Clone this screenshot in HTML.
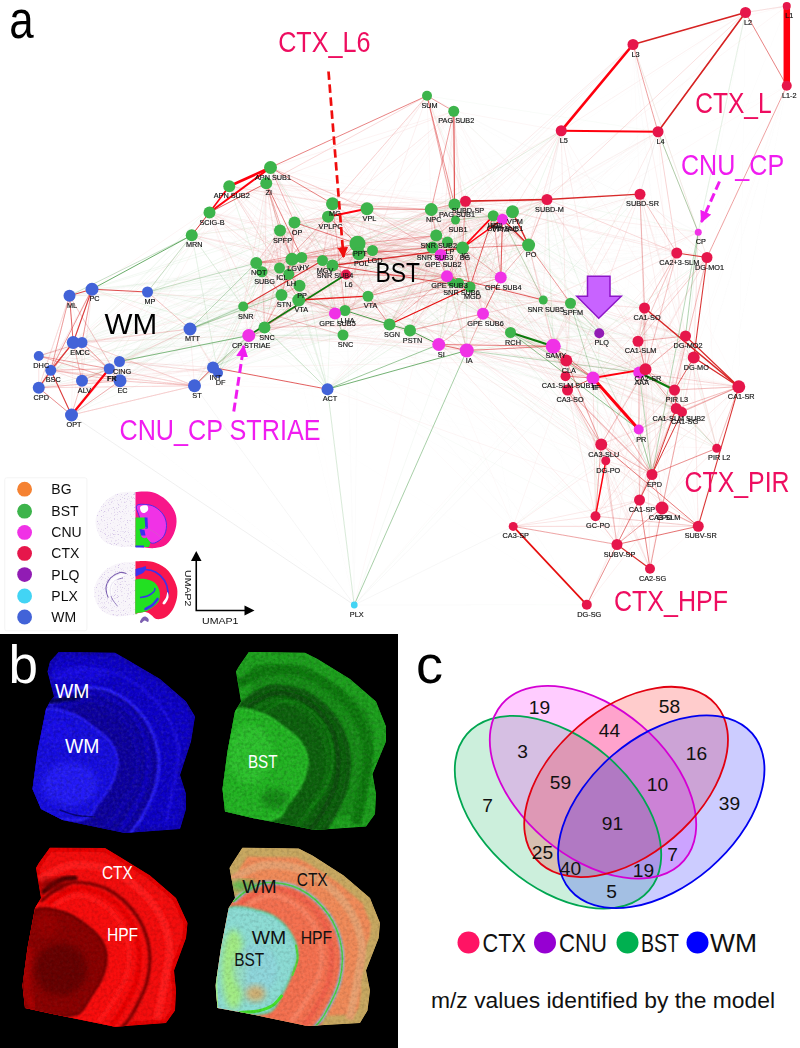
<!DOCTYPE html>
<html><head><meta charset="utf-8"><title>figure</title>
<style>
html,body{margin:0;padding:0;background:#fff;}
svg{display:block;font-family:"Liberation Sans",sans-serif;}
.nl{font-size:7.3px;fill:#111;stroke:#111;stroke-width:0.15px;text-anchor:middle;}
</style></head><body>
<svg width="800" height="1048" viewBox="0 0 800 1048">
<rect width="800" height="1048" fill="#fff"/>
<defs><filter id="soft" x="0" y="0" width="100%" height="100%" filterUnits="userSpaceOnUse"><feGaussianBlur stdDeviation="0.45"/></filter></defs>
<g id="panel-a" filter="url(#soft)">
<g stroke-linecap="round" fill="none">
<path d="M69.5 295.8L92.0 289.2" stroke="#d03030" stroke-width="0.8" stroke-opacity="0.100"/>
<path d="M69.5 295.8L147.5 292.0" stroke="#d03030" stroke-width="0.8" stroke-opacity="0.086"/>
<path d="M69.5 295.8L82.0 342.5" stroke="#d03030" stroke-width="0.8" stroke-opacity="0.050"/>
<path d="M69.5 295.8L50.8 370.2" stroke="#d03030" stroke-width="0.8" stroke-opacity="0.188"/>
<path d="M69.5 295.8L109.2 368.8" stroke="#d03030" stroke-width="0.8" stroke-opacity="0.029"/>
<path d="M69.5 295.8L120.0 380.8" stroke="#d03030" stroke-width="0.8" stroke-opacity="0.336"/>
<path d="M69.5 295.8L191.8 235.2" stroke="#2e8b2e" stroke-width="0.8" stroke-opacity="0.031"/>
<path d="M69.5 295.8L294.5 222.5" stroke="#2e8b2e" stroke-width="0.8" stroke-opacity="0.068"/>
<path d="M69.5 295.8L256.2 263.0" stroke="#d03030" stroke-width="0.8" stroke-opacity="0.024"/>
<path d="M69.5 295.8L301.8 257.5" stroke="#2e8b2e" stroke-width="0.8" stroke-opacity="0.051"/>
<path d="M69.5 295.8L322.5 260.5" stroke="#d03030" stroke-width="0.8" stroke-opacity="0.024"/>
<path d="M69.5 295.8L299.5 285.8" stroke="#2e8b2e" stroke-width="0.8" stroke-opacity="0.022"/>
<path d="M69.5 295.8L281.5 295.0" stroke="#2e8b2e" stroke-width="0.8" stroke-opacity="0.080"/>
<path d="M69.5 295.8L372.5 250.5" stroke="#8c8c8c" stroke-width="0.8" stroke-opacity="0.032"/>
<path d="M69.5 295.8L565.5 376.2" stroke="#8c8c8c" stroke-width="0.8" stroke-opacity="0.006"/>
<path d="M92.0 289.2L190.0 329.0" stroke="#d03030" stroke-width="0.8" stroke-opacity="0.086"/>
<path d="M92.0 289.2L73.2 342.5" stroke="#d03030" stroke-width="0.8" stroke-opacity="0.209"/>
<path d="M92.0 289.2L82.0 380.8" stroke="#d03030" stroke-width="0.8" stroke-opacity="0.101"/>
<path d="M92.0 289.2L38.8 387.8" stroke="#d03030" stroke-width="0.8" stroke-opacity="0.115"/>
<path d="M92.0 289.2L270.5 167.5" stroke="#d03030" stroke-width="0.8" stroke-opacity="0.057"/>
<path d="M92.0 289.2L328.0 216.8" stroke="#2e8b2e" stroke-width="0.8" stroke-opacity="0.063"/>
<path d="M92.0 289.2L262.0 271.8" stroke="#2e8b2e" stroke-width="0.8" stroke-opacity="0.076"/>
<path d="M92.0 289.2L288.8 274.2" stroke="#2e8b2e" stroke-width="0.8" stroke-opacity="0.028"/>
<path d="M92.0 289.2L322.5 260.5" stroke="#d03030" stroke-width="0.8" stroke-opacity="0.019"/>
<path d="M92.0 289.2L248.8 335.5" stroke="#2e8b2e" stroke-width="0.8" stroke-opacity="0.111"/>
<path d="M92.0 289.2L483.0 313.8" stroke="#8c8c8c" stroke-width="0.8" stroke-opacity="0.008"/>
<path d="M92.0 289.2L553.2 346.2" stroke="#2e8b2e" stroke-width="0.8" stroke-opacity="0.021"/>
<path d="M92.0 289.2L640.0 194.2" stroke="#8c8c8c" stroke-width="0.8" stroke-opacity="0.008"/>
<path d="M147.5 292.0L190.0 329.0" stroke="#d03030" stroke-width="0.8" stroke-opacity="0.179"/>
<path d="M147.5 292.0L73.2 342.5" stroke="#d03030" stroke-width="0.8" stroke-opacity="0.059"/>
<path d="M147.5 292.0L82.0 342.5" stroke="#d03030" stroke-width="0.8" stroke-opacity="0.029"/>
<path d="M147.5 292.0L50.8 370.2" stroke="#d03030" stroke-width="0.8" stroke-opacity="0.040"/>
<path d="M147.5 292.0L119.5 361.5" stroke="#d03030" stroke-width="0.8" stroke-opacity="0.034"/>
<path d="M147.5 292.0L194.5 385.8" stroke="#d03030" stroke-width="0.8" stroke-opacity="0.034"/>
<path d="M147.5 292.0L229.2 186.2" stroke="#d03030" stroke-width="0.8" stroke-opacity="0.043"/>
<path d="M147.5 292.0L191.8 235.2" stroke="#2e8b2e" stroke-width="0.8" stroke-opacity="0.151"/>
<path d="M147.5 292.0L280.0 230.5" stroke="#2e8b2e" stroke-width="0.8" stroke-opacity="0.059"/>
<path d="M147.5 292.0L328.0 216.8" stroke="#2e8b2e" stroke-width="0.8" stroke-opacity="0.116"/>
<path d="M147.5 292.0L301.8 257.5" stroke="#2e8b2e" stroke-width="0.8" stroke-opacity="0.057"/>
<path d="M147.5 292.0L332.5 265.5" stroke="#2e8b2e" stroke-width="0.8" stroke-opacity="0.043"/>
<path d="M147.5 292.0L243.2 306.5" stroke="#2e8b2e" stroke-width="0.8" stroke-opacity="0.043"/>
<path d="M147.5 292.0L358.8 253.8" stroke="#2e8b2e" stroke-width="0.8" stroke-opacity="0.076"/>
<path d="M147.5 292.0L372.5 250.5" stroke="#2e8b2e" stroke-width="0.8" stroke-opacity="0.021"/>
<path d="M147.5 292.0L343.0 335.0" stroke="#2e8b2e" stroke-width="0.8" stroke-opacity="0.073"/>
<path d="M147.5 292.0L248.8 335.5" stroke="#d03030" stroke-width="0.8" stroke-opacity="0.040"/>
<path d="M147.5 292.0L335.0 313.5" stroke="#d03030" stroke-width="0.8" stroke-opacity="0.125"/>
<path d="M147.5 292.0L440.8 255.0" stroke="#8c8c8c" stroke-width="0.8" stroke-opacity="0.014"/>
<path d="M147.5 292.0L447.0 276.2" stroke="#2e8b2e" stroke-width="0.8" stroke-opacity="0.061"/>
<path d="M147.5 292.0L438.8 344.5" stroke="#2e8b2e" stroke-width="0.8" stroke-opacity="0.016"/>
<path d="M147.5 292.0L346.0 274.5" stroke="#2e8b2e" stroke-width="0.8" stroke-opacity="0.019"/>
<path d="M147.5 292.0L465.5 201.2" stroke="#d03030" stroke-width="0.8" stroke-opacity="0.030"/>
<path d="M147.5 292.0L676.2 408.5" stroke="#8c8c8c" stroke-width="0.8" stroke-opacity="0.015"/>
<path d="M147.5 292.0L605.8 460.8" stroke="#d03030" stroke-width="0.8" stroke-opacity="0.033"/>
<path d="M190.0 329.0L73.2 342.5" stroke="#d03030" stroke-width="0.8" stroke-opacity="0.138"/>
<path d="M190.0 329.0L119.5 361.5" stroke="#d03030" stroke-width="0.8" stroke-opacity="0.115"/>
<path d="M190.0 329.0L109.2 368.8" stroke="#d03030" stroke-width="0.8" stroke-opacity="0.028"/>
<path d="M190.0 329.0L82.0 380.8" stroke="#d03030" stroke-width="0.8" stroke-opacity="0.149"/>
<path d="M190.0 329.0L194.5 385.8" stroke="#d03030" stroke-width="0.8" stroke-opacity="0.082"/>
<path d="M190.0 329.0L213.0 367.5" stroke="#d03030" stroke-width="0.8" stroke-opacity="0.125"/>
<path d="M190.0 329.0L218.0 373.0" stroke="#d03030" stroke-width="0.8" stroke-opacity="0.101"/>
<path d="M190.0 329.0L270.5 167.5" stroke="#2e8b2e" stroke-width="0.8" stroke-opacity="0.024"/>
<path d="M190.0 329.0L266.2 183.2" stroke="#d03030" stroke-width="0.8" stroke-opacity="0.029"/>
<path d="M190.0 329.0L367.0 208.8" stroke="#2e8b2e" stroke-width="0.8" stroke-opacity="0.052"/>
<path d="M190.0 329.0L256.2 263.0" stroke="#2e8b2e" stroke-width="0.8" stroke-opacity="0.161"/>
<path d="M190.0 329.0L262.0 271.8" stroke="#2e8b2e" stroke-width="0.8" stroke-opacity="0.066"/>
<path d="M190.0 329.0L332.5 265.5" stroke="#2e8b2e" stroke-width="0.8" stroke-opacity="0.074"/>
<path d="M190.0 329.0L299.5 285.8" stroke="#2e8b2e" stroke-width="0.8" stroke-opacity="0.097"/>
<path d="M190.0 329.0L281.5 295.0" stroke="#2e8b2e" stroke-width="0.8" stroke-opacity="0.259"/>
<path d="M190.0 329.0L298.8 300.0" stroke="#2e8b2e" stroke-width="0.8" stroke-opacity="0.141"/>
<path d="M190.0 329.0L243.2 306.5" stroke="#2e8b2e" stroke-width="0.8" stroke-opacity="0.204"/>
<path d="M190.0 329.0L345.0 310.5" stroke="#d03030" stroke-width="0.8" stroke-opacity="0.055"/>
<path d="M190.0 329.0L454.5 204.5" stroke="#8c8c8c" stroke-width="0.8" stroke-opacity="0.033"/>
<path d="M190.0 329.0L455.5 220.0" stroke="#8c8c8c" stroke-width="0.8" stroke-opacity="0.027"/>
<path d="M190.0 329.0L248.8 335.5" stroke="#2e8b2e" stroke-width="0.8" stroke-opacity="0.045"/>
<path d="M190.0 329.0L553.2 346.2" stroke="#8c8c8c" stroke-width="0.8" stroke-opacity="0.008"/>
<path d="M190.0 329.0L346.0 274.5" stroke="#d03030" stroke-width="0.8" stroke-opacity="0.074"/>
<path d="M73.2 342.5L82.0 342.5" stroke="#d03030" stroke-width="0.8" stroke-opacity="0.058"/>
<path d="M73.2 342.5L38.8 356.0" stroke="#d03030" stroke-width="0.8" stroke-opacity="0.039"/>
<path d="M73.2 342.5L50.8 370.2" stroke="#d03030" stroke-width="0.8" stroke-opacity="0.038"/>
<path d="M73.2 342.5L82.0 380.8" stroke="#d03030" stroke-width="0.8" stroke-opacity="0.156"/>
<path d="M73.2 342.5L38.8 387.8" stroke="#d03030" stroke-width="0.8" stroke-opacity="0.187"/>
<path d="M73.2 342.5L71.5 415.0" stroke="#d03030" stroke-width="0.8" stroke-opacity="0.053"/>
<path d="M73.2 342.5L194.5 385.8" stroke="#d03030" stroke-width="0.8" stroke-opacity="0.029"/>
<path d="M73.2 342.5L266.2 183.2" stroke="#d03030" stroke-width="0.8" stroke-opacity="0.064"/>
<path d="M73.2 342.5L209.5 212.5" stroke="#2e8b2e" stroke-width="0.8" stroke-opacity="0.048"/>
<path d="M73.2 342.5L328.0 216.8" stroke="#8c8c8c" stroke-width="0.8" stroke-opacity="0.028"/>
<path d="M73.2 342.5L367.0 208.8" stroke="#8c8c8c" stroke-width="0.8" stroke-opacity="0.037"/>
<path d="M73.2 342.5L262.0 271.8" stroke="#2e8b2e" stroke-width="0.8" stroke-opacity="0.075"/>
<path d="M73.2 342.5L248.8 335.5" stroke="#2e8b2e" stroke-width="0.8" stroke-opacity="0.031"/>
<path d="M73.2 342.5L466.8 350.5" stroke="#8c8c8c" stroke-width="0.8" stroke-opacity="0.007"/>
<path d="M73.2 342.5L605.8 460.8" stroke="#d03030" stroke-width="0.8" stroke-opacity="0.011"/>
<path d="M82.0 342.5L38.8 356.0" stroke="#d03030" stroke-width="0.8" stroke-opacity="0.425"/>
<path d="M82.0 342.5L119.5 361.5" stroke="#d03030" stroke-width="0.8" stroke-opacity="0.048"/>
<path d="M82.0 342.5L109.2 368.8" stroke="#d03030" stroke-width="0.8" stroke-opacity="0.076"/>
<path d="M82.0 342.5L82.0 380.8" stroke="#d03030" stroke-width="0.8" stroke-opacity="0.153"/>
<path d="M82.0 342.5L38.8 387.8" stroke="#d03030" stroke-width="0.8" stroke-opacity="0.150"/>
<path d="M82.0 342.5L71.5 415.0" stroke="#d03030" stroke-width="0.8" stroke-opacity="0.034"/>
<path d="M82.0 342.5L194.5 385.8" stroke="#d03030" stroke-width="0.8" stroke-opacity="0.026"/>
<path d="M82.0 342.5L266.2 183.2" stroke="#2e8b2e" stroke-width="0.8" stroke-opacity="0.029"/>
<path d="M82.0 342.5L294.5 222.5" stroke="#2e8b2e" stroke-width="0.8" stroke-opacity="0.028"/>
<path d="M82.0 342.5L367.0 208.8" stroke="#8c8c8c" stroke-width="0.8" stroke-opacity="0.061"/>
<path d="M82.0 342.5L281.5 295.0" stroke="#2e8b2e" stroke-width="0.8" stroke-opacity="0.072"/>
<path d="M82.0 342.5L368.0 296.2" stroke="#2e8b2e" stroke-width="0.8" stroke-opacity="0.015"/>
<path d="M82.0 342.5L264.5 327.5" stroke="#d03030" stroke-width="0.8" stroke-opacity="0.037"/>
<path d="M82.0 342.5L389.5 324.5" stroke="#8c8c8c" stroke-width="0.8" stroke-opacity="0.013"/>
<path d="M82.0 342.5L431.2 209.5" stroke="#2e8b2e" stroke-width="0.8" stroke-opacity="0.054"/>
<path d="M82.0 342.5L451.8 282.5" stroke="#2e8b2e" stroke-width="0.8" stroke-opacity="0.018"/>
<path d="M82.0 342.5L512.5 211.8" stroke="#2e8b2e" stroke-width="0.8" stroke-opacity="0.011"/>
<path d="M82.0 342.5L248.8 335.5" stroke="#d03030" stroke-width="0.8" stroke-opacity="0.089"/>
<path d="M82.0 342.5L346.0 274.5" stroke="#d03030" stroke-width="0.8" stroke-opacity="0.019"/>
<path d="M38.8 356.0L50.8 370.2" stroke="#d03030" stroke-width="0.8" stroke-opacity="0.045"/>
<path d="M38.8 356.0L119.5 361.5" stroke="#d03030" stroke-width="0.8" stroke-opacity="0.082"/>
<path d="M38.8 356.0L109.2 368.8" stroke="#d03030" stroke-width="0.8" stroke-opacity="0.084"/>
<path d="M38.8 356.0L120.0 380.8" stroke="#d03030" stroke-width="0.8" stroke-opacity="0.100"/>
<path d="M38.8 356.0L82.0 380.8" stroke="#d03030" stroke-width="0.8" stroke-opacity="0.073"/>
<path d="M38.8 356.0L38.8 387.8" stroke="#d03030" stroke-width="0.8" stroke-opacity="0.147"/>
<path d="M38.8 356.0L332.5 203.8" stroke="#d03030" stroke-width="0.8" stroke-opacity="0.044"/>
<path d="M38.8 356.0L279.5 268.0" stroke="#2e8b2e" stroke-width="0.8" stroke-opacity="0.016"/>
<path d="M38.8 356.0L288.8 274.2" stroke="#8c8c8c" stroke-width="0.8" stroke-opacity="0.043"/>
<path d="M38.8 356.0L281.5 295.0" stroke="#d03030" stroke-width="0.8" stroke-opacity="0.085"/>
<path d="M38.8 356.0L343.0 335.0" stroke="#2e8b2e" stroke-width="0.8" stroke-opacity="0.055"/>
<path d="M38.8 356.0L410.0 330.5" stroke="#8c8c8c" stroke-width="0.8" stroke-opacity="0.010"/>
<path d="M38.8 356.0L431.2 209.5" stroke="#8c8c8c" stroke-width="0.8" stroke-opacity="0.035"/>
<path d="M38.8 356.0L436.2 235.5" stroke="#8c8c8c" stroke-width="0.8" stroke-opacity="0.007"/>
<path d="M38.8 356.0L483.0 313.8" stroke="#8c8c8c" stroke-width="0.8" stroke-opacity="0.006"/>
<path d="M38.8 356.0L354.2 605.0" stroke="#8c8c8c" stroke-width="0.8" stroke-opacity="0.015"/>
<path d="M50.8 370.2L109.2 368.8" stroke="#d03030" stroke-width="0.8" stroke-opacity="0.038"/>
<path d="M50.8 370.2L120.0 380.8" stroke="#d03030" stroke-width="0.8" stroke-opacity="0.103"/>
<path d="M50.8 370.2L82.0 380.8" stroke="#d03030" stroke-width="0.8" stroke-opacity="0.174"/>
<path d="M50.8 370.2L71.5 415.0" stroke="#d03030" stroke-width="0.8" stroke-opacity="0.144"/>
<path d="M50.8 370.2L194.5 385.8" stroke="#d03030" stroke-width="0.8" stroke-opacity="0.047"/>
<path d="M50.8 370.2L191.8 235.2" stroke="#2e8b2e" stroke-width="0.8" stroke-opacity="0.056"/>
<path d="M50.8 370.2L367.0 208.8" stroke="#8c8c8c" stroke-width="0.8" stroke-opacity="0.019"/>
<path d="M50.8 370.2L279.5 268.0" stroke="#2e8b2e" stroke-width="0.8" stroke-opacity="0.084"/>
<path d="M50.8 370.2L299.5 285.8" stroke="#2e8b2e" stroke-width="0.8" stroke-opacity="0.022"/>
<path d="M50.8 370.2L243.2 306.5" stroke="#2e8b2e" stroke-width="0.8" stroke-opacity="0.086"/>
<path d="M50.8 370.2L264.5 327.5" stroke="#2e8b2e" stroke-width="0.8" stroke-opacity="0.033"/>
<path d="M50.8 370.2L410.0 330.5" stroke="#2e8b2e" stroke-width="0.8" stroke-opacity="0.023"/>
<path d="M50.8 370.2L436.2 235.5" stroke="#8c8c8c" stroke-width="0.8" stroke-opacity="0.009"/>
<path d="M50.8 370.2L459.0 283.0" stroke="#2e8b2e" stroke-width="0.8" stroke-opacity="0.052"/>
<path d="M50.8 370.2L335.0 313.5" stroke="#8c8c8c" stroke-width="0.8" stroke-opacity="0.020"/>
<path d="M119.5 361.5L109.2 368.8" stroke="#d03030" stroke-width="0.8" stroke-opacity="0.039"/>
<path d="M119.5 361.5L120.0 380.8" stroke="#2e8b2e" stroke-width="0.8" stroke-opacity="0.042"/>
<path d="M119.5 361.5L82.0 380.8" stroke="#d03030" stroke-width="0.8" stroke-opacity="0.068"/>
<path d="M119.5 361.5L71.5 415.0" stroke="#d03030" stroke-width="0.8" stroke-opacity="0.118"/>
<path d="M119.5 361.5L194.5 385.8" stroke="#d03030" stroke-width="0.8" stroke-opacity="0.042"/>
<path d="M119.5 361.5L213.0 367.5" stroke="#d03030" stroke-width="0.8" stroke-opacity="0.143"/>
<path d="M119.5 361.5L218.0 373.0" stroke="#d03030" stroke-width="0.8" stroke-opacity="0.226"/>
<path d="M119.5 361.5L294.5 222.5" stroke="#2e8b2e" stroke-width="0.8" stroke-opacity="0.061"/>
<path d="M119.5 361.5L256.2 263.0" stroke="#2e8b2e" stroke-width="0.8" stroke-opacity="0.042"/>
<path d="M119.5 361.5L262.0 271.8" stroke="#2e8b2e" stroke-width="0.8" stroke-opacity="0.038"/>
<path d="M119.5 361.5L301.8 257.5" stroke="#2e8b2e" stroke-width="0.8" stroke-opacity="0.034"/>
<path d="M119.5 361.5L288.8 274.2" stroke="#2e8b2e" stroke-width="0.8" stroke-opacity="0.066"/>
<path d="M119.5 361.5L322.5 260.5" stroke="#2e8b2e" stroke-width="0.8" stroke-opacity="0.027"/>
<path d="M119.5 361.5L332.5 265.5" stroke="#2e8b2e" stroke-width="0.8" stroke-opacity="0.047"/>
<path d="M119.5 361.5L298.8 300.0" stroke="#2e8b2e" stroke-width="0.8" stroke-opacity="0.036"/>
<path d="M119.5 361.5L243.2 306.5" stroke="#2e8b2e" stroke-width="0.8" stroke-opacity="0.045"/>
<path d="M119.5 361.5L264.5 327.5" stroke="#d03030" stroke-width="0.8" stroke-opacity="0.038"/>
<path d="M119.5 361.5L570.5 303.2" stroke="#8c8c8c" stroke-width="0.8" stroke-opacity="0.006"/>
<path d="M119.5 361.5L248.8 335.5" stroke="#2e8b2e" stroke-width="0.8" stroke-opacity="0.151"/>
<path d="M119.5 361.5L335.0 313.5" stroke="#2e8b2e" stroke-width="0.8" stroke-opacity="0.022"/>
<path d="M119.5 361.5L447.0 276.2" stroke="#8c8c8c" stroke-width="0.8" stroke-opacity="0.023"/>
<path d="M109.2 368.8L120.0 380.8" stroke="#d03030" stroke-width="0.8" stroke-opacity="0.060"/>
<path d="M109.2 368.8L71.5 415.0" stroke="#d03030" stroke-width="0.8" stroke-opacity="0.063"/>
<path d="M109.2 368.8L218.0 373.0" stroke="#d03030" stroke-width="0.8" stroke-opacity="0.047"/>
<path d="M109.2 368.8L327.5 389.2" stroke="#d03030" stroke-width="0.8" stroke-opacity="0.017"/>
<path d="M109.2 368.8L229.2 186.2" stroke="#2e8b2e" stroke-width="0.8" stroke-opacity="0.062"/>
<path d="M109.2 368.8L332.5 203.8" stroke="#8c8c8c" stroke-width="0.8" stroke-opacity="0.042"/>
<path d="M109.2 368.8L262.0 271.8" stroke="#2e8b2e" stroke-width="0.8" stroke-opacity="0.032"/>
<path d="M109.2 368.8L264.5 327.5" stroke="#2e8b2e" stroke-width="0.8" stroke-opacity="0.025"/>
<path d="M109.2 368.8L455.5 220.0" stroke="#2e8b2e" stroke-width="0.8" stroke-opacity="0.026"/>
<path d="M109.2 368.8L459.0 283.0" stroke="#8c8c8c" stroke-width="0.8" stroke-opacity="0.008"/>
<path d="M109.2 368.8L470.0 287.0" stroke="#2e8b2e" stroke-width="0.8" stroke-opacity="0.011"/>
<path d="M109.2 368.8L543.2 300.0" stroke="#2e8b2e" stroke-width="0.8" stroke-opacity="0.020"/>
<path d="M109.2 368.8L438.8 344.5" stroke="#8c8c8c" stroke-width="0.8" stroke-opacity="0.010"/>
<path d="M109.2 368.8L638.8 429.5" stroke="#8c8c8c" stroke-width="0.8" stroke-opacity="0.005"/>
<path d="M109.2 368.8L685.5 336.0" stroke="#8c8c8c" stroke-width="0.8" stroke-opacity="0.010"/>
<path d="M109.2 368.8L599.2 333.2" stroke="#8c8c8c" stroke-width="0.8" stroke-opacity="0.012"/>
<path d="M120.0 380.8L38.8 387.8" stroke="#d03030" stroke-width="0.8" stroke-opacity="0.154"/>
<path d="M120.0 380.8L71.5 415.0" stroke="#d03030" stroke-width="0.8" stroke-opacity="0.203"/>
<path d="M120.0 380.8L194.5 385.8" stroke="#d03030" stroke-width="0.8" stroke-opacity="0.058"/>
<path d="M120.0 380.8L213.0 367.5" stroke="#d03030" stroke-width="0.8" stroke-opacity="0.098"/>
<path d="M120.0 380.8L218.0 373.0" stroke="#d03030" stroke-width="0.8" stroke-opacity="0.047"/>
<path d="M120.0 380.8L229.2 186.2" stroke="#d03030" stroke-width="0.8" stroke-opacity="0.052"/>
<path d="M120.0 380.8L332.5 203.8" stroke="#8c8c8c" stroke-width="0.8" stroke-opacity="0.054"/>
<path d="M120.0 380.8L262.0 271.8" stroke="#2e8b2e" stroke-width="0.8" stroke-opacity="0.060"/>
<path d="M120.0 380.8L292.0 259.2" stroke="#2e8b2e" stroke-width="0.8" stroke-opacity="0.056"/>
<path d="M120.0 380.8L332.5 265.5" stroke="#d03030" stroke-width="0.8" stroke-opacity="0.035"/>
<path d="M120.0 380.8L372.5 250.5" stroke="#8c8c8c" stroke-width="0.8" stroke-opacity="0.069"/>
<path d="M120.0 380.8L454.5 204.5" stroke="#8c8c8c" stroke-width="0.8" stroke-opacity="0.039"/>
<path d="M120.0 380.8L470.0 287.0" stroke="#8c8c8c" stroke-width="0.8" stroke-opacity="0.021"/>
<path d="M120.0 380.8L248.8 335.5" stroke="#2e8b2e" stroke-width="0.8" stroke-opacity="0.025"/>
<path d="M82.0 380.8L38.8 387.8" stroke="#d03030" stroke-width="0.8" stroke-opacity="0.096"/>
<path d="M82.0 380.8L71.5 415.0" stroke="#d03030" stroke-width="0.8" stroke-opacity="0.175"/>
<path d="M82.0 380.8L213.0 367.5" stroke="#d03030" stroke-width="0.8" stroke-opacity="0.097"/>
<path d="M82.0 380.8L327.5 389.2" stroke="#d03030" stroke-width="0.8" stroke-opacity="0.031"/>
<path d="M82.0 380.8L332.5 203.8" stroke="#8c8c8c" stroke-width="0.8" stroke-opacity="0.053"/>
<path d="M82.0 380.8L292.0 259.2" stroke="#2e8b2e" stroke-width="0.8" stroke-opacity="0.085"/>
<path d="M82.0 380.8L243.2 306.5" stroke="#2e8b2e" stroke-width="0.8" stroke-opacity="0.065"/>
<path d="M82.0 380.8L447.5 242.0" stroke="#2e8b2e" stroke-width="0.8" stroke-opacity="0.019"/>
<path d="M82.0 380.8L483.0 313.8" stroke="#d03030" stroke-width="0.8" stroke-opacity="0.042"/>
<path d="M82.0 380.8L502.5 219.2" stroke="#2e8b2e" stroke-width="0.8" stroke-opacity="0.012"/>
<path d="M82.0 380.8L346.0 274.5" stroke="#2e8b2e" stroke-width="0.8" stroke-opacity="0.033"/>
<path d="M82.0 380.8L682.0 412.0" stroke="#d03030" stroke-width="0.8" stroke-opacity="0.004"/>
<path d="M82.0 380.8L567.5 390.0" stroke="#d03030" stroke-width="0.8" stroke-opacity="0.007"/>
<path d="M38.8 387.8L71.5 415.0" stroke="#d03030" stroke-width="0.8" stroke-opacity="0.187"/>
<path d="M38.8 387.8L213.0 367.5" stroke="#d03030" stroke-width="0.8" stroke-opacity="0.036"/>
<path d="M38.8 387.8L229.2 186.2" stroke="#2e8b2e" stroke-width="0.8" stroke-opacity="0.067"/>
<path d="M38.8 387.8L280.0 230.5" stroke="#8c8c8c" stroke-width="0.8" stroke-opacity="0.019"/>
<path d="M38.8 387.8L256.2 263.0" stroke="#d03030" stroke-width="0.8" stroke-opacity="0.029"/>
<path d="M38.8 387.8L262.0 271.8" stroke="#d03030" stroke-width="0.8" stroke-opacity="0.045"/>
<path d="M38.8 387.8L357.5 243.8" stroke="#8c8c8c" stroke-width="0.8" stroke-opacity="0.009"/>
<path d="M38.8 387.8L389.5 324.5" stroke="#8c8c8c" stroke-width="0.8" stroke-opacity="0.051"/>
<path d="M38.8 387.8L436.2 235.5" stroke="#2e8b2e" stroke-width="0.8" stroke-opacity="0.033"/>
<path d="M38.8 387.8L451.8 282.5" stroke="#2e8b2e" stroke-width="0.8" stroke-opacity="0.045"/>
<path d="M38.8 387.8L459.0 283.0" stroke="#2e8b2e" stroke-width="0.8" stroke-opacity="0.030"/>
<path d="M38.8 387.8L248.8 335.5" stroke="#2e8b2e" stroke-width="0.8" stroke-opacity="0.027"/>
<path d="M38.8 387.8L335.0 313.5" stroke="#d03030" stroke-width="0.8" stroke-opacity="0.013"/>
<path d="M71.5 415.0L191.8 235.2" stroke="#2e8b2e" stroke-width="0.8" stroke-opacity="0.072"/>
<path d="M71.5 415.0L332.5 203.8" stroke="#2e8b2e" stroke-width="0.8" stroke-opacity="0.040"/>
<path d="M71.5 415.0L292.0 259.2" stroke="#8c8c8c" stroke-width="0.8" stroke-opacity="0.050"/>
<path d="M71.5 415.0L322.5 260.5" stroke="#2e8b2e" stroke-width="0.8" stroke-opacity="0.054"/>
<path d="M71.5 415.0L264.5 327.5" stroke="#2e8b2e" stroke-width="0.8" stroke-opacity="0.046"/>
<path d="M194.5 385.8L213.0 367.5" stroke="#d03030" stroke-width="0.8" stroke-opacity="0.212"/>
<path d="M194.5 385.8L266.2 183.2" stroke="#2e8b2e" stroke-width="0.8" stroke-opacity="0.041"/>
<path d="M194.5 385.8L280.0 230.5" stroke="#d03030" stroke-width="0.8" stroke-opacity="0.050"/>
<path d="M194.5 385.8L332.5 203.8" stroke="#d03030" stroke-width="0.8" stroke-opacity="0.018"/>
<path d="M194.5 385.8L367.0 208.8" stroke="#d03030" stroke-width="0.8" stroke-opacity="0.016"/>
<path d="M194.5 385.8L288.8 274.2" stroke="#2e8b2e" stroke-width="0.8" stroke-opacity="0.023"/>
<path d="M194.5 385.8L281.5 295.0" stroke="#2e8b2e" stroke-width="0.8" stroke-opacity="0.041"/>
<path d="M194.5 385.8L243.2 306.5" stroke="#2e8b2e" stroke-width="0.8" stroke-opacity="0.081"/>
<path d="M194.5 385.8L345.0 310.5" stroke="#2e8b2e" stroke-width="0.8" stroke-opacity="0.024"/>
<path d="M194.5 385.8L264.5 327.5" stroke="#2e8b2e" stroke-width="0.8" stroke-opacity="0.123"/>
<path d="M194.5 385.8L493.2 215.8" stroke="#8c8c8c" stroke-width="0.8" stroke-opacity="0.036"/>
<path d="M194.5 385.8L248.8 335.5" stroke="#2e8b2e" stroke-width="0.8" stroke-opacity="0.133"/>
<path d="M194.5 385.8L466.8 350.5" stroke="#8c8c8c" stroke-width="0.8" stroke-opacity="0.026"/>
<path d="M194.5 385.8L354.2 605.0" stroke="#8c8c8c" stroke-width="0.8" stroke-opacity="0.018"/>
<path d="M213.0 367.5L294.5 222.5" stroke="#d03030" stroke-width="0.8" stroke-opacity="0.125"/>
<path d="M213.0 367.5L280.0 230.5" stroke="#2e8b2e" stroke-width="0.8" stroke-opacity="0.093"/>
<path d="M213.0 367.5L332.5 203.8" stroke="#2e8b2e" stroke-width="0.8" stroke-opacity="0.021"/>
<path d="M213.0 367.5L367.0 208.8" stroke="#2e8b2e" stroke-width="0.8" stroke-opacity="0.017"/>
<path d="M213.0 367.5L301.8 257.5" stroke="#2e8b2e" stroke-width="0.8" stroke-opacity="0.023"/>
<path d="M213.0 367.5L288.8 274.2" stroke="#2e8b2e" stroke-width="0.8" stroke-opacity="0.035"/>
<path d="M213.0 367.5L281.5 295.0" stroke="#2e8b2e" stroke-width="0.8" stroke-opacity="0.046"/>
<path d="M213.0 367.5L298.8 300.0" stroke="#2e8b2e" stroke-width="0.8" stroke-opacity="0.068"/>
<path d="M213.0 367.5L357.5 243.8" stroke="#d03030" stroke-width="0.8" stroke-opacity="0.112"/>
<path d="M213.0 367.5L372.5 250.5" stroke="#d03030" stroke-width="0.8" stroke-opacity="0.045"/>
<path d="M213.0 367.5L368.0 296.2" stroke="#2e8b2e" stroke-width="0.8" stroke-opacity="0.024"/>
<path d="M213.0 367.5L345.0 310.5" stroke="#2e8b2e" stroke-width="0.8" stroke-opacity="0.066"/>
<path d="M213.0 367.5L343.0 335.0" stroke="#2e8b2e" stroke-width="0.8" stroke-opacity="0.025"/>
<path d="M213.0 367.5L447.5 242.0" stroke="#2e8b2e" stroke-width="0.8" stroke-opacity="0.034"/>
<path d="M213.0 367.5L451.8 282.5" stroke="#2e8b2e" stroke-width="0.8" stroke-opacity="0.036"/>
<path d="M213.0 367.5L528.6 245.1" stroke="#2e8b2e" stroke-width="0.8" stroke-opacity="0.049"/>
<path d="M213.0 367.5L248.8 335.5" stroke="#2e8b2e" stroke-width="0.8" stroke-opacity="0.197"/>
<path d="M213.0 367.5L335.0 313.5" stroke="#2e8b2e" stroke-width="0.8" stroke-opacity="0.117"/>
<path d="M213.0 367.5L346.0 274.5" stroke="#d03030" stroke-width="0.8" stroke-opacity="0.100"/>
<path d="M213.0 367.5L640.0 194.2" stroke="#d03030" stroke-width="0.8" stroke-opacity="0.017"/>
<path d="M213.0 367.5L566.2 360.5" stroke="#d03030" stroke-width="0.8" stroke-opacity="0.053"/>
<path d="M213.0 367.5L595.5 516.2" stroke="#8c8c8c" stroke-width="0.8" stroke-opacity="0.008"/>
<path d="M218.0 373.0L191.8 235.2" stroke="#2e8b2e" stroke-width="0.8" stroke-opacity="0.140"/>
<path d="M218.0 373.0L262.0 271.8" stroke="#2e8b2e" stroke-width="0.8" stroke-opacity="0.133"/>
<path d="M218.0 373.0L301.8 257.5" stroke="#2e8b2e" stroke-width="0.8" stroke-opacity="0.028"/>
<path d="M218.0 373.0L288.8 274.2" stroke="#2e8b2e" stroke-width="0.8" stroke-opacity="0.040"/>
<path d="M218.0 373.0L322.5 260.5" stroke="#2e8b2e" stroke-width="0.8" stroke-opacity="0.038"/>
<path d="M218.0 373.0L281.5 295.0" stroke="#2e8b2e" stroke-width="0.8" stroke-opacity="0.052"/>
<path d="M218.0 373.0L243.2 306.5" stroke="#2e8b2e" stroke-width="0.8" stroke-opacity="0.062"/>
<path d="M218.0 373.0L345.0 310.5" stroke="#d03030" stroke-width="0.8" stroke-opacity="0.061"/>
<path d="M218.0 373.0L264.5 327.5" stroke="#2e8b2e" stroke-width="0.8" stroke-opacity="0.037"/>
<path d="M218.0 373.0L343.0 335.0" stroke="#2e8b2e" stroke-width="0.8" stroke-opacity="0.065"/>
<path d="M218.0 373.0L462.5 248.0" stroke="#d03030" stroke-width="0.8" stroke-opacity="0.031"/>
<path d="M218.0 373.0L451.8 282.5" stroke="#2e8b2e" stroke-width="0.8" stroke-opacity="0.016"/>
<path d="M218.0 373.0L248.8 335.5" stroke="#2e8b2e" stroke-width="0.8" stroke-opacity="0.125"/>
<path d="M218.0 373.0L440.8 255.0" stroke="#2e8b2e" stroke-width="0.8" stroke-opacity="0.016"/>
<path d="M218.0 373.0L500.8 277.5" stroke="#8c8c8c" stroke-width="0.8" stroke-opacity="0.061"/>
<path d="M218.0 373.0L466.8 350.5" stroke="#2e8b2e" stroke-width="0.8" stroke-opacity="0.023"/>
<path d="M218.0 373.0L346.0 274.5" stroke="#d03030" stroke-width="0.8" stroke-opacity="0.096"/>
<path d="M218.0 373.0L586.8 604.8" stroke="#8c8c8c" stroke-width="0.8" stroke-opacity="0.012"/>
<path d="M327.5 389.2L266.2 183.2" stroke="#2e8b2e" stroke-width="0.8" stroke-opacity="0.098"/>
<path d="M327.5 389.2L262.0 271.8" stroke="#2e8b2e" stroke-width="0.8" stroke-opacity="0.089"/>
<path d="M327.5 389.2L301.8 257.5" stroke="#2e8b2e" stroke-width="0.8" stroke-opacity="0.104"/>
<path d="M327.5 389.2L332.5 265.5" stroke="#2e8b2e" stroke-width="0.8" stroke-opacity="0.069"/>
<path d="M327.5 389.2L281.5 295.0" stroke="#2e8b2e" stroke-width="0.8" stroke-opacity="0.084"/>
<path d="M327.5 389.2L298.8 300.0" stroke="#2e8b2e" stroke-width="0.8" stroke-opacity="0.128"/>
<path d="M327.5 389.2L264.5 327.5" stroke="#2e8b2e" stroke-width="0.8" stroke-opacity="0.119"/>
<path d="M327.5 389.2L447.5 242.0" stroke="#2e8b2e" stroke-width="0.8" stroke-opacity="0.034"/>
<path d="M327.5 389.2L432.5 247.5" stroke="#d03030" stroke-width="0.8" stroke-opacity="0.031"/>
<path d="M327.5 389.2L451.8 282.5" stroke="#2e8b2e" stroke-width="0.8" stroke-opacity="0.025"/>
<path d="M327.5 389.2L459.0 283.0" stroke="#2e8b2e" stroke-width="0.8" stroke-opacity="0.093"/>
<path d="M327.5 389.2L470.0 287.0" stroke="#2e8b2e" stroke-width="0.8" stroke-opacity="0.047"/>
<path d="M327.5 389.2L493.2 215.8" stroke="#d03030" stroke-width="0.8" stroke-opacity="0.075"/>
<path d="M327.5 389.2L248.8 335.5" stroke="#2e8b2e" stroke-width="0.8" stroke-opacity="0.057"/>
<path d="M327.5 389.2L447.0 276.2" stroke="#2e8b2e" stroke-width="0.8" stroke-opacity="0.027"/>
<path d="M327.5 389.2L500.8 277.5" stroke="#2e8b2e" stroke-width="0.8" stroke-opacity="0.111"/>
<path d="M327.5 389.2L658.0 131.8" stroke="#d03030" stroke-width="0.8" stroke-opacity="0.039"/>
<path d="M327.5 389.2L561.2 130.8" stroke="#d03030" stroke-width="0.8" stroke-opacity="0.011"/>
<path d="M327.5 389.2L644.5 308.0" stroke="#2e8b2e" stroke-width="0.8" stroke-opacity="0.012"/>
<path d="M327.5 389.2L652.0 474.5" stroke="#8c8c8c" stroke-width="0.8" stroke-opacity="0.013"/>
<path d="M327.5 389.2L639.5 500.0" stroke="#d03030" stroke-width="0.8" stroke-opacity="0.055"/>
<path d="M270.5 167.5L266.2 183.2" stroke="#d03030" stroke-width="0.8" stroke-opacity="0.095"/>
<path d="M270.5 167.5L209.5 212.5" stroke="#2e8b2e" stroke-width="0.8" stroke-opacity="0.030"/>
<path d="M270.5 167.5L280.0 230.5" stroke="#d03030" stroke-width="0.8" stroke-opacity="0.038"/>
<path d="M270.5 167.5L256.2 263.0" stroke="#d03030" stroke-width="0.8" stroke-opacity="0.052"/>
<path d="M270.5 167.5L301.8 257.5" stroke="#d03030" stroke-width="0.8" stroke-opacity="0.037"/>
<path d="M270.5 167.5L322.5 260.5" stroke="#d03030" stroke-width="0.8" stroke-opacity="0.135"/>
<path d="M270.5 167.5L332.5 265.5" stroke="#2e8b2e" stroke-width="0.8" stroke-opacity="0.165"/>
<path d="M270.5 167.5L299.5 285.8" stroke="#d03030" stroke-width="0.8" stroke-opacity="0.046"/>
<path d="M270.5 167.5L281.5 295.0" stroke="#d03030" stroke-width="0.8" stroke-opacity="0.067"/>
<path d="M270.5 167.5L372.5 250.5" stroke="#d03030" stroke-width="0.8" stroke-opacity="0.053"/>
<path d="M270.5 167.5L345.0 310.5" stroke="#d03030" stroke-width="0.8" stroke-opacity="0.045"/>
<path d="M270.5 167.5L410.0 330.5" stroke="#d03030" stroke-width="0.8" stroke-opacity="0.022"/>
<path d="M270.5 167.5L431.2 209.5" stroke="#d03030" stroke-width="0.8" stroke-opacity="0.022"/>
<path d="M270.5 167.5L447.5 242.0" stroke="#d03030" stroke-width="0.8" stroke-opacity="0.062"/>
<path d="M270.5 167.5L459.0 283.0" stroke="#d03030" stroke-width="0.8" stroke-opacity="0.017"/>
<path d="M270.5 167.5L470.0 287.0" stroke="#2e8b2e" stroke-width="0.8" stroke-opacity="0.020"/>
<path d="M270.5 167.5L493.2 215.8" stroke="#d03030" stroke-width="0.8" stroke-opacity="0.037"/>
<path d="M270.5 167.5L453.8 111.2" stroke="#d03030" stroke-width="0.8" stroke-opacity="0.062"/>
<path d="M270.5 167.5L543.2 300.0" stroke="#d03030" stroke-width="0.8" stroke-opacity="0.034"/>
<path d="M270.5 167.5L335.0 313.5" stroke="#d03030" stroke-width="0.8" stroke-opacity="0.051"/>
<path d="M270.5 167.5L440.8 255.0" stroke="#d03030" stroke-width="0.8" stroke-opacity="0.027"/>
<path d="M270.5 167.5L500.8 277.5" stroke="#2e8b2e" stroke-width="0.8" stroke-opacity="0.018"/>
<path d="M270.5 167.5L346.0 274.5" stroke="#d03030" stroke-width="0.8" stroke-opacity="0.056"/>
<path d="M270.5 167.5L547.0 199.5" stroke="#8c8c8c" stroke-width="0.8" stroke-opacity="0.011"/>
<path d="M270.5 167.5L674.5 390.0" stroke="#d03030" stroke-width="0.8" stroke-opacity="0.008"/>
<path d="M270.5 167.5L565.5 376.2" stroke="#8c8c8c" stroke-width="0.8" stroke-opacity="0.038"/>
<path d="M270.5 167.5L567.5 390.0" stroke="#8c8c8c" stroke-width="0.8" stroke-opacity="0.008"/>
<path d="M270.5 167.5L605.8 460.8" stroke="#d03030" stroke-width="0.8" stroke-opacity="0.036"/>
<path d="M270.5 167.5L652.0 474.5" stroke="#8c8c8c" stroke-width="0.8" stroke-opacity="0.005"/>
<path d="M266.2 183.2L229.2 186.2" stroke="#d03030" stroke-width="0.8" stroke-opacity="0.035"/>
<path d="M266.2 183.2L209.5 212.5" stroke="#d03030" stroke-width="0.8" stroke-opacity="0.031"/>
<path d="M266.2 183.2L191.8 235.2" stroke="#d03030" stroke-width="0.8" stroke-opacity="0.074"/>
<path d="M266.2 183.2L294.5 222.5" stroke="#d03030" stroke-width="0.8" stroke-opacity="0.125"/>
<path d="M266.2 183.2L332.5 203.8" stroke="#d03030" stroke-width="0.8" stroke-opacity="0.044"/>
<path d="M266.2 183.2L262.0 271.8" stroke="#d03030" stroke-width="0.8" stroke-opacity="0.053"/>
<path d="M266.2 183.2L279.5 268.0" stroke="#d03030" stroke-width="0.8" stroke-opacity="0.181"/>
<path d="M266.2 183.2L292.0 259.2" stroke="#d03030" stroke-width="0.8" stroke-opacity="0.089"/>
<path d="M266.2 183.2L298.8 300.0" stroke="#d03030" stroke-width="0.8" stroke-opacity="0.048"/>
<path d="M266.2 183.2L243.2 306.5" stroke="#d03030" stroke-width="0.8" stroke-opacity="0.107"/>
<path d="M266.2 183.2L358.8 253.8" stroke="#d03030" stroke-width="0.8" stroke-opacity="0.040"/>
<path d="M266.2 183.2L372.5 250.5" stroke="#d03030" stroke-width="0.8" stroke-opacity="0.052"/>
<path d="M266.2 183.2L345.0 310.5" stroke="#d03030" stroke-width="0.8" stroke-opacity="0.039"/>
<path d="M266.2 183.2L264.5 327.5" stroke="#d03030" stroke-width="0.8" stroke-opacity="0.114"/>
<path d="M266.2 183.2L410.0 330.5" stroke="#2e8b2e" stroke-width="0.8" stroke-opacity="0.018"/>
<path d="M266.2 183.2L454.5 204.5" stroke="#d03030" stroke-width="0.8" stroke-opacity="0.124"/>
<path d="M266.2 183.2L455.5 220.0" stroke="#d03030" stroke-width="0.8" stroke-opacity="0.073"/>
<path d="M266.2 183.2L453.8 111.2" stroke="#d03030" stroke-width="0.8" stroke-opacity="0.081"/>
<path d="M266.2 183.2L248.8 335.5" stroke="#2e8b2e" stroke-width="0.8" stroke-opacity="0.043"/>
<path d="M266.2 183.2L483.0 313.8" stroke="#2e8b2e" stroke-width="0.8" stroke-opacity="0.016"/>
<path d="M266.2 183.2L346.0 274.5" stroke="#2e8b2e" stroke-width="0.8" stroke-opacity="0.032"/>
<path d="M266.2 183.2L465.5 201.2" stroke="#d03030" stroke-width="0.8" stroke-opacity="0.019"/>
<path d="M266.2 183.2L547.0 199.5" stroke="#8c8c8c" stroke-width="0.8" stroke-opacity="0.033"/>
<path d="M266.2 183.2L645.5 369.2" stroke="#d03030" stroke-width="0.8" stroke-opacity="0.018"/>
<path d="M266.2 183.2L599.2 333.2" stroke="#2e8b2e" stroke-width="0.8" stroke-opacity="0.018"/>
<path d="M229.2 186.2L209.5 212.5" stroke="#d03030" stroke-width="0.8" stroke-opacity="0.070"/>
<path d="M229.2 186.2L191.8 235.2" stroke="#d03030" stroke-width="0.8" stroke-opacity="0.047"/>
<path d="M229.2 186.2L294.5 222.5" stroke="#d03030" stroke-width="0.8" stroke-opacity="0.030"/>
<path d="M229.2 186.2L280.0 230.5" stroke="#d03030" stroke-width="0.8" stroke-opacity="0.034"/>
<path d="M229.2 186.2L332.5 203.8" stroke="#d03030" stroke-width="0.8" stroke-opacity="0.094"/>
<path d="M229.2 186.2L367.0 208.8" stroke="#d03030" stroke-width="0.8" stroke-opacity="0.136"/>
<path d="M229.2 186.2L256.2 263.0" stroke="#2e8b2e" stroke-width="0.8" stroke-opacity="0.127"/>
<path d="M229.2 186.2L279.5 268.0" stroke="#d03030" stroke-width="0.8" stroke-opacity="0.151"/>
<path d="M229.2 186.2L292.0 259.2" stroke="#d03030" stroke-width="0.8" stroke-opacity="0.083"/>
<path d="M229.2 186.2L288.8 274.2" stroke="#d03030" stroke-width="0.8" stroke-opacity="0.087"/>
<path d="M229.2 186.2L299.5 285.8" stroke="#d03030" stroke-width="0.8" stroke-opacity="0.097"/>
<path d="M229.2 186.2L298.8 300.0" stroke="#d03030" stroke-width="0.8" stroke-opacity="0.057"/>
<path d="M229.2 186.2L372.5 250.5" stroke="#d03030" stroke-width="0.8" stroke-opacity="0.059"/>
<path d="M229.2 186.2L368.0 296.2" stroke="#d03030" stroke-width="0.8" stroke-opacity="0.082"/>
<path d="M229.2 186.2L431.2 209.5" stroke="#d03030" stroke-width="0.8" stroke-opacity="0.019"/>
<path d="M229.2 186.2L462.5 248.0" stroke="#d03030" stroke-width="0.8" stroke-opacity="0.098"/>
<path d="M229.2 186.2L451.8 282.5" stroke="#d03030" stroke-width="0.8" stroke-opacity="0.058"/>
<path d="M229.2 186.2L346.0 274.5" stroke="#2e8b2e" stroke-width="0.8" stroke-opacity="0.041"/>
<path d="M229.2 186.2L465.5 201.2" stroke="#d03030" stroke-width="0.8" stroke-opacity="0.052"/>
<path d="M229.2 186.2L547.0 199.5" stroke="#8c8c8c" stroke-width="0.8" stroke-opacity="0.013"/>
<path d="M229.2 186.2L707.0 257.5" stroke="#8c8c8c" stroke-width="0.8" stroke-opacity="0.016"/>
<path d="M229.2 186.2L674.5 390.0" stroke="#8c8c8c" stroke-width="0.8" stroke-opacity="0.010"/>
<path d="M229.2 186.2L676.2 408.5" stroke="#d03030" stroke-width="0.8" stroke-opacity="0.012"/>
<path d="M209.5 212.5L280.0 230.5" stroke="#d03030" stroke-width="0.8" stroke-opacity="0.077"/>
<path d="M209.5 212.5L279.5 268.0" stroke="#d03030" stroke-width="0.8" stroke-opacity="0.032"/>
<path d="M209.5 212.5L301.8 257.5" stroke="#d03030" stroke-width="0.8" stroke-opacity="0.056"/>
<path d="M209.5 212.5L288.8 274.2" stroke="#d03030" stroke-width="0.8" stroke-opacity="0.118"/>
<path d="M209.5 212.5L332.5 265.5" stroke="#d03030" stroke-width="0.8" stroke-opacity="0.063"/>
<path d="M209.5 212.5L281.5 295.0" stroke="#d03030" stroke-width="0.8" stroke-opacity="0.037"/>
<path d="M209.5 212.5L243.2 306.5" stroke="#d03030" stroke-width="0.8" stroke-opacity="0.068"/>
<path d="M209.5 212.5L357.5 243.8" stroke="#d03030" stroke-width="0.8" stroke-opacity="0.078"/>
<path d="M209.5 212.5L358.8 253.8" stroke="#d03030" stroke-width="0.8" stroke-opacity="0.027"/>
<path d="M209.5 212.5L368.0 296.2" stroke="#d03030" stroke-width="0.8" stroke-opacity="0.128"/>
<path d="M209.5 212.5L264.5 327.5" stroke="#d03030" stroke-width="0.8" stroke-opacity="0.116"/>
<path d="M209.5 212.5L343.0 335.0" stroke="#d03030" stroke-width="0.8" stroke-opacity="0.083"/>
<path d="M209.5 212.5L410.0 330.5" stroke="#d03030" stroke-width="0.8" stroke-opacity="0.018"/>
<path d="M209.5 212.5L447.5 242.0" stroke="#d03030" stroke-width="0.8" stroke-opacity="0.027"/>
<path d="M209.5 212.5L248.8 335.5" stroke="#d03030" stroke-width="0.8" stroke-opacity="0.044"/>
<path d="M209.5 212.5L335.0 313.5" stroke="#d03030" stroke-width="0.8" stroke-opacity="0.022"/>
<path d="M209.5 212.5L500.8 277.5" stroke="#8c8c8c" stroke-width="0.8" stroke-opacity="0.016"/>
<path d="M209.5 212.5L483.0 313.8" stroke="#8c8c8c" stroke-width="0.8" stroke-opacity="0.030"/>
<path d="M209.5 212.5L438.8 344.5" stroke="#8c8c8c" stroke-width="0.8" stroke-opacity="0.012"/>
<path d="M209.5 212.5L354.2 605.0" stroke="#2e8b2e" stroke-width="0.8" stroke-opacity="0.008"/>
<path d="M191.8 235.2L294.5 222.5" stroke="#2e8b2e" stroke-width="0.8" stroke-opacity="0.074"/>
<path d="M191.8 235.2L332.5 203.8" stroke="#d03030" stroke-width="0.8" stroke-opacity="0.053"/>
<path d="M191.8 235.2L328.0 216.8" stroke="#d03030" stroke-width="0.8" stroke-opacity="0.024"/>
<path d="M191.8 235.2L256.2 263.0" stroke="#2e8b2e" stroke-width="0.8" stroke-opacity="0.031"/>
<path d="M191.8 235.2L279.5 268.0" stroke="#2e8b2e" stroke-width="0.8" stroke-opacity="0.058"/>
<path d="M191.8 235.2L292.0 259.2" stroke="#d03030" stroke-width="0.8" stroke-opacity="0.118"/>
<path d="M191.8 235.2L301.8 257.5" stroke="#d03030" stroke-width="0.8" stroke-opacity="0.107"/>
<path d="M191.8 235.2L345.0 310.5" stroke="#d03030" stroke-width="0.8" stroke-opacity="0.085"/>
<path d="M191.8 235.2L389.5 324.5" stroke="#d03030" stroke-width="0.8" stroke-opacity="0.039"/>
<path d="M191.8 235.2L431.2 209.5" stroke="#d03030" stroke-width="0.8" stroke-opacity="0.043"/>
<path d="M191.8 235.2L462.5 248.0" stroke="#d03030" stroke-width="0.8" stroke-opacity="0.018"/>
<path d="M191.8 235.2L470.0 287.0" stroke="#8c8c8c" stroke-width="0.8" stroke-opacity="0.041"/>
<path d="M191.8 235.2L528.6 245.1" stroke="#8c8c8c" stroke-width="0.8" stroke-opacity="0.020"/>
<path d="M191.8 235.2L335.0 313.5" stroke="#d03030" stroke-width="0.8" stroke-opacity="0.034"/>
<path d="M191.8 235.2L640.0 194.2" stroke="#2e8b2e" stroke-width="0.8" stroke-opacity="0.007"/>
<path d="M294.5 222.5L332.5 203.8" stroke="#d03030" stroke-width="0.8" stroke-opacity="0.035"/>
<path d="M294.5 222.5L256.2 263.0" stroke="#d03030" stroke-width="0.8" stroke-opacity="0.113"/>
<path d="M294.5 222.5L262.0 271.8" stroke="#d03030" stroke-width="0.8" stroke-opacity="0.104"/>
<path d="M294.5 222.5L301.8 257.5" stroke="#d03030" stroke-width="0.8" stroke-opacity="0.043"/>
<path d="M294.5 222.5L288.8 274.2" stroke="#d03030" stroke-width="0.8" stroke-opacity="0.319"/>
<path d="M294.5 222.5L322.5 260.5" stroke="#d03030" stroke-width="0.8" stroke-opacity="0.042"/>
<path d="M294.5 222.5L281.5 295.0" stroke="#d03030" stroke-width="0.8" stroke-opacity="0.155"/>
<path d="M294.5 222.5L243.2 306.5" stroke="#d03030" stroke-width="0.8" stroke-opacity="0.045"/>
<path d="M294.5 222.5L357.5 243.8" stroke="#d03030" stroke-width="0.8" stroke-opacity="0.110"/>
<path d="M294.5 222.5L389.5 324.5" stroke="#d03030" stroke-width="0.8" stroke-opacity="0.072"/>
<path d="M294.5 222.5L455.5 220.0" stroke="#d03030" stroke-width="0.8" stroke-opacity="0.103"/>
<path d="M294.5 222.5L512.5 211.8" stroke="#d03030" stroke-width="0.8" stroke-opacity="0.027"/>
<path d="M294.5 222.5L543.2 300.0" stroke="#8c8c8c" stroke-width="0.8" stroke-opacity="0.018"/>
<path d="M294.5 222.5L440.8 255.0" stroke="#2e8b2e" stroke-width="0.8" stroke-opacity="0.141"/>
<path d="M294.5 222.5L500.8 277.5" stroke="#d03030" stroke-width="0.8" stroke-opacity="0.018"/>
<path d="M294.5 222.5L639.2 372.5" stroke="#2e8b2e" stroke-width="0.8" stroke-opacity="0.016"/>
<path d="M294.5 222.5L640.0 194.2" stroke="#d03030" stroke-width="0.8" stroke-opacity="0.012"/>
<path d="M294.5 222.5L645.5 369.2" stroke="#8c8c8c" stroke-width="0.8" stroke-opacity="0.026"/>
<path d="M294.5 222.5L650.0 568.8" stroke="#2e8b2e" stroke-width="0.8" stroke-opacity="0.026"/>
<path d="M280.0 230.5L332.5 203.8" stroke="#2e8b2e" stroke-width="0.8" stroke-opacity="0.032"/>
<path d="M280.0 230.5L328.0 216.8" stroke="#d03030" stroke-width="0.8" stroke-opacity="0.188"/>
<path d="M280.0 230.5L262.0 271.8" stroke="#d03030" stroke-width="0.8" stroke-opacity="0.144"/>
<path d="M280.0 230.5L279.5 268.0" stroke="#d03030" stroke-width="0.8" stroke-opacity="0.049"/>
<path d="M280.0 230.5L292.0 259.2" stroke="#d03030" stroke-width="0.8" stroke-opacity="0.152"/>
<path d="M280.0 230.5L301.8 257.5" stroke="#d03030" stroke-width="0.8" stroke-opacity="0.214"/>
<path d="M280.0 230.5L288.8 274.2" stroke="#d03030" stroke-width="0.8" stroke-opacity="0.034"/>
<path d="M280.0 230.5L322.5 260.5" stroke="#d03030" stroke-width="0.8" stroke-opacity="0.102"/>
<path d="M280.0 230.5L332.5 265.5" stroke="#2e8b2e" stroke-width="0.8" stroke-opacity="0.040"/>
<path d="M280.0 230.5L299.5 285.8" stroke="#d03030" stroke-width="0.8" stroke-opacity="0.063"/>
<path d="M280.0 230.5L281.5 295.0" stroke="#d03030" stroke-width="0.8" stroke-opacity="0.149"/>
<path d="M280.0 230.5L298.8 300.0" stroke="#d03030" stroke-width="0.8" stroke-opacity="0.092"/>
<path d="M280.0 230.5L357.5 243.8" stroke="#d03030" stroke-width="0.8" stroke-opacity="0.106"/>
<path d="M280.0 230.5L358.8 253.8" stroke="#d03030" stroke-width="0.8" stroke-opacity="0.033"/>
<path d="M280.0 230.5L345.0 310.5" stroke="#d03030" stroke-width="0.8" stroke-opacity="0.047"/>
<path d="M280.0 230.5L264.5 327.5" stroke="#d03030" stroke-width="0.8" stroke-opacity="0.028"/>
<path d="M280.0 230.5L343.0 335.0" stroke="#d03030" stroke-width="0.8" stroke-opacity="0.042"/>
<path d="M280.0 230.5L454.5 204.5" stroke="#d03030" stroke-width="0.8" stroke-opacity="0.052"/>
<path d="M280.0 230.5L447.5 242.0" stroke="#d03030" stroke-width="0.8" stroke-opacity="0.099"/>
<path d="M280.0 230.5L451.8 282.5" stroke="#d03030" stroke-width="0.8" stroke-opacity="0.054"/>
<path d="M280.0 230.5L543.2 300.0" stroke="#8c8c8c" stroke-width="0.8" stroke-opacity="0.041"/>
<path d="M280.0 230.5L570.5 303.2" stroke="#d03030" stroke-width="0.8" stroke-opacity="0.073"/>
<path d="M280.0 230.5L248.8 335.5" stroke="#d03030" stroke-width="0.8" stroke-opacity="0.166"/>
<path d="M280.0 230.5L440.8 255.0" stroke="#2e8b2e" stroke-width="0.8" stroke-opacity="0.021"/>
<path d="M280.0 230.5L447.0 276.2" stroke="#d03030" stroke-width="0.8" stroke-opacity="0.094"/>
<path d="M280.0 230.5L483.0 313.8" stroke="#2e8b2e" stroke-width="0.8" stroke-opacity="0.056"/>
<path d="M280.0 230.5L502.5 219.2" stroke="#d03030" stroke-width="0.8" stroke-opacity="0.050"/>
<path d="M280.0 230.5L553.2 346.2" stroke="#8c8c8c" stroke-width="0.8" stroke-opacity="0.015"/>
<path d="M280.0 230.5L593.0 378.0" stroke="#d03030" stroke-width="0.8" stroke-opacity="0.054"/>
<path d="M280.0 230.5L567.5 390.0" stroke="#8c8c8c" stroke-width="0.8" stroke-opacity="0.020"/>
<path d="M280.0 230.5L595.5 516.2" stroke="#8c8c8c" stroke-width="0.8" stroke-opacity="0.028"/>
<path d="M332.5 203.8L328.0 216.8" stroke="#d03030" stroke-width="0.8" stroke-opacity="0.195"/>
<path d="M332.5 203.8L367.0 208.8" stroke="#d03030" stroke-width="0.8" stroke-opacity="0.171"/>
<path d="M332.5 203.8L262.0 271.8" stroke="#d03030" stroke-width="0.8" stroke-opacity="0.033"/>
<path d="M332.5 203.8L301.8 257.5" stroke="#d03030" stroke-width="0.8" stroke-opacity="0.032"/>
<path d="M332.5 203.8L322.5 260.5" stroke="#d03030" stroke-width="0.8" stroke-opacity="0.227"/>
<path d="M332.5 203.8L299.5 285.8" stroke="#d03030" stroke-width="0.8" stroke-opacity="0.029"/>
<path d="M332.5 203.8L357.5 243.8" stroke="#d03030" stroke-width="0.8" stroke-opacity="0.101"/>
<path d="M332.5 203.8L358.8 253.8" stroke="#d03030" stroke-width="0.8" stroke-opacity="0.166"/>
<path d="M332.5 203.8L372.5 250.5" stroke="#d03030" stroke-width="0.8" stroke-opacity="0.190"/>
<path d="M332.5 203.8L345.0 310.5" stroke="#d03030" stroke-width="0.8" stroke-opacity="0.373"/>
<path d="M332.5 203.8L264.5 327.5" stroke="#d03030" stroke-width="0.8" stroke-opacity="0.100"/>
<path d="M332.5 203.8L389.5 324.5" stroke="#d03030" stroke-width="0.8" stroke-opacity="0.041"/>
<path d="M332.5 203.8L462.5 248.0" stroke="#d03030" stroke-width="0.8" stroke-opacity="0.042"/>
<path d="M332.5 203.8L451.8 282.5" stroke="#d03030" stroke-width="0.8" stroke-opacity="0.075"/>
<path d="M332.5 203.8L470.0 287.0" stroke="#d03030" stroke-width="0.8" stroke-opacity="0.022"/>
<path d="M332.5 203.8L335.0 313.5" stroke="#d03030" stroke-width="0.8" stroke-opacity="0.028"/>
<path d="M332.5 203.8L447.0 276.2" stroke="#d03030" stroke-width="0.8" stroke-opacity="0.067"/>
<path d="M332.5 203.8L483.0 313.8" stroke="#2e8b2e" stroke-width="0.8" stroke-opacity="0.086"/>
<path d="M332.5 203.8L502.5 219.2" stroke="#2e8b2e" stroke-width="0.8" stroke-opacity="0.030"/>
<path d="M332.5 203.8L438.8 344.5" stroke="#d03030" stroke-width="0.8" stroke-opacity="0.021"/>
<path d="M332.5 203.8L466.8 350.5" stroke="#d03030" stroke-width="0.8" stroke-opacity="0.061"/>
<path d="M332.5 203.8L465.5 201.2" stroke="#d03030" stroke-width="0.8" stroke-opacity="0.095"/>
<path d="M332.5 203.8L682.0 412.0" stroke="#d03030" stroke-width="0.8" stroke-opacity="0.024"/>
<path d="M328.0 216.8L256.2 263.0" stroke="#d03030" stroke-width="0.8" stroke-opacity="0.109"/>
<path d="M328.0 216.8L279.5 268.0" stroke="#d03030" stroke-width="0.8" stroke-opacity="0.464"/>
<path d="M328.0 216.8L292.0 259.2" stroke="#d03030" stroke-width="0.8" stroke-opacity="0.104"/>
<path d="M328.0 216.8L301.8 257.5" stroke="#d03030" stroke-width="0.8" stroke-opacity="0.069"/>
<path d="M328.0 216.8L288.8 274.2" stroke="#d03030" stroke-width="0.8" stroke-opacity="0.068"/>
<path d="M328.0 216.8L322.5 260.5" stroke="#d03030" stroke-width="0.8" stroke-opacity="0.053"/>
<path d="M328.0 216.8L332.5 265.5" stroke="#d03030" stroke-width="0.8" stroke-opacity="0.088"/>
<path d="M328.0 216.8L281.5 295.0" stroke="#d03030" stroke-width="0.8" stroke-opacity="0.041"/>
<path d="M328.0 216.8L298.8 300.0" stroke="#d03030" stroke-width="0.8" stroke-opacity="0.056"/>
<path d="M328.0 216.8L357.5 243.8" stroke="#d03030" stroke-width="0.8" stroke-opacity="0.154"/>
<path d="M328.0 216.8L372.5 250.5" stroke="#d03030" stroke-width="0.8" stroke-opacity="0.052"/>
<path d="M328.0 216.8L368.0 296.2" stroke="#d03030" stroke-width="0.8" stroke-opacity="0.101"/>
<path d="M328.0 216.8L345.0 310.5" stroke="#d03030" stroke-width="0.8" stroke-opacity="0.143"/>
<path d="M328.0 216.8L455.5 220.0" stroke="#2e8b2e" stroke-width="0.8" stroke-opacity="0.156"/>
<path d="M328.0 216.8L436.2 235.5" stroke="#2e8b2e" stroke-width="0.8" stroke-opacity="0.123"/>
<path d="M328.0 216.8L447.5 242.0" stroke="#d03030" stroke-width="0.8" stroke-opacity="0.059"/>
<path d="M328.0 216.8L432.5 247.5" stroke="#d03030" stroke-width="0.8" stroke-opacity="0.233"/>
<path d="M328.0 216.8L427.0 95.8" stroke="#d03030" stroke-width="0.8" stroke-opacity="0.039"/>
<path d="M328.0 216.8L453.8 111.2" stroke="#d03030" stroke-width="0.8" stroke-opacity="0.121"/>
<path d="M328.0 216.8L510.5 332.5" stroke="#d03030" stroke-width="0.8" stroke-opacity="0.041"/>
<path d="M328.0 216.8L248.8 335.5" stroke="#2e8b2e" stroke-width="0.8" stroke-opacity="0.031"/>
<path d="M328.0 216.8L447.0 276.2" stroke="#d03030" stroke-width="0.8" stroke-opacity="0.087"/>
<path d="M328.0 216.8L639.2 372.5" stroke="#8c8c8c" stroke-width="0.8" stroke-opacity="0.028"/>
<path d="M328.0 216.8L638.8 429.5" stroke="#8c8c8c" stroke-width="0.8" stroke-opacity="0.020"/>
<path d="M328.0 216.8L346.0 274.5" stroke="#d03030" stroke-width="0.8" stroke-opacity="0.035"/>
<path d="M328.0 216.8L561.2 130.8" stroke="#d03030" stroke-width="0.8" stroke-opacity="0.017"/>
<path d="M328.0 216.8L566.2 360.5" stroke="#d03030" stroke-width="0.8" stroke-opacity="0.046"/>
<path d="M328.0 216.8L639.5 500.0" stroke="#8c8c8c" stroke-width="0.8" stroke-opacity="0.014"/>
<path d="M367.0 208.8L256.2 263.0" stroke="#d03030" stroke-width="0.8" stroke-opacity="0.058"/>
<path d="M367.0 208.8L262.0 271.8" stroke="#d03030" stroke-width="0.8" stroke-opacity="0.148"/>
<path d="M367.0 208.8L292.0 259.2" stroke="#d03030" stroke-width="0.8" stroke-opacity="0.090"/>
<path d="M367.0 208.8L301.8 257.5" stroke="#d03030" stroke-width="0.8" stroke-opacity="0.029"/>
<path d="M367.0 208.8L288.8 274.2" stroke="#d03030" stroke-width="0.8" stroke-opacity="0.027"/>
<path d="M367.0 208.8L322.5 260.5" stroke="#d03030" stroke-width="0.8" stroke-opacity="0.130"/>
<path d="M367.0 208.8L281.5 295.0" stroke="#d03030" stroke-width="0.8" stroke-opacity="0.061"/>
<path d="M367.0 208.8L357.5 243.8" stroke="#d03030" stroke-width="0.8" stroke-opacity="0.036"/>
<path d="M367.0 208.8L358.8 253.8" stroke="#d03030" stroke-width="0.8" stroke-opacity="0.073"/>
<path d="M367.0 208.8L372.5 250.5" stroke="#d03030" stroke-width="0.8" stroke-opacity="0.066"/>
<path d="M367.0 208.8L431.2 209.5" stroke="#d03030" stroke-width="0.8" stroke-opacity="0.033"/>
<path d="M367.0 208.8L447.5 242.0" stroke="#d03030" stroke-width="0.8" stroke-opacity="0.038"/>
<path d="M367.0 208.8L462.5 248.0" stroke="#d03030" stroke-width="0.8" stroke-opacity="0.041"/>
<path d="M367.0 208.8L440.8 255.0" stroke="#d03030" stroke-width="0.8" stroke-opacity="0.290"/>
<path d="M367.0 208.8L500.8 277.5" stroke="#d03030" stroke-width="0.8" stroke-opacity="0.123"/>
<path d="M367.0 208.8L502.5 219.2" stroke="#d03030" stroke-width="0.8" stroke-opacity="0.024"/>
<path d="M367.0 208.8L438.8 344.5" stroke="#d03030" stroke-width="0.8" stroke-opacity="0.033"/>
<path d="M367.0 208.8L698.2 232.2" stroke="#d03030" stroke-width="0.8" stroke-opacity="0.020"/>
<path d="M367.0 208.8L346.0 274.5" stroke="#d03030" stroke-width="0.8" stroke-opacity="0.106"/>
<path d="M367.0 208.8L465.5 201.2" stroke="#d03030" stroke-width="0.8" stroke-opacity="0.078"/>
<path d="M367.0 208.8L638.0 341.2" stroke="#8c8c8c" stroke-width="0.8" stroke-opacity="0.059"/>
<path d="M367.0 208.8L567.5 390.0" stroke="#8c8c8c" stroke-width="0.8" stroke-opacity="0.015"/>
<path d="M256.2 263.0L262.0 271.8" stroke="#d03030" stroke-width="0.8" stroke-opacity="0.044"/>
<path d="M256.2 263.0L279.5 268.0" stroke="#d03030" stroke-width="0.8" stroke-opacity="0.063"/>
<path d="M256.2 263.0L292.0 259.2" stroke="#d03030" stroke-width="0.8" stroke-opacity="0.156"/>
<path d="M256.2 263.0L301.8 257.5" stroke="#d03030" stroke-width="0.8" stroke-opacity="0.209"/>
<path d="M256.2 263.0L299.5 285.8" stroke="#d03030" stroke-width="0.8" stroke-opacity="0.097"/>
<path d="M256.2 263.0L281.5 295.0" stroke="#d03030" stroke-width="0.8" stroke-opacity="0.409"/>
<path d="M256.2 263.0L298.8 300.0" stroke="#d03030" stroke-width="0.8" stroke-opacity="0.074"/>
<path d="M256.2 263.0L243.2 306.5" stroke="#d03030" stroke-width="0.8" stroke-opacity="0.116"/>
<path d="M256.2 263.0L357.5 243.8" stroke="#d03030" stroke-width="0.8" stroke-opacity="0.162"/>
<path d="M256.2 263.0L358.8 253.8" stroke="#d03030" stroke-width="0.8" stroke-opacity="0.163"/>
<path d="M256.2 263.0L264.5 327.5" stroke="#d03030" stroke-width="0.8" stroke-opacity="0.050"/>
<path d="M256.2 263.0L410.0 330.5" stroke="#d03030" stroke-width="0.8" stroke-opacity="0.021"/>
<path d="M256.2 263.0L454.5 204.5" stroke="#d03030" stroke-width="0.8" stroke-opacity="0.026"/>
<path d="M256.2 263.0L455.5 220.0" stroke="#d03030" stroke-width="0.8" stroke-opacity="0.046"/>
<path d="M256.2 263.0L436.2 235.5" stroke="#d03030" stroke-width="0.8" stroke-opacity="0.021"/>
<path d="M256.2 263.0L447.5 242.0" stroke="#d03030" stroke-width="0.8" stroke-opacity="0.021"/>
<path d="M256.2 263.0L432.5 247.5" stroke="#d03030" stroke-width="0.8" stroke-opacity="0.089"/>
<path d="M256.2 263.0L459.0 283.0" stroke="#d03030" stroke-width="0.8" stroke-opacity="0.086"/>
<path d="M256.2 263.0L493.2 215.8" stroke="#d03030" stroke-width="0.8" stroke-opacity="0.032"/>
<path d="M256.2 263.0L512.5 211.8" stroke="#d03030" stroke-width="0.8" stroke-opacity="0.015"/>
<path d="M256.2 263.0L335.0 313.5" stroke="#2e8b2e" stroke-width="0.8" stroke-opacity="0.293"/>
<path d="M256.2 263.0L553.2 346.2" stroke="#2e8b2e" stroke-width="0.8" stroke-opacity="0.012"/>
<path d="M256.2 263.0L465.5 201.2" stroke="#d03030" stroke-width="0.8" stroke-opacity="0.035"/>
<path d="M256.2 263.0L676.8 253.0" stroke="#8c8c8c" stroke-width="0.8" stroke-opacity="0.008"/>
<path d="M256.2 263.0L738.8 386.8" stroke="#d03030" stroke-width="0.8" stroke-opacity="0.013"/>
<path d="M256.2 263.0L599.2 333.2" stroke="#d03030" stroke-width="0.8" stroke-opacity="0.032"/>
<path d="M262.0 271.8L292.0 259.2" stroke="#d03030" stroke-width="0.8" stroke-opacity="0.085"/>
<path d="M262.0 271.8L301.8 257.5" stroke="#d03030" stroke-width="0.8" stroke-opacity="0.040"/>
<path d="M262.0 271.8L288.8 274.2" stroke="#d03030" stroke-width="0.8" stroke-opacity="0.124"/>
<path d="M262.0 271.8L322.5 260.5" stroke="#d03030" stroke-width="0.8" stroke-opacity="0.068"/>
<path d="M262.0 271.8L332.5 265.5" stroke="#d03030" stroke-width="0.8" stroke-opacity="0.124"/>
<path d="M262.0 271.8L299.5 285.8" stroke="#d03030" stroke-width="0.8" stroke-opacity="0.135"/>
<path d="M262.0 271.8L281.5 295.0" stroke="#d03030" stroke-width="0.8" stroke-opacity="0.144"/>
<path d="M262.0 271.8L298.8 300.0" stroke="#d03030" stroke-width="0.8" stroke-opacity="0.108"/>
<path d="M262.0 271.8L357.5 243.8" stroke="#d03030" stroke-width="0.8" stroke-opacity="0.028"/>
<path d="M262.0 271.8L372.5 250.5" stroke="#d03030" stroke-width="0.8" stroke-opacity="0.027"/>
<path d="M262.0 271.8L264.5 327.5" stroke="#d03030" stroke-width="0.8" stroke-opacity="0.263"/>
<path d="M262.0 271.8L389.5 324.5" stroke="#d03030" stroke-width="0.8" stroke-opacity="0.027"/>
<path d="M262.0 271.8L431.2 209.5" stroke="#d03030" stroke-width="0.8" stroke-opacity="0.021"/>
<path d="M262.0 271.8L447.5 242.0" stroke="#d03030" stroke-width="0.8" stroke-opacity="0.078"/>
<path d="M262.0 271.8L248.8 335.5" stroke="#d03030" stroke-width="0.8" stroke-opacity="0.031"/>
<path d="M262.0 271.8L483.0 313.8" stroke="#d03030" stroke-width="0.8" stroke-opacity="0.058"/>
<path d="M262.0 271.8L638.8 429.5" stroke="#d03030" stroke-width="0.8" stroke-opacity="0.037"/>
<path d="M262.0 271.8L346.0 274.5" stroke="#d03030" stroke-width="0.8" stroke-opacity="0.042"/>
<path d="M262.0 271.8L640.0 194.2" stroke="#8c8c8c" stroke-width="0.8" stroke-opacity="0.015"/>
<path d="M279.5 268.0L292.0 259.2" stroke="#d03030" stroke-width="0.8" stroke-opacity="0.096"/>
<path d="M279.5 268.0L301.8 257.5" stroke="#d03030" stroke-width="0.8" stroke-opacity="0.039"/>
<path d="M279.5 268.0L288.8 274.2" stroke="#d03030" stroke-width="0.8" stroke-opacity="0.241"/>
<path d="M279.5 268.0L322.5 260.5" stroke="#d03030" stroke-width="0.8" stroke-opacity="0.208"/>
<path d="M279.5 268.0L299.5 285.8" stroke="#d03030" stroke-width="0.8" stroke-opacity="0.203"/>
<path d="M279.5 268.0L281.5 295.0" stroke="#d03030" stroke-width="0.8" stroke-opacity="0.037"/>
<path d="M279.5 268.0L357.5 243.8" stroke="#d03030" stroke-width="0.8" stroke-opacity="0.031"/>
<path d="M279.5 268.0L345.0 310.5" stroke="#d03030" stroke-width="0.8" stroke-opacity="0.033"/>
<path d="M279.5 268.0L264.5 327.5" stroke="#d03030" stroke-width="0.8" stroke-opacity="0.190"/>
<path d="M279.5 268.0L343.0 335.0" stroke="#d03030" stroke-width="0.8" stroke-opacity="0.030"/>
<path d="M279.5 268.0L455.5 220.0" stroke="#d03030" stroke-width="0.8" stroke-opacity="0.073"/>
<path d="M279.5 268.0L432.5 247.5" stroke="#d03030" stroke-width="0.8" stroke-opacity="0.044"/>
<path d="M279.5 268.0L459.0 283.0" stroke="#2e8b2e" stroke-width="0.8" stroke-opacity="0.043"/>
<path d="M279.5 268.0L493.2 215.8" stroke="#d03030" stroke-width="0.8" stroke-opacity="0.019"/>
<path d="M279.5 268.0L543.2 300.0" stroke="#8c8c8c" stroke-width="0.8" stroke-opacity="0.056"/>
<path d="M279.5 268.0L335.0 313.5" stroke="#d03030" stroke-width="0.8" stroke-opacity="0.169"/>
<path d="M279.5 268.0L440.8 255.0" stroke="#d03030" stroke-width="0.8" stroke-opacity="0.046"/>
<path d="M279.5 268.0L447.0 276.2" stroke="#d03030" stroke-width="0.8" stroke-opacity="0.025"/>
<path d="M279.5 268.0L483.0 313.8" stroke="#d03030" stroke-width="0.8" stroke-opacity="0.023"/>
<path d="M279.5 268.0L438.8 344.5" stroke="#d03030" stroke-width="0.8" stroke-opacity="0.074"/>
<path d="M279.5 268.0L638.0 341.2" stroke="#8c8c8c" stroke-width="0.8" stroke-opacity="0.014"/>
<path d="M279.5 268.0L685.5 336.0" stroke="#8c8c8c" stroke-width="0.8" stroke-opacity="0.009"/>
<path d="M292.0 259.2L301.8 257.5" stroke="#d03030" stroke-width="0.8" stroke-opacity="0.140"/>
<path d="M292.0 259.2L288.8 274.2" stroke="#d03030" stroke-width="0.8" stroke-opacity="0.100"/>
<path d="M292.0 259.2L322.5 260.5" stroke="#d03030" stroke-width="0.8" stroke-opacity="0.043"/>
<path d="M292.0 259.2L299.5 285.8" stroke="#d03030" stroke-width="0.8" stroke-opacity="0.036"/>
<path d="M292.0 259.2L281.5 295.0" stroke="#d03030" stroke-width="0.8" stroke-opacity="0.123"/>
<path d="M292.0 259.2L298.8 300.0" stroke="#d03030" stroke-width="0.8" stroke-opacity="0.212"/>
<path d="M292.0 259.2L358.8 253.8" stroke="#d03030" stroke-width="0.8" stroke-opacity="0.075"/>
<path d="M292.0 259.2L372.5 250.5" stroke="#d03030" stroke-width="0.8" stroke-opacity="0.136"/>
<path d="M292.0 259.2L345.0 310.5" stroke="#d03030" stroke-width="0.8" stroke-opacity="0.038"/>
<path d="M292.0 259.2L343.0 335.0" stroke="#d03030" stroke-width="0.8" stroke-opacity="0.065"/>
<path d="M292.0 259.2L454.5 204.5" stroke="#d03030" stroke-width="0.8" stroke-opacity="0.127"/>
<path d="M292.0 259.2L447.5 242.0" stroke="#d03030" stroke-width="0.8" stroke-opacity="0.033"/>
<path d="M292.0 259.2L451.8 282.5" stroke="#d03030" stroke-width="0.8" stroke-opacity="0.068"/>
<path d="M292.0 259.2L512.5 211.8" stroke="#d03030" stroke-width="0.8" stroke-opacity="0.020"/>
<path d="M292.0 259.2L453.8 111.2" stroke="#d03030" stroke-width="0.8" stroke-opacity="0.018"/>
<path d="M292.0 259.2L543.2 300.0" stroke="#d03030" stroke-width="0.8" stroke-opacity="0.037"/>
<path d="M292.0 259.2L440.8 255.0" stroke="#d03030" stroke-width="0.8" stroke-opacity="0.117"/>
<path d="M292.0 259.2L438.8 344.5" stroke="#d03030" stroke-width="0.8" stroke-opacity="0.022"/>
<path d="M292.0 259.2L553.2 346.2" stroke="#d03030" stroke-width="0.8" stroke-opacity="0.017"/>
<path d="M292.0 259.2L638.8 429.5" stroke="#d03030" stroke-width="0.8" stroke-opacity="0.011"/>
<path d="M292.0 259.2L346.0 274.5" stroke="#d03030" stroke-width="0.8" stroke-opacity="0.050"/>
<path d="M292.0 259.2L465.5 201.2" stroke="#d03030" stroke-width="0.8" stroke-opacity="0.020"/>
<path d="M292.0 259.2L738.8 386.8" stroke="#8c8c8c" stroke-width="0.8" stroke-opacity="0.029"/>
<path d="M292.0 259.2L565.5 376.2" stroke="#8c8c8c" stroke-width="0.8" stroke-opacity="0.044"/>
<path d="M301.8 257.5L288.8 274.2" stroke="#d03030" stroke-width="0.8" stroke-opacity="0.073"/>
<path d="M301.8 257.5L332.5 265.5" stroke="#d03030" stroke-width="0.8" stroke-opacity="0.101"/>
<path d="M301.8 257.5L299.5 285.8" stroke="#d03030" stroke-width="0.8" stroke-opacity="0.037"/>
<path d="M301.8 257.5L281.5 295.0" stroke="#d03030" stroke-width="0.8" stroke-opacity="0.055"/>
<path d="M301.8 257.5L298.8 300.0" stroke="#d03030" stroke-width="0.8" stroke-opacity="0.045"/>
<path d="M301.8 257.5L372.5 250.5" stroke="#d03030" stroke-width="0.8" stroke-opacity="0.036"/>
<path d="M301.8 257.5L343.0 335.0" stroke="#d03030" stroke-width="0.8" stroke-opacity="0.029"/>
<path d="M301.8 257.5L389.5 324.5" stroke="#d03030" stroke-width="0.8" stroke-opacity="0.044"/>
<path d="M301.8 257.5L431.2 209.5" stroke="#d03030" stroke-width="0.8" stroke-opacity="0.037"/>
<path d="M301.8 257.5L455.5 220.0" stroke="#d03030" stroke-width="0.8" stroke-opacity="0.045"/>
<path d="M301.8 257.5L436.2 235.5" stroke="#d03030" stroke-width="0.8" stroke-opacity="0.153"/>
<path d="M301.8 257.5L432.5 247.5" stroke="#d03030" stroke-width="0.8" stroke-opacity="0.151"/>
<path d="M301.8 257.5L451.8 282.5" stroke="#d03030" stroke-width="0.8" stroke-opacity="0.023"/>
<path d="M301.8 257.5L510.5 332.5" stroke="#d03030" stroke-width="0.8" stroke-opacity="0.021"/>
<path d="M301.8 257.5L335.0 313.5" stroke="#d03030" stroke-width="0.8" stroke-opacity="0.181"/>
<path d="M301.8 257.5L638.8 429.5" stroke="#2e8b2e" stroke-width="0.8" stroke-opacity="0.018"/>
<path d="M301.8 257.5L346.0 274.5" stroke="#d03030" stroke-width="0.8" stroke-opacity="0.034"/>
<path d="M301.8 257.5L465.5 201.2" stroke="#d03030" stroke-width="0.8" stroke-opacity="0.022"/>
<path d="M301.8 257.5L595.5 516.2" stroke="#8c8c8c" stroke-width="0.8" stroke-opacity="0.020"/>
<path d="M301.8 257.5L617.0 544.5" stroke="#d03030" stroke-width="0.8" stroke-opacity="0.042"/>
<path d="M288.8 274.2L332.5 265.5" stroke="#d03030" stroke-width="0.8" stroke-opacity="0.178"/>
<path d="M288.8 274.2L299.5 285.8" stroke="#d03030" stroke-width="0.8" stroke-opacity="0.089"/>
<path d="M288.8 274.2L372.5 250.5" stroke="#d03030" stroke-width="0.8" stroke-opacity="0.055"/>
<path d="M288.8 274.2L345.0 310.5" stroke="#d03030" stroke-width="0.8" stroke-opacity="0.041"/>
<path d="M288.8 274.2L264.5 327.5" stroke="#d03030" stroke-width="0.8" stroke-opacity="0.190"/>
<path d="M288.8 274.2L343.0 335.0" stroke="#d03030" stroke-width="0.8" stroke-opacity="0.030"/>
<path d="M288.8 274.2L455.5 220.0" stroke="#d03030" stroke-width="0.8" stroke-opacity="0.026"/>
<path d="M288.8 274.2L436.2 235.5" stroke="#d03030" stroke-width="0.8" stroke-opacity="0.036"/>
<path d="M288.8 274.2L447.5 242.0" stroke="#d03030" stroke-width="0.8" stroke-opacity="0.090"/>
<path d="M288.8 274.2L512.5 211.8" stroke="#d03030" stroke-width="0.8" stroke-opacity="0.025"/>
<path d="M288.8 274.2L453.8 111.2" stroke="#d03030" stroke-width="0.8" stroke-opacity="0.043"/>
<path d="M288.8 274.2L248.8 335.5" stroke="#d03030" stroke-width="0.8" stroke-opacity="0.032"/>
<path d="M288.8 274.2L346.0 274.5" stroke="#d03030" stroke-width="0.8" stroke-opacity="0.042"/>
<path d="M288.8 274.2L640.0 194.2" stroke="#8c8c8c" stroke-width="0.8" stroke-opacity="0.010"/>
<path d="M288.8 274.2L685.5 336.0" stroke="#8c8c8c" stroke-width="0.8" stroke-opacity="0.012"/>
<path d="M288.8 274.2L650.0 568.8" stroke="#8c8c8c" stroke-width="0.8" stroke-opacity="0.013"/>
<path d="M288.8 274.2L599.2 333.2" stroke="#8c8c8c" stroke-width="0.8" stroke-opacity="0.016"/>
<path d="M288.8 274.2L354.2 605.0" stroke="#d03030" stroke-width="0.8" stroke-opacity="0.012"/>
<path d="M322.5 260.5L299.5 285.8" stroke="#2e8b2e" stroke-width="0.8" stroke-opacity="0.043"/>
<path d="M322.5 260.5L281.5 295.0" stroke="#d03030" stroke-width="0.8" stroke-opacity="0.108"/>
<path d="M322.5 260.5L243.2 306.5" stroke="#d03030" stroke-width="0.8" stroke-opacity="0.111"/>
<path d="M322.5 260.5L345.0 310.5" stroke="#d03030" stroke-width="0.8" stroke-opacity="0.091"/>
<path d="M322.5 260.5L264.5 327.5" stroke="#d03030" stroke-width="0.8" stroke-opacity="0.060"/>
<path d="M322.5 260.5L343.0 335.0" stroke="#d03030" stroke-width="0.8" stroke-opacity="0.172"/>
<path d="M322.5 260.5L431.2 209.5" stroke="#d03030" stroke-width="0.8" stroke-opacity="0.147"/>
<path d="M322.5 260.5L455.5 220.0" stroke="#d03030" stroke-width="0.8" stroke-opacity="0.037"/>
<path d="M322.5 260.5L436.2 235.5" stroke="#d03030" stroke-width="0.8" stroke-opacity="0.086"/>
<path d="M322.5 260.5L462.5 248.0" stroke="#d03030" stroke-width="0.8" stroke-opacity="0.034"/>
<path d="M322.5 260.5L248.8 335.5" stroke="#d03030" stroke-width="0.8" stroke-opacity="0.027"/>
<path d="M322.5 260.5L335.0 313.5" stroke="#2e8b2e" stroke-width="0.8" stroke-opacity="0.162"/>
<path d="M322.5 260.5L440.8 255.0" stroke="#d03030" stroke-width="0.8" stroke-opacity="0.086"/>
<path d="M322.5 260.5L447.0 276.2" stroke="#2e8b2e" stroke-width="0.8" stroke-opacity="0.137"/>
<path d="M322.5 260.5L502.5 219.2" stroke="#d03030" stroke-width="0.8" stroke-opacity="0.073"/>
<path d="M322.5 260.5L346.0 274.5" stroke="#d03030" stroke-width="0.8" stroke-opacity="0.401"/>
<path d="M322.5 260.5L465.5 201.2" stroke="#d03030" stroke-width="0.8" stroke-opacity="0.064"/>
<path d="M322.5 260.5L547.0 199.5" stroke="#d03030" stroke-width="0.8" stroke-opacity="0.080"/>
<path d="M322.5 260.5L658.0 131.8" stroke="#8c8c8c" stroke-width="0.8" stroke-opacity="0.008"/>
<path d="M322.5 260.5L645.5 369.2" stroke="#8c8c8c" stroke-width="0.8" stroke-opacity="0.019"/>
<path d="M332.5 265.5L299.5 285.8" stroke="#d03030" stroke-width="0.8" stroke-opacity="0.040"/>
<path d="M332.5 265.5L243.2 306.5" stroke="#d03030" stroke-width="0.8" stroke-opacity="0.048"/>
<path d="M332.5 265.5L357.5 243.8" stroke="#d03030" stroke-width="0.8" stroke-opacity="0.074"/>
<path d="M332.5 265.5L372.5 250.5" stroke="#d03030" stroke-width="0.8" stroke-opacity="0.037"/>
<path d="M332.5 265.5L368.0 296.2" stroke="#d03030" stroke-width="0.8" stroke-opacity="0.071"/>
<path d="M332.5 265.5L345.0 310.5" stroke="#d03030" stroke-width="0.8" stroke-opacity="0.038"/>
<path d="M332.5 265.5L343.0 335.0" stroke="#d03030" stroke-width="0.8" stroke-opacity="0.071"/>
<path d="M332.5 265.5L410.0 330.5" stroke="#d03030" stroke-width="0.8" stroke-opacity="0.064"/>
<path d="M332.5 265.5L462.5 248.0" stroke="#d03030" stroke-width="0.8" stroke-opacity="0.095"/>
<path d="M332.5 265.5L451.8 282.5" stroke="#d03030" stroke-width="0.8" stroke-opacity="0.072"/>
<path d="M332.5 265.5L512.5 211.8" stroke="#d03030" stroke-width="0.8" stroke-opacity="0.042"/>
<path d="M332.5 265.5L335.0 313.5" stroke="#2e8b2e" stroke-width="0.8" stroke-opacity="0.046"/>
<path d="M332.5 265.5L440.8 255.0" stroke="#d03030" stroke-width="0.8" stroke-opacity="0.068"/>
<path d="M332.5 265.5L502.5 219.2" stroke="#d03030" stroke-width="0.8" stroke-opacity="0.023"/>
<path d="M332.5 265.5L547.0 199.5" stroke="#d03030" stroke-width="0.8" stroke-opacity="0.092"/>
<path d="M299.5 285.8L281.5 295.0" stroke="#d03030" stroke-width="0.8" stroke-opacity="0.115"/>
<path d="M299.5 285.8L298.8 300.0" stroke="#d03030" stroke-width="0.8" stroke-opacity="0.098"/>
<path d="M299.5 285.8L243.2 306.5" stroke="#d03030" stroke-width="0.8" stroke-opacity="0.137"/>
<path d="M299.5 285.8L358.8 253.8" stroke="#d03030" stroke-width="0.8" stroke-opacity="0.100"/>
<path d="M299.5 285.8L372.5 250.5" stroke="#d03030" stroke-width="0.8" stroke-opacity="0.104"/>
<path d="M299.5 285.8L368.0 296.2" stroke="#d03030" stroke-width="0.8" stroke-opacity="0.071"/>
<path d="M299.5 285.8L345.0 310.5" stroke="#d03030" stroke-width="0.8" stroke-opacity="0.044"/>
<path d="M299.5 285.8L264.5 327.5" stroke="#d03030" stroke-width="0.8" stroke-opacity="0.036"/>
<path d="M299.5 285.8L343.0 335.0" stroke="#d03030" stroke-width="0.8" stroke-opacity="0.041"/>
<path d="M299.5 285.8L410.0 330.5" stroke="#d03030" stroke-width="0.8" stroke-opacity="0.065"/>
<path d="M299.5 285.8L436.2 235.5" stroke="#d03030" stroke-width="0.8" stroke-opacity="0.030"/>
<path d="M299.5 285.8L432.5 247.5" stroke="#d03030" stroke-width="0.8" stroke-opacity="0.032"/>
<path d="M299.5 285.8L459.0 283.0" stroke="#d03030" stroke-width="0.8" stroke-opacity="0.048"/>
<path d="M299.5 285.8L470.0 287.0" stroke="#d03030" stroke-width="0.8" stroke-opacity="0.051"/>
<path d="M299.5 285.8L427.0 95.8" stroke="#d03030" stroke-width="0.8" stroke-opacity="0.098"/>
<path d="M299.5 285.8L335.0 313.5" stroke="#2e8b2e" stroke-width="0.8" stroke-opacity="0.089"/>
<path d="M299.5 285.8L447.0 276.2" stroke="#d03030" stroke-width="0.8" stroke-opacity="0.059"/>
<path d="M299.5 285.8L502.5 219.2" stroke="#d03030" stroke-width="0.8" stroke-opacity="0.038"/>
<path d="M299.5 285.8L639.2 372.5" stroke="#d03030" stroke-width="0.8" stroke-opacity="0.019"/>
<path d="M299.5 285.8L676.8 253.0" stroke="#d03030" stroke-width="0.8" stroke-opacity="0.022"/>
<path d="M299.5 285.8L639.5 500.0" stroke="#2e8b2e" stroke-width="0.8" stroke-opacity="0.027"/>
<path d="M299.5 285.8L716.8 448.2" stroke="#2e8b2e" stroke-width="0.8" stroke-opacity="0.008"/>
<path d="M281.5 295.0L298.8 300.0" stroke="#d03030" stroke-width="0.8" stroke-opacity="0.096"/>
<path d="M281.5 295.0L368.0 296.2" stroke="#2e8b2e" stroke-width="0.8" stroke-opacity="0.079"/>
<path d="M281.5 295.0L345.0 310.5" stroke="#d03030" stroke-width="0.8" stroke-opacity="0.047"/>
<path d="M281.5 295.0L264.5 327.5" stroke="#d03030" stroke-width="0.8" stroke-opacity="0.038"/>
<path d="M281.5 295.0L343.0 335.0" stroke="#d03030" stroke-width="0.8" stroke-opacity="0.030"/>
<path d="M281.5 295.0L427.0 95.8" stroke="#d03030" stroke-width="0.8" stroke-opacity="0.039"/>
<path d="M281.5 295.0L335.0 313.5" stroke="#d03030" stroke-width="0.8" stroke-opacity="0.172"/>
<path d="M281.5 295.0L639.2 372.5" stroke="#2e8b2e" stroke-width="0.8" stroke-opacity="0.017"/>
<path d="M281.5 295.0L346.0 274.5" stroke="#d03030" stroke-width="0.8" stroke-opacity="0.043"/>
<path d="M281.5 295.0L586.8 604.8" stroke="#d03030" stroke-width="0.8" stroke-opacity="0.029"/>
<path d="M281.5 295.0L354.2 605.0" stroke="#8c8c8c" stroke-width="0.8" stroke-opacity="0.015"/>
<path d="M298.8 300.0L358.8 253.8" stroke="#d03030" stroke-width="0.8" stroke-opacity="0.037"/>
<path d="M298.8 300.0L372.5 250.5" stroke="#d03030" stroke-width="0.8" stroke-opacity="0.072"/>
<path d="M298.8 300.0L368.0 296.2" stroke="#2e8b2e" stroke-width="0.8" stroke-opacity="0.031"/>
<path d="M298.8 300.0L389.5 324.5" stroke="#d03030" stroke-width="0.8" stroke-opacity="0.163"/>
<path d="M298.8 300.0L454.5 204.5" stroke="#d03030" stroke-width="0.8" stroke-opacity="0.026"/>
<path d="M298.8 300.0L455.5 220.0" stroke="#d03030" stroke-width="0.8" stroke-opacity="0.036"/>
<path d="M298.8 300.0L447.5 242.0" stroke="#d03030" stroke-width="0.8" stroke-opacity="0.072"/>
<path d="M298.8 300.0L470.0 287.0" stroke="#d03030" stroke-width="0.8" stroke-opacity="0.055"/>
<path d="M298.8 300.0L493.2 215.8" stroke="#d03030" stroke-width="0.8" stroke-opacity="0.099"/>
<path d="M298.8 300.0L528.6 245.1" stroke="#d03030" stroke-width="0.8" stroke-opacity="0.096"/>
<path d="M298.8 300.0L453.8 111.2" stroke="#d03030" stroke-width="0.8" stroke-opacity="0.053"/>
<path d="M298.8 300.0L570.5 303.2" stroke="#d03030" stroke-width="0.8" stroke-opacity="0.069"/>
<path d="M298.8 300.0L335.0 313.5" stroke="#d03030" stroke-width="0.8" stroke-opacity="0.092"/>
<path d="M298.8 300.0L502.5 219.2" stroke="#2e8b2e" stroke-width="0.8" stroke-opacity="0.017"/>
<path d="M298.8 300.0L438.8 344.5" stroke="#d03030" stroke-width="0.8" stroke-opacity="0.045"/>
<path d="M298.8 300.0L553.2 346.2" stroke="#2e8b2e" stroke-width="0.8" stroke-opacity="0.094"/>
<path d="M298.8 300.0L346.0 274.5" stroke="#d03030" stroke-width="0.8" stroke-opacity="0.033"/>
<path d="M298.8 300.0L566.2 360.5" stroke="#d03030" stroke-width="0.8" stroke-opacity="0.069"/>
<path d="M298.8 300.0L601.2 444.5" stroke="#8c8c8c" stroke-width="0.8" stroke-opacity="0.031"/>
<path d="M298.8 300.0L599.2 333.2" stroke="#8c8c8c" stroke-width="0.8" stroke-opacity="0.051"/>
<path d="M243.2 306.5L358.8 253.8" stroke="#d03030" stroke-width="0.8" stroke-opacity="0.028"/>
<path d="M243.2 306.5L264.5 327.5" stroke="#d03030" stroke-width="0.8" stroke-opacity="0.128"/>
<path d="M243.2 306.5L343.0 335.0" stroke="#d03030" stroke-width="0.8" stroke-opacity="0.351"/>
<path d="M243.2 306.5L431.2 209.5" stroke="#d03030" stroke-width="0.8" stroke-opacity="0.018"/>
<path d="M243.2 306.5L447.5 242.0" stroke="#d03030" stroke-width="0.8" stroke-opacity="0.030"/>
<path d="M243.2 306.5L462.5 248.0" stroke="#d03030" stroke-width="0.8" stroke-opacity="0.020"/>
<path d="M243.2 306.5L543.2 300.0" stroke="#d03030" stroke-width="0.8" stroke-opacity="0.074"/>
<path d="M243.2 306.5L248.8 335.5" stroke="#d03030" stroke-width="0.8" stroke-opacity="0.121"/>
<path d="M243.2 306.5L335.0 313.5" stroke="#2e8b2e" stroke-width="0.8" stroke-opacity="0.097"/>
<path d="M243.2 306.5L438.8 344.5" stroke="#d03030" stroke-width="0.8" stroke-opacity="0.023"/>
<path d="M243.2 306.5L639.2 372.5" stroke="#8c8c8c" stroke-width="0.8" stroke-opacity="0.018"/>
<path d="M243.2 306.5L599.2 333.2" stroke="#8c8c8c" stroke-width="0.8" stroke-opacity="0.013"/>
<path d="M357.5 243.8L358.8 253.8" stroke="#d03030" stroke-width="0.8" stroke-opacity="0.075"/>
<path d="M357.5 243.8L368.0 296.2" stroke="#d03030" stroke-width="0.8" stroke-opacity="0.042"/>
<path d="M357.5 243.8L345.0 310.5" stroke="#d03030" stroke-width="0.8" stroke-opacity="0.036"/>
<path d="M357.5 243.8L431.2 209.5" stroke="#d03030" stroke-width="0.8" stroke-opacity="0.106"/>
<path d="M357.5 243.8L454.5 204.5" stroke="#2e8b2e" stroke-width="0.8" stroke-opacity="0.125"/>
<path d="M357.5 243.8L436.2 235.5" stroke="#d03030" stroke-width="0.8" stroke-opacity="0.073"/>
<path d="M357.5 243.8L447.5 242.0" stroke="#d03030" stroke-width="0.8" stroke-opacity="0.087"/>
<path d="M357.5 243.8L432.5 247.5" stroke="#d03030" stroke-width="0.8" stroke-opacity="0.241"/>
<path d="M357.5 243.8L462.5 248.0" stroke="#d03030" stroke-width="0.8" stroke-opacity="0.040"/>
<path d="M357.5 243.8L451.8 282.5" stroke="#d03030" stroke-width="0.8" stroke-opacity="0.061"/>
<path d="M357.5 243.8L470.0 287.0" stroke="#d03030" stroke-width="0.8" stroke-opacity="0.058"/>
<path d="M357.5 243.8L512.5 211.8" stroke="#d03030" stroke-width="0.8" stroke-opacity="0.070"/>
<path d="M357.5 243.8L447.0 276.2" stroke="#d03030" stroke-width="0.8" stroke-opacity="0.034"/>
<path d="M357.5 243.8L500.8 277.5" stroke="#2e8b2e" stroke-width="0.8" stroke-opacity="0.092"/>
<path d="M357.5 243.8L483.0 313.8" stroke="#2e8b2e" stroke-width="0.8" stroke-opacity="0.130"/>
<path d="M357.5 243.8L438.8 344.5" stroke="#d03030" stroke-width="0.8" stroke-opacity="0.109"/>
<path d="M357.5 243.8L346.0 274.5" stroke="#d03030" stroke-width="0.8" stroke-opacity="0.153"/>
<path d="M357.5 243.8L465.5 201.2" stroke="#2e8b2e" stroke-width="0.8" stroke-opacity="0.073"/>
<path d="M357.5 243.8L745.5 12.5" stroke="#2e8b2e" stroke-width="0.8" stroke-opacity="0.010"/>
<path d="M357.5 243.8L561.2 130.8" stroke="#d03030" stroke-width="0.8" stroke-opacity="0.066"/>
<path d="M357.5 243.8L566.2 360.5" stroke="#d03030" stroke-width="0.8" stroke-opacity="0.016"/>
<path d="M357.5 243.8L567.5 390.0" stroke="#d03030" stroke-width="0.8" stroke-opacity="0.025"/>
<path d="M357.5 243.8L652.0 474.5" stroke="#8c8c8c" stroke-width="0.8" stroke-opacity="0.019"/>
<path d="M357.5 243.8L698.2 526.2" stroke="#d03030" stroke-width="0.8" stroke-opacity="0.026"/>
<path d="M357.5 243.8L716.8 448.2" stroke="#d03030" stroke-width="0.8" stroke-opacity="0.008"/>
<path d="M357.5 243.8L599.2 333.2" stroke="#2e8b2e" stroke-width="0.8" stroke-opacity="0.079"/>
<path d="M358.8 253.8L372.5 250.5" stroke="#d03030" stroke-width="0.8" stroke-opacity="0.047"/>
<path d="M358.8 253.8L345.0 310.5" stroke="#d03030" stroke-width="0.8" stroke-opacity="0.114"/>
<path d="M358.8 253.8L343.0 335.0" stroke="#d03030" stroke-width="0.8" stroke-opacity="0.122"/>
<path d="M358.8 253.8L389.5 324.5" stroke="#d03030" stroke-width="0.8" stroke-opacity="0.134"/>
<path d="M358.8 253.8L431.2 209.5" stroke="#d03030" stroke-width="0.8" stroke-opacity="0.116"/>
<path d="M358.8 253.8L455.5 220.0" stroke="#d03030" stroke-width="0.8" stroke-opacity="0.174"/>
<path d="M358.8 253.8L447.5 242.0" stroke="#d03030" stroke-width="0.8" stroke-opacity="0.121"/>
<path d="M358.8 253.8L432.5 247.5" stroke="#d03030" stroke-width="0.8" stroke-opacity="0.101"/>
<path d="M358.8 253.8L462.5 248.0" stroke="#d03030" stroke-width="0.8" stroke-opacity="0.068"/>
<path d="M358.8 253.8L451.8 282.5" stroke="#d03030" stroke-width="0.8" stroke-opacity="0.032"/>
<path d="M358.8 253.8L459.0 283.0" stroke="#d03030" stroke-width="0.8" stroke-opacity="0.062"/>
<path d="M358.8 253.8L470.0 287.0" stroke="#d03030" stroke-width="0.8" stroke-opacity="0.057"/>
<path d="M358.8 253.8L493.2 215.8" stroke="#d03030" stroke-width="0.8" stroke-opacity="0.079"/>
<path d="M358.8 253.8L453.8 111.2" stroke="#d03030" stroke-width="0.8" stroke-opacity="0.052"/>
<path d="M358.8 253.8L510.5 332.5" stroke="#d03030" stroke-width="0.8" stroke-opacity="0.021"/>
<path d="M358.8 253.8L248.8 335.5" stroke="#d03030" stroke-width="0.8" stroke-opacity="0.152"/>
<path d="M358.8 253.8L440.8 255.0" stroke="#d03030" stroke-width="0.8" stroke-opacity="0.172"/>
<path d="M358.8 253.8L447.0 276.2" stroke="#d03030" stroke-width="0.8" stroke-opacity="0.273"/>
<path d="M358.8 253.8L500.8 277.5" stroke="#d03030" stroke-width="0.8" stroke-opacity="0.028"/>
<path d="M358.8 253.8L502.5 219.2" stroke="#d03030" stroke-width="0.8" stroke-opacity="0.044"/>
<path d="M358.8 253.8L438.8 344.5" stroke="#2e8b2e" stroke-width="0.8" stroke-opacity="0.069"/>
<path d="M358.8 253.8L466.8 350.5" stroke="#d03030" stroke-width="0.8" stroke-opacity="0.036"/>
<path d="M358.8 253.8L346.0 274.5" stroke="#2e8b2e" stroke-width="0.8" stroke-opacity="0.132"/>
<path d="M358.8 253.8L465.5 201.2" stroke="#d03030" stroke-width="0.8" stroke-opacity="0.112"/>
<path d="M358.8 253.8L561.2 130.8" stroke="#d03030" stroke-width="0.8" stroke-opacity="0.023"/>
<path d="M358.8 253.8L676.2 408.5" stroke="#2e8b2e" stroke-width="0.8" stroke-opacity="0.010"/>
<path d="M358.8 253.8L567.5 390.0" stroke="#d03030" stroke-width="0.8" stroke-opacity="0.084"/>
<path d="M358.8 253.8L662.0 508.0" stroke="#2e8b2e" stroke-width="0.8" stroke-opacity="0.027"/>
<path d="M358.8 253.8L599.2 333.2" stroke="#2e8b2e" stroke-width="0.8" stroke-opacity="0.098"/>
<path d="M358.8 253.8L354.2 605.0" stroke="#8c8c8c" stroke-width="0.8" stroke-opacity="0.024"/>
<path d="M372.5 250.5L368.0 296.2" stroke="#d03030" stroke-width="0.8" stroke-opacity="0.034"/>
<path d="M372.5 250.5L345.0 310.5" stroke="#d03030" stroke-width="0.8" stroke-opacity="0.043"/>
<path d="M372.5 250.5L343.0 335.0" stroke="#d03030" stroke-width="0.8" stroke-opacity="0.104"/>
<path d="M372.5 250.5L389.5 324.5" stroke="#d03030" stroke-width="0.8" stroke-opacity="0.046"/>
<path d="M372.5 250.5L455.5 220.0" stroke="#d03030" stroke-width="0.8" stroke-opacity="0.031"/>
<path d="M372.5 250.5L436.2 235.5" stroke="#d03030" stroke-width="0.8" stroke-opacity="0.107"/>
<path d="M372.5 250.5L447.5 242.0" stroke="#d03030" stroke-width="0.8" stroke-opacity="0.037"/>
<path d="M372.5 250.5L432.5 247.5" stroke="#d03030" stroke-width="0.8" stroke-opacity="0.117"/>
<path d="M372.5 250.5L462.5 248.0" stroke="#d03030" stroke-width="0.8" stroke-opacity="0.058"/>
<path d="M372.5 250.5L451.8 282.5" stroke="#d03030" stroke-width="0.8" stroke-opacity="0.126"/>
<path d="M372.5 250.5L470.0 287.0" stroke="#d03030" stroke-width="0.8" stroke-opacity="0.131"/>
<path d="M372.5 250.5L543.2 300.0" stroke="#d03030" stroke-width="0.8" stroke-opacity="0.113"/>
<path d="M372.5 250.5L440.8 255.0" stroke="#d03030" stroke-width="0.8" stroke-opacity="0.104"/>
<path d="M372.5 250.5L438.8 344.5" stroke="#d03030" stroke-width="0.8" stroke-opacity="0.030"/>
<path d="M372.5 250.5L466.8 350.5" stroke="#2e8b2e" stroke-width="0.8" stroke-opacity="0.104"/>
<path d="M372.5 250.5L593.0 378.0" stroke="#d03030" stroke-width="0.8" stroke-opacity="0.077"/>
<path d="M372.5 250.5L638.8 429.5" stroke="#2e8b2e" stroke-width="0.8" stroke-opacity="0.014"/>
<path d="M372.5 250.5L346.0 274.5" stroke="#d03030" stroke-width="0.8" stroke-opacity="0.035"/>
<path d="M372.5 250.5L645.5 369.2" stroke="#8c8c8c" stroke-width="0.8" stroke-opacity="0.057"/>
<path d="M372.5 250.5L682.0 412.0" stroke="#8c8c8c" stroke-width="0.8" stroke-opacity="0.037"/>
<path d="M372.5 250.5L605.8 460.8" stroke="#8c8c8c" stroke-width="0.8" stroke-opacity="0.014"/>
<path d="M372.5 250.5L595.5 516.2" stroke="#d03030" stroke-width="0.8" stroke-opacity="0.011"/>
<path d="M368.0 296.2L345.0 310.5" stroke="#d03030" stroke-width="0.8" stroke-opacity="0.048"/>
<path d="M368.0 296.2L343.0 335.0" stroke="#d03030" stroke-width="0.8" stroke-opacity="0.046"/>
<path d="M368.0 296.2L389.5 324.5" stroke="#d03030" stroke-width="0.8" stroke-opacity="0.317"/>
<path d="M368.0 296.2L410.0 330.5" stroke="#d03030" stroke-width="0.8" stroke-opacity="0.083"/>
<path d="M368.0 296.2L455.5 220.0" stroke="#d03030" stroke-width="0.8" stroke-opacity="0.127"/>
<path d="M368.0 296.2L436.2 235.5" stroke="#d03030" stroke-width="0.8" stroke-opacity="0.029"/>
<path d="M368.0 296.2L432.5 247.5" stroke="#d03030" stroke-width="0.8" stroke-opacity="0.142"/>
<path d="M368.0 296.2L462.5 248.0" stroke="#d03030" stroke-width="0.8" stroke-opacity="0.122"/>
<path d="M368.0 296.2L459.0 283.0" stroke="#d03030" stroke-width="0.8" stroke-opacity="0.073"/>
<path d="M368.0 296.2L248.8 335.5" stroke="#d03030" stroke-width="0.8" stroke-opacity="0.056"/>
<path d="M368.0 296.2L447.0 276.2" stroke="#d03030" stroke-width="0.8" stroke-opacity="0.167"/>
<path d="M368.0 296.2L483.0 313.8" stroke="#2e8b2e" stroke-width="0.8" stroke-opacity="0.031"/>
<path d="M368.0 296.2L466.8 350.5" stroke="#d03030" stroke-width="0.8" stroke-opacity="0.150"/>
<path d="M368.0 296.2L553.2 346.2" stroke="#d03030" stroke-width="0.8" stroke-opacity="0.019"/>
<path d="M368.0 296.2L346.0 274.5" stroke="#d03030" stroke-width="0.8" stroke-opacity="0.182"/>
<path d="M368.0 296.2L547.0 199.5" stroke="#d03030" stroke-width="0.8" stroke-opacity="0.107"/>
<path d="M368.0 296.2L644.5 308.0" stroke="#8c8c8c" stroke-width="0.8" stroke-opacity="0.014"/>
<path d="M368.0 296.2L566.2 360.5" stroke="#d03030" stroke-width="0.8" stroke-opacity="0.019"/>
<path d="M368.0 296.2L513.2 526.4" stroke="#8c8c8c" stroke-width="0.8" stroke-opacity="0.012"/>
<path d="M345.0 310.5L264.5 327.5" stroke="#d03030" stroke-width="0.8" stroke-opacity="0.078"/>
<path d="M345.0 310.5L343.0 335.0" stroke="#d03030" stroke-width="0.8" stroke-opacity="0.079"/>
<path d="M345.0 310.5L410.0 330.5" stroke="#d03030" stroke-width="0.8" stroke-opacity="0.048"/>
<path d="M345.0 310.5L431.2 209.5" stroke="#d03030" stroke-width="0.8" stroke-opacity="0.045"/>
<path d="M345.0 310.5L455.5 220.0" stroke="#d03030" stroke-width="0.8" stroke-opacity="0.124"/>
<path d="M345.0 310.5L447.5 242.0" stroke="#2e8b2e" stroke-width="0.8" stroke-opacity="0.083"/>
<path d="M345.0 310.5L432.5 247.5" stroke="#d03030" stroke-width="0.8" stroke-opacity="0.088"/>
<path d="M345.0 310.5L493.2 215.8" stroke="#d03030" stroke-width="0.8" stroke-opacity="0.129"/>
<path d="M345.0 310.5L512.5 211.8" stroke="#d03030" stroke-width="0.8" stroke-opacity="0.038"/>
<path d="M345.0 310.5L528.6 245.1" stroke="#d03030" stroke-width="0.8" stroke-opacity="0.038"/>
<path d="M345.0 310.5L510.5 332.5" stroke="#d03030" stroke-width="0.8" stroke-opacity="0.056"/>
<path d="M345.0 310.5L248.8 335.5" stroke="#d03030" stroke-width="0.8" stroke-opacity="0.155"/>
<path d="M345.0 310.5L335.0 313.5" stroke="#d03030" stroke-width="0.8" stroke-opacity="0.143"/>
<path d="M345.0 310.5L440.8 255.0" stroke="#2e8b2e" stroke-width="0.8" stroke-opacity="0.038"/>
<path d="M345.0 310.5L346.0 274.5" stroke="#2e8b2e" stroke-width="0.8" stroke-opacity="0.095"/>
<path d="M345.0 310.5L738.8 386.8" stroke="#2e8b2e" stroke-width="0.8" stroke-opacity="0.009"/>
<path d="M345.0 310.5L566.2 360.5" stroke="#d03030" stroke-width="0.8" stroke-opacity="0.037"/>
<path d="M264.5 327.5L431.2 209.5" stroke="#d03030" stroke-width="0.8" stroke-opacity="0.115"/>
<path d="M264.5 327.5L454.5 204.5" stroke="#d03030" stroke-width="0.8" stroke-opacity="0.103"/>
<path d="M264.5 327.5L451.8 282.5" stroke="#d03030" stroke-width="0.8" stroke-opacity="0.102"/>
<path d="M264.5 327.5L459.0 283.0" stroke="#d03030" stroke-width="0.8" stroke-opacity="0.069"/>
<path d="M264.5 327.5L512.5 211.8" stroke="#8c8c8c" stroke-width="0.8" stroke-opacity="0.067"/>
<path d="M264.5 327.5L248.8 335.5" stroke="#d03030" stroke-width="0.8" stroke-opacity="0.173"/>
<path d="M264.5 327.5L438.8 344.5" stroke="#d03030" stroke-width="0.8" stroke-opacity="0.024"/>
<path d="M264.5 327.5L466.8 350.5" stroke="#d03030" stroke-width="0.8" stroke-opacity="0.022"/>
<path d="M264.5 327.5L639.2 372.5" stroke="#8c8c8c" stroke-width="0.8" stroke-opacity="0.026"/>
<path d="M264.5 327.5L346.0 274.5" stroke="#d03030" stroke-width="0.8" stroke-opacity="0.362"/>
<path d="M264.5 327.5L707.0 257.5" stroke="#8c8c8c" stroke-width="0.8" stroke-opacity="0.006"/>
<path d="M264.5 327.5L565.5 376.2" stroke="#8c8c8c" stroke-width="0.8" stroke-opacity="0.048"/>
<path d="M343.0 335.0L389.5 324.5" stroke="#d03030" stroke-width="0.8" stroke-opacity="0.042"/>
<path d="M343.0 335.0L431.2 209.5" stroke="#d03030" stroke-width="0.8" stroke-opacity="0.028"/>
<path d="M343.0 335.0L436.2 235.5" stroke="#d03030" stroke-width="0.8" stroke-opacity="0.025"/>
<path d="M343.0 335.0L459.0 283.0" stroke="#d03030" stroke-width="0.8" stroke-opacity="0.110"/>
<path d="M343.0 335.0L470.0 287.0" stroke="#d03030" stroke-width="0.8" stroke-opacity="0.043"/>
<path d="M343.0 335.0L427.0 95.8" stroke="#d03030" stroke-width="0.8" stroke-opacity="0.079"/>
<path d="M343.0 335.0L335.0 313.5" stroke="#2e8b2e" stroke-width="0.8" stroke-opacity="0.042"/>
<path d="M343.0 335.0L440.8 255.0" stroke="#d03030" stroke-width="0.8" stroke-opacity="0.109"/>
<path d="M343.0 335.0L447.0 276.2" stroke="#d03030" stroke-width="0.8" stroke-opacity="0.049"/>
<path d="M343.0 335.0L438.8 344.5" stroke="#d03030" stroke-width="0.8" stroke-opacity="0.033"/>
<path d="M343.0 335.0L466.8 350.5" stroke="#d03030" stroke-width="0.8" stroke-opacity="0.100"/>
<path d="M343.0 335.0L638.8 429.5" stroke="#d03030" stroke-width="0.8" stroke-opacity="0.031"/>
<path d="M343.0 335.0L465.5 201.2" stroke="#d03030" stroke-width="0.8" stroke-opacity="0.101"/>
<path d="M343.0 335.0L644.5 308.0" stroke="#8c8c8c" stroke-width="0.8" stroke-opacity="0.012"/>
<path d="M343.0 335.0L638.0 341.2" stroke="#d03030" stroke-width="0.8" stroke-opacity="0.043"/>
<path d="M343.0 335.0L645.5 369.2" stroke="#d03030" stroke-width="0.8" stroke-opacity="0.014"/>
<path d="M343.0 335.0L676.2 408.5" stroke="#2e8b2e" stroke-width="0.8" stroke-opacity="0.034"/>
<path d="M343.0 335.0L682.0 412.0" stroke="#d03030" stroke-width="0.8" stroke-opacity="0.024"/>
<path d="M389.5 324.5L431.2 209.5" stroke="#d03030" stroke-width="0.8" stroke-opacity="0.025"/>
<path d="M389.5 324.5L455.5 220.0" stroke="#d03030" stroke-width="0.8" stroke-opacity="0.074"/>
<path d="M389.5 324.5L436.2 235.5" stroke="#d03030" stroke-width="0.8" stroke-opacity="0.088"/>
<path d="M389.5 324.5L447.5 242.0" stroke="#d03030" stroke-width="0.8" stroke-opacity="0.064"/>
<path d="M389.5 324.5L432.5 247.5" stroke="#2e8b2e" stroke-width="0.8" stroke-opacity="0.161"/>
<path d="M389.5 324.5L451.8 282.5" stroke="#d03030" stroke-width="0.8" stroke-opacity="0.071"/>
<path d="M389.5 324.5L493.2 215.8" stroke="#d03030" stroke-width="0.8" stroke-opacity="0.058"/>
<path d="M389.5 324.5L512.5 211.8" stroke="#d03030" stroke-width="0.8" stroke-opacity="0.029"/>
<path d="M389.5 324.5L335.0 313.5" stroke="#2e8b2e" stroke-width="0.8" stroke-opacity="0.033"/>
<path d="M389.5 324.5L440.8 255.0" stroke="#d03030" stroke-width="0.8" stroke-opacity="0.143"/>
<path d="M389.5 324.5L447.0 276.2" stroke="#d03030" stroke-width="0.8" stroke-opacity="0.034"/>
<path d="M389.5 324.5L438.8 344.5" stroke="#d03030" stroke-width="0.8" stroke-opacity="0.209"/>
<path d="M389.5 324.5L466.8 350.5" stroke="#d03030" stroke-width="0.8" stroke-opacity="0.029"/>
<path d="M389.5 324.5L698.2 232.2" stroke="#8c8c8c" stroke-width="0.8" stroke-opacity="0.028"/>
<path d="M389.5 324.5L465.5 201.2" stroke="#2e8b2e" stroke-width="0.8" stroke-opacity="0.039"/>
<path d="M389.5 324.5L633.0 44.5" stroke="#8c8c8c" stroke-width="0.8" stroke-opacity="0.045"/>
<path d="M389.5 324.5L658.0 131.8" stroke="#8c8c8c" stroke-width="0.8" stroke-opacity="0.042"/>
<path d="M389.5 324.5L685.5 336.0" stroke="#8c8c8c" stroke-width="0.8" stroke-opacity="0.056"/>
<path d="M389.5 324.5L645.5 369.2" stroke="#d03030" stroke-width="0.8" stroke-opacity="0.034"/>
<path d="M389.5 324.5L566.2 360.5" stroke="#d03030" stroke-width="0.8" stroke-opacity="0.021"/>
<path d="M410.0 330.5L436.2 235.5" stroke="#d03030" stroke-width="0.8" stroke-opacity="0.120"/>
<path d="M410.0 330.5L447.5 242.0" stroke="#2e8b2e" stroke-width="0.8" stroke-opacity="0.052"/>
<path d="M410.0 330.5L432.5 247.5" stroke="#d03030" stroke-width="0.8" stroke-opacity="0.075"/>
<path d="M410.0 330.5L470.0 287.0" stroke="#2e8b2e" stroke-width="0.8" stroke-opacity="0.079"/>
<path d="M410.0 330.5L510.5 332.5" stroke="#d03030" stroke-width="0.8" stroke-opacity="0.072"/>
<path d="M410.0 330.5L543.2 300.0" stroke="#d03030" stroke-width="0.8" stroke-opacity="0.130"/>
<path d="M410.0 330.5L440.8 255.0" stroke="#d03030" stroke-width="0.8" stroke-opacity="0.074"/>
<path d="M410.0 330.5L447.0 276.2" stroke="#d03030" stroke-width="0.8" stroke-opacity="0.198"/>
<path d="M410.0 330.5L483.0 313.8" stroke="#d03030" stroke-width="0.8" stroke-opacity="0.091"/>
<path d="M410.0 330.5L502.5 219.2" stroke="#d03030" stroke-width="0.8" stroke-opacity="0.119"/>
<path d="M410.0 330.5L553.2 346.2" stroke="#2e8b2e" stroke-width="0.8" stroke-opacity="0.064"/>
<path d="M410.0 330.5L346.0 274.5" stroke="#2e8b2e" stroke-width="0.8" stroke-opacity="0.100"/>
<path d="M410.0 330.5L745.5 12.5" stroke="#8c8c8c" stroke-width="0.8" stroke-opacity="0.006"/>
<path d="M410.0 330.5L561.2 130.8" stroke="#d03030" stroke-width="0.8" stroke-opacity="0.071"/>
<path d="M410.0 330.5L676.8 253.0" stroke="#8c8c8c" stroke-width="0.8" stroke-opacity="0.011"/>
<path d="M410.0 330.5L638.0 341.2" stroke="#d03030" stroke-width="0.8" stroke-opacity="0.017"/>
<path d="M410.0 330.5L716.8 448.2" stroke="#2e8b2e" stroke-width="0.8" stroke-opacity="0.056"/>
<path d="M410.0 330.5L650.0 568.8" stroke="#8c8c8c" stroke-width="0.8" stroke-opacity="0.015"/>
<path d="M431.2 209.5L454.5 204.5" stroke="#d03030" stroke-width="0.8" stroke-opacity="0.152"/>
<path d="M431.2 209.5L455.5 220.0" stroke="#d03030" stroke-width="0.8" stroke-opacity="0.157"/>
<path d="M431.2 209.5L436.2 235.5" stroke="#d03030" stroke-width="0.8" stroke-opacity="0.038"/>
<path d="M431.2 209.5L447.5 242.0" stroke="#d03030" stroke-width="0.8" stroke-opacity="0.147"/>
<path d="M431.2 209.5L432.5 247.5" stroke="#d03030" stroke-width="0.8" stroke-opacity="0.187"/>
<path d="M431.2 209.5L462.5 248.0" stroke="#d03030" stroke-width="0.8" stroke-opacity="0.065"/>
<path d="M431.2 209.5L451.8 282.5" stroke="#d03030" stroke-width="0.8" stroke-opacity="0.052"/>
<path d="M431.2 209.5L493.2 215.8" stroke="#2e8b2e" stroke-width="0.8" stroke-opacity="0.177"/>
<path d="M431.2 209.5L427.0 95.8" stroke="#d03030" stroke-width="0.8" stroke-opacity="0.045"/>
<path d="M431.2 209.5L440.8 255.0" stroke="#d03030" stroke-width="0.8" stroke-opacity="0.070"/>
<path d="M431.2 209.5L483.0 313.8" stroke="#2e8b2e" stroke-width="0.8" stroke-opacity="0.083"/>
<path d="M431.2 209.5L502.5 219.2" stroke="#2e8b2e" stroke-width="0.8" stroke-opacity="0.038"/>
<path d="M431.2 209.5L438.8 344.5" stroke="#2e8b2e" stroke-width="0.8" stroke-opacity="0.049"/>
<path d="M431.2 209.5L466.8 350.5" stroke="#2e8b2e" stroke-width="0.8" stroke-opacity="0.088"/>
<path d="M431.2 209.5L346.0 274.5" stroke="#d03030" stroke-width="0.8" stroke-opacity="0.026"/>
<path d="M431.2 209.5L465.5 201.2" stroke="#2e8b2e" stroke-width="0.8" stroke-opacity="0.071"/>
<path d="M431.2 209.5L547.0 199.5" stroke="#d03030" stroke-width="0.8" stroke-opacity="0.130"/>
<path d="M431.2 209.5L561.2 130.8" stroke="#2e8b2e" stroke-width="0.8" stroke-opacity="0.141"/>
<path d="M454.5 204.5L455.5 220.0" stroke="#d03030" stroke-width="0.8" stroke-opacity="0.159"/>
<path d="M454.5 204.5L436.2 235.5" stroke="#d03030" stroke-width="0.8" stroke-opacity="0.057"/>
<path d="M454.5 204.5L462.5 248.0" stroke="#d03030" stroke-width="0.8" stroke-opacity="0.047"/>
<path d="M454.5 204.5L459.0 283.0" stroke="#d03030" stroke-width="0.8" stroke-opacity="0.030"/>
<path d="M454.5 204.5L493.2 215.8" stroke="#d03030" stroke-width="0.8" stroke-opacity="0.035"/>
<path d="M454.5 204.5L512.5 211.8" stroke="#d03030" stroke-width="0.8" stroke-opacity="0.137"/>
<path d="M454.5 204.5L248.8 335.5" stroke="#d03030" stroke-width="0.8" stroke-opacity="0.043"/>
<path d="M454.5 204.5L440.8 255.0" stroke="#d03030" stroke-width="0.8" stroke-opacity="0.045"/>
<path d="M454.5 204.5L447.0 276.2" stroke="#2e8b2e" stroke-width="0.8" stroke-opacity="0.051"/>
<path d="M454.5 204.5L500.8 277.5" stroke="#d03030" stroke-width="0.8" stroke-opacity="0.099"/>
<path d="M454.5 204.5L483.0 313.8" stroke="#d03030" stroke-width="0.8" stroke-opacity="0.108"/>
<path d="M454.5 204.5L466.8 350.5" stroke="#d03030" stroke-width="0.8" stroke-opacity="0.040"/>
<path d="M454.5 204.5L465.5 201.2" stroke="#d03030" stroke-width="0.8" stroke-opacity="0.054"/>
<path d="M454.5 204.5L547.0 199.5" stroke="#d03030" stroke-width="0.8" stroke-opacity="0.035"/>
<path d="M454.5 204.5L633.0 44.5" stroke="#d03030" stroke-width="0.8" stroke-opacity="0.103"/>
<path d="M454.5 204.5L561.2 130.8" stroke="#2e8b2e" stroke-width="0.8" stroke-opacity="0.034"/>
<path d="M454.5 204.5L685.5 336.0" stroke="#8c8c8c" stroke-width="0.8" stroke-opacity="0.016"/>
<path d="M454.5 204.5L676.2 408.5" stroke="#2e8b2e" stroke-width="0.8" stroke-opacity="0.059"/>
<path d="M454.5 204.5L565.5 376.2" stroke="#d03030" stroke-width="0.8" stroke-opacity="0.075"/>
<path d="M454.5 204.5L567.5 390.0" stroke="#d03030" stroke-width="0.8" stroke-opacity="0.025"/>
<path d="M454.5 204.5L698.2 526.2" stroke="#d03030" stroke-width="0.8" stroke-opacity="0.009"/>
<path d="M454.5 204.5L599.2 333.2" stroke="#2e8b2e" stroke-width="0.8" stroke-opacity="0.019"/>
<path d="M455.5 220.0L436.2 235.5" stroke="#d03030" stroke-width="0.8" stroke-opacity="0.226"/>
<path d="M455.5 220.0L447.5 242.0" stroke="#d03030" stroke-width="0.8" stroke-opacity="0.098"/>
<path d="M455.5 220.0L451.8 282.5" stroke="#d03030" stroke-width="0.8" stroke-opacity="0.089"/>
<path d="M455.5 220.0L470.0 287.0" stroke="#d03030" stroke-width="0.8" stroke-opacity="0.107"/>
<path d="M455.5 220.0L493.2 215.8" stroke="#d03030" stroke-width="0.8" stroke-opacity="0.043"/>
<path d="M455.5 220.0L512.5 211.8" stroke="#d03030" stroke-width="0.8" stroke-opacity="0.139"/>
<path d="M455.5 220.0L453.8 111.2" stroke="#d03030" stroke-width="0.8" stroke-opacity="0.043"/>
<path d="M455.5 220.0L248.8 335.5" stroke="#2e8b2e" stroke-width="0.8" stroke-opacity="0.020"/>
<path d="M455.5 220.0L440.8 255.0" stroke="#d03030" stroke-width="0.8" stroke-opacity="0.199"/>
<path d="M455.5 220.0L500.8 277.5" stroke="#d03030" stroke-width="0.8" stroke-opacity="0.031"/>
<path d="M455.5 220.0L483.0 313.8" stroke="#d03030" stroke-width="0.8" stroke-opacity="0.162"/>
<path d="M455.5 220.0L502.5 219.2" stroke="#2e8b2e" stroke-width="0.8" stroke-opacity="0.054"/>
<path d="M455.5 220.0L346.0 274.5" stroke="#d03030" stroke-width="0.8" stroke-opacity="0.026"/>
<path d="M455.5 220.0L465.5 201.2" stroke="#2e8b2e" stroke-width="0.8" stroke-opacity="0.165"/>
<path d="M455.5 220.0L633.0 44.5" stroke="#d03030" stroke-width="0.8" stroke-opacity="0.067"/>
<path d="M455.5 220.0L561.2 130.8" stroke="#d03030" stroke-width="0.8" stroke-opacity="0.067"/>
<path d="M455.5 220.0L676.8 253.0" stroke="#d03030" stroke-width="0.8" stroke-opacity="0.020"/>
<path d="M455.5 220.0L676.2 408.5" stroke="#d03030" stroke-width="0.8" stroke-opacity="0.023"/>
<path d="M455.5 220.0L565.5 376.2" stroke="#2e8b2e" stroke-width="0.8" stroke-opacity="0.107"/>
<path d="M436.2 235.5L447.5 242.0" stroke="#d03030" stroke-width="0.8" stroke-opacity="0.151"/>
<path d="M436.2 235.5L432.5 247.5" stroke="#d03030" stroke-width="0.8" stroke-opacity="0.127"/>
<path d="M436.2 235.5L462.5 248.0" stroke="#d03030" stroke-width="0.8" stroke-opacity="0.463"/>
<path d="M436.2 235.5L451.8 282.5" stroke="#d03030" stroke-width="0.8" stroke-opacity="0.099"/>
<path d="M436.2 235.5L453.8 111.2" stroke="#d03030" stroke-width="0.8" stroke-opacity="0.025"/>
<path d="M436.2 235.5L570.5 303.2" stroke="#d03030" stroke-width="0.8" stroke-opacity="0.071"/>
<path d="M436.2 235.5L447.0 276.2" stroke="#d03030" stroke-width="0.8" stroke-opacity="0.148"/>
<path d="M436.2 235.5L500.8 277.5" stroke="#2e8b2e" stroke-width="0.8" stroke-opacity="0.050"/>
<path d="M436.2 235.5L483.0 313.8" stroke="#2e8b2e" stroke-width="0.8" stroke-opacity="0.064"/>
<path d="M436.2 235.5L502.5 219.2" stroke="#d03030" stroke-width="0.8" stroke-opacity="0.038"/>
<path d="M436.2 235.5L438.8 344.5" stroke="#d03030" stroke-width="0.8" stroke-opacity="0.029"/>
<path d="M436.2 235.5L466.8 350.5" stroke="#2e8b2e" stroke-width="0.8" stroke-opacity="0.038"/>
<path d="M436.2 235.5L593.0 378.0" stroke="#2e8b2e" stroke-width="0.8" stroke-opacity="0.039"/>
<path d="M436.2 235.5L346.0 274.5" stroke="#d03030" stroke-width="0.8" stroke-opacity="0.033"/>
<path d="M436.2 235.5L465.5 201.2" stroke="#d03030" stroke-width="0.8" stroke-opacity="0.141"/>
<path d="M436.2 235.5L547.0 199.5" stroke="#d03030" stroke-width="0.8" stroke-opacity="0.050"/>
<path d="M436.2 235.5L561.2 130.8" stroke="#2e8b2e" stroke-width="0.8" stroke-opacity="0.042"/>
<path d="M436.2 235.5L707.0 257.5" stroke="#d03030" stroke-width="0.8" stroke-opacity="0.027"/>
<path d="M436.2 235.5L644.5 308.0" stroke="#2e8b2e" stroke-width="0.8" stroke-opacity="0.060"/>
<path d="M436.2 235.5L693.8 357.5" stroke="#2e8b2e" stroke-width="0.8" stroke-opacity="0.087"/>
<path d="M436.2 235.5L567.5 390.0" stroke="#d03030" stroke-width="0.8" stroke-opacity="0.053"/>
<path d="M436.2 235.5L599.2 333.2" stroke="#2e8b2e" stroke-width="0.8" stroke-opacity="0.067"/>
<path d="M447.5 242.0L462.5 248.0" stroke="#d03030" stroke-width="0.8" stroke-opacity="0.045"/>
<path d="M447.5 242.0L451.8 282.5" stroke="#d03030" stroke-width="0.8" stroke-opacity="0.072"/>
<path d="M447.5 242.0L459.0 283.0" stroke="#d03030" stroke-width="0.8" stroke-opacity="0.163"/>
<path d="M447.5 242.0L470.0 287.0" stroke="#d03030" stroke-width="0.8" stroke-opacity="0.151"/>
<path d="M447.5 242.0L528.6 245.1" stroke="#d03030" stroke-width="0.8" stroke-opacity="0.169"/>
<path d="M447.5 242.0L453.8 111.2" stroke="#d03030" stroke-width="0.8" stroke-opacity="0.032"/>
<path d="M447.5 242.0L510.5 332.5" stroke="#d03030" stroke-width="0.8" stroke-opacity="0.026"/>
<path d="M447.5 242.0L248.8 335.5" stroke="#2e8b2e" stroke-width="0.8" stroke-opacity="0.026"/>
<path d="M447.5 242.0L440.8 255.0" stroke="#d03030" stroke-width="0.8" stroke-opacity="0.043"/>
<path d="M447.5 242.0L447.0 276.2" stroke="#2e8b2e" stroke-width="0.8" stroke-opacity="0.080"/>
<path d="M447.5 242.0L500.8 277.5" stroke="#2e8b2e" stroke-width="0.8" stroke-opacity="0.036"/>
<path d="M447.5 242.0L502.5 219.2" stroke="#d03030" stroke-width="0.8" stroke-opacity="0.032"/>
<path d="M447.5 242.0L466.8 350.5" stroke="#d03030" stroke-width="0.8" stroke-opacity="0.147"/>
<path d="M447.5 242.0L465.5 201.2" stroke="#2e8b2e" stroke-width="0.8" stroke-opacity="0.073"/>
<path d="M447.5 242.0L645.5 369.2" stroke="#d03030" stroke-width="0.8" stroke-opacity="0.025"/>
<path d="M447.5 242.0L738.8 386.8" stroke="#d03030" stroke-width="0.8" stroke-opacity="0.031"/>
<path d="M447.5 242.0L601.2 444.5" stroke="#d03030" stroke-width="0.8" stroke-opacity="0.051"/>
<path d="M447.5 242.0L605.8 460.8" stroke="#8c8c8c" stroke-width="0.8" stroke-opacity="0.013"/>
<path d="M447.5 242.0L595.5 516.2" stroke="#8c8c8c" stroke-width="0.8" stroke-opacity="0.010"/>
<path d="M447.5 242.0L650.0 568.8" stroke="#d03030" stroke-width="0.8" stroke-opacity="0.018"/>
<path d="M432.5 247.5L462.5 248.0" stroke="#d03030" stroke-width="0.8" stroke-opacity="0.046"/>
<path d="M432.5 247.5L451.8 282.5" stroke="#d03030" stroke-width="0.8" stroke-opacity="0.102"/>
<path d="M432.5 247.5L470.0 287.0" stroke="#d03030" stroke-width="0.8" stroke-opacity="0.106"/>
<path d="M432.5 247.5L512.5 211.8" stroke="#d03030" stroke-width="0.8" stroke-opacity="0.056"/>
<path d="M432.5 247.5L528.6 245.1" stroke="#d03030" stroke-width="0.8" stroke-opacity="0.034"/>
<path d="M432.5 247.5L543.2 300.0" stroke="#d03030" stroke-width="0.8" stroke-opacity="0.036"/>
<path d="M432.5 247.5L440.8 255.0" stroke="#2e8b2e" stroke-width="0.8" stroke-opacity="0.038"/>
<path d="M432.5 247.5L447.0 276.2" stroke="#2e8b2e" stroke-width="0.8" stroke-opacity="0.156"/>
<path d="M432.5 247.5L500.8 277.5" stroke="#d03030" stroke-width="0.8" stroke-opacity="0.034"/>
<path d="M432.5 247.5L502.5 219.2" stroke="#2e8b2e" stroke-width="0.8" stroke-opacity="0.119"/>
<path d="M432.5 247.5L698.2 232.2" stroke="#8c8c8c" stroke-width="0.8" stroke-opacity="0.039"/>
<path d="M432.5 247.5L346.0 274.5" stroke="#d03030" stroke-width="0.8" stroke-opacity="0.057"/>
<path d="M432.5 247.5L465.5 201.2" stroke="#d03030" stroke-width="0.8" stroke-opacity="0.044"/>
<path d="M432.5 247.5L640.0 194.2" stroke="#2e8b2e" stroke-width="0.8" stroke-opacity="0.019"/>
<path d="M432.5 247.5L561.2 130.8" stroke="#d03030" stroke-width="0.8" stroke-opacity="0.081"/>
<path d="M432.5 247.5L566.2 360.5" stroke="#d03030" stroke-width="0.8" stroke-opacity="0.047"/>
<path d="M432.5 247.5L599.2 333.2" stroke="#2e8b2e" stroke-width="0.8" stroke-opacity="0.048"/>
<path d="M462.5 248.0L451.8 282.5" stroke="#d03030" stroke-width="0.8" stroke-opacity="0.175"/>
<path d="M462.5 248.0L459.0 283.0" stroke="#d03030" stroke-width="0.8" stroke-opacity="0.110"/>
<path d="M462.5 248.0L470.0 287.0" stroke="#d03030" stroke-width="0.8" stroke-opacity="0.049"/>
<path d="M462.5 248.0L493.2 215.8" stroke="#d03030" stroke-width="0.8" stroke-opacity="0.188"/>
<path d="M462.5 248.0L528.6 245.1" stroke="#d03030" stroke-width="0.8" stroke-opacity="0.034"/>
<path d="M462.5 248.0L453.8 111.2" stroke="#d03030" stroke-width="0.8" stroke-opacity="0.097"/>
<path d="M462.5 248.0L510.5 332.5" stroke="#d03030" stroke-width="0.8" stroke-opacity="0.091"/>
<path d="M462.5 248.0L440.8 255.0" stroke="#d03030" stroke-width="0.8" stroke-opacity="0.044"/>
<path d="M462.5 248.0L447.0 276.2" stroke="#d03030" stroke-width="0.8" stroke-opacity="0.035"/>
<path d="M462.5 248.0L500.8 277.5" stroke="#d03030" stroke-width="0.8" stroke-opacity="0.042"/>
<path d="M462.5 248.0L483.0 313.8" stroke="#d03030" stroke-width="0.8" stroke-opacity="0.036"/>
<path d="M462.5 248.0L438.8 344.5" stroke="#d03030" stroke-width="0.8" stroke-opacity="0.028"/>
<path d="M462.5 248.0L593.0 378.0" stroke="#d03030" stroke-width="0.8" stroke-opacity="0.022"/>
<path d="M462.5 248.0L346.0 274.5" stroke="#2e8b2e" stroke-width="0.8" stroke-opacity="0.150"/>
<path d="M462.5 248.0L465.5 201.2" stroke="#d03030" stroke-width="0.8" stroke-opacity="0.153"/>
<path d="M462.5 248.0L547.0 199.5" stroke="#2e8b2e" stroke-width="0.8" stroke-opacity="0.134"/>
<path d="M462.5 248.0L640.0 194.2" stroke="#2e8b2e" stroke-width="0.8" stroke-opacity="0.032"/>
<path d="M462.5 248.0L786.8 6.0" stroke="#d03030" stroke-width="0.8" stroke-opacity="0.046"/>
<path d="M462.5 248.0L658.0 131.8" stroke="#d03030" stroke-width="0.8" stroke-opacity="0.034"/>
<path d="M462.5 248.0L645.5 369.2" stroke="#d03030" stroke-width="0.8" stroke-opacity="0.042"/>
<path d="M462.5 248.0L682.0 412.0" stroke="#d03030" stroke-width="0.8" stroke-opacity="0.046"/>
<path d="M462.5 248.0L565.5 376.2" stroke="#d03030" stroke-width="0.8" stroke-opacity="0.043"/>
<path d="M462.5 248.0L652.0 474.5" stroke="#2e8b2e" stroke-width="0.8" stroke-opacity="0.033"/>
<path d="M462.5 248.0L639.5 500.0" stroke="#2e8b2e" stroke-width="0.8" stroke-opacity="0.028"/>
<path d="M462.5 248.0L513.2 526.4" stroke="#8c8c8c" stroke-width="0.8" stroke-opacity="0.018"/>
<path d="M462.5 248.0L599.2 333.2" stroke="#2e8b2e" stroke-width="0.8" stroke-opacity="0.063"/>
<path d="M451.8 282.5L470.0 287.0" stroke="#d03030" stroke-width="0.8" stroke-opacity="0.048"/>
<path d="M451.8 282.5L528.6 245.1" stroke="#d03030" stroke-width="0.8" stroke-opacity="0.047"/>
<path d="M451.8 282.5L335.0 313.5" stroke="#2e8b2e" stroke-width="0.8" stroke-opacity="0.037"/>
<path d="M451.8 282.5L483.0 313.8" stroke="#d03030" stroke-width="0.8" stroke-opacity="0.142"/>
<path d="M451.8 282.5L502.5 219.2" stroke="#d03030" stroke-width="0.8" stroke-opacity="0.029"/>
<path d="M451.8 282.5L438.8 344.5" stroke="#2e8b2e" stroke-width="0.8" stroke-opacity="0.172"/>
<path d="M451.8 282.5L466.8 350.5" stroke="#2e8b2e" stroke-width="0.8" stroke-opacity="0.062"/>
<path d="M451.8 282.5L553.2 346.2" stroke="#d03030" stroke-width="0.8" stroke-opacity="0.151"/>
<path d="M451.8 282.5L639.2 372.5" stroke="#d03030" stroke-width="0.8" stroke-opacity="0.042"/>
<path d="M451.8 282.5L547.0 199.5" stroke="#d03030" stroke-width="0.8" stroke-opacity="0.031"/>
<path d="M451.8 282.5L676.8 253.0" stroke="#2e8b2e" stroke-width="0.8" stroke-opacity="0.030"/>
<path d="M451.8 282.5L685.5 336.0" stroke="#2e8b2e" stroke-width="0.8" stroke-opacity="0.030"/>
<path d="M451.8 282.5L682.0 412.0" stroke="#8c8c8c" stroke-width="0.8" stroke-opacity="0.013"/>
<path d="M451.8 282.5L652.0 474.5" stroke="#d03030" stroke-width="0.8" stroke-opacity="0.060"/>
<path d="M451.8 282.5L617.0 544.5" stroke="#8c8c8c" stroke-width="0.8" stroke-opacity="0.037"/>
<path d="M451.8 282.5L599.2 333.2" stroke="#2e8b2e" stroke-width="0.8" stroke-opacity="0.054"/>
<path d="M459.0 283.0L470.0 287.0" stroke="#d03030" stroke-width="0.8" stroke-opacity="0.064"/>
<path d="M459.0 283.0L453.8 111.2" stroke="#d03030" stroke-width="0.8" stroke-opacity="0.026"/>
<path d="M459.0 283.0L510.5 332.5" stroke="#d03030" stroke-width="0.8" stroke-opacity="0.044"/>
<path d="M459.0 283.0L570.5 303.2" stroke="#d03030" stroke-width="0.8" stroke-opacity="0.033"/>
<path d="M459.0 283.0L335.0 313.5" stroke="#d03030" stroke-width="0.8" stroke-opacity="0.027"/>
<path d="M459.0 283.0L440.8 255.0" stroke="#d03030" stroke-width="0.8" stroke-opacity="0.208"/>
<path d="M459.0 283.0L447.0 276.2" stroke="#2e8b2e" stroke-width="0.8" stroke-opacity="0.088"/>
<path d="M459.0 283.0L483.0 313.8" stroke="#d03030" stroke-width="0.8" stroke-opacity="0.162"/>
<path d="M459.0 283.0L502.5 219.2" stroke="#d03030" stroke-width="0.8" stroke-opacity="0.049"/>
<path d="M459.0 283.0L438.8 344.5" stroke="#2e8b2e" stroke-width="0.8" stroke-opacity="0.042"/>
<path d="M459.0 283.0L638.8 429.5" stroke="#2e8b2e" stroke-width="0.8" stroke-opacity="0.017"/>
<path d="M459.0 283.0L346.0 274.5" stroke="#2e8b2e" stroke-width="0.8" stroke-opacity="0.045"/>
<path d="M459.0 283.0L547.0 199.5" stroke="#2e8b2e" stroke-width="0.8" stroke-opacity="0.151"/>
<path d="M459.0 283.0L685.5 336.0" stroke="#2e8b2e" stroke-width="0.8" stroke-opacity="0.024"/>
<path d="M459.0 283.0L566.2 360.5" stroke="#d03030" stroke-width="0.8" stroke-opacity="0.091"/>
<path d="M470.0 287.0L512.5 211.8" stroke="#d03030" stroke-width="0.8" stroke-opacity="0.029"/>
<path d="M470.0 287.0L528.6 245.1" stroke="#d03030" stroke-width="0.8" stroke-opacity="0.170"/>
<path d="M470.0 287.0L427.0 95.8" stroke="#d03030" stroke-width="0.8" stroke-opacity="0.074"/>
<path d="M470.0 287.0L453.8 111.2" stroke="#d03030" stroke-width="0.8" stroke-opacity="0.119"/>
<path d="M470.0 287.0L510.5 332.5" stroke="#d03030" stroke-width="0.8" stroke-opacity="0.123"/>
<path d="M470.0 287.0L543.2 300.0" stroke="#d03030" stroke-width="0.8" stroke-opacity="0.081"/>
<path d="M470.0 287.0L570.5 303.2" stroke="#d03030" stroke-width="0.8" stroke-opacity="0.029"/>
<path d="M470.0 287.0L335.0 313.5" stroke="#2e8b2e" stroke-width="0.8" stroke-opacity="0.040"/>
<path d="M470.0 287.0L440.8 255.0" stroke="#2e8b2e" stroke-width="0.8" stroke-opacity="0.058"/>
<path d="M470.0 287.0L447.0 276.2" stroke="#d03030" stroke-width="0.8" stroke-opacity="0.141"/>
<path d="M470.0 287.0L500.8 277.5" stroke="#d03030" stroke-width="0.8" stroke-opacity="0.035"/>
<path d="M470.0 287.0L483.0 313.8" stroke="#d03030" stroke-width="0.8" stroke-opacity="0.036"/>
<path d="M470.0 287.0L502.5 219.2" stroke="#d03030" stroke-width="0.8" stroke-opacity="0.091"/>
<path d="M470.0 287.0L438.8 344.5" stroke="#d03030" stroke-width="0.8" stroke-opacity="0.066"/>
<path d="M470.0 287.0L466.8 350.5" stroke="#d03030" stroke-width="0.8" stroke-opacity="0.044"/>
<path d="M470.0 287.0L638.8 429.5" stroke="#2e8b2e" stroke-width="0.8" stroke-opacity="0.097"/>
<path d="M470.0 287.0L346.0 274.5" stroke="#d03030" stroke-width="0.8" stroke-opacity="0.036"/>
<path d="M470.0 287.0L547.0 199.5" stroke="#d03030" stroke-width="0.8" stroke-opacity="0.062"/>
<path d="M470.0 287.0L676.2 408.5" stroke="#d03030" stroke-width="0.8" stroke-opacity="0.020"/>
<path d="M470.0 287.0L565.5 376.2" stroke="#d03030" stroke-width="0.8" stroke-opacity="0.091"/>
<path d="M470.0 287.0L652.0 474.5" stroke="#8c8c8c" stroke-width="0.8" stroke-opacity="0.058"/>
<path d="M470.0 287.0L354.2 605.0" stroke="#8c8c8c" stroke-width="0.8" stroke-opacity="0.009"/>
<path d="M493.2 215.8L510.5 332.5" stroke="#d03030" stroke-width="0.8" stroke-opacity="0.073"/>
<path d="M493.2 215.8L543.2 300.0" stroke="#d03030" stroke-width="0.8" stroke-opacity="0.060"/>
<path d="M493.2 215.8L570.5 303.2" stroke="#d03030" stroke-width="0.8" stroke-opacity="0.032"/>
<path d="M493.2 215.8L335.0 313.5" stroke="#d03030" stroke-width="0.8" stroke-opacity="0.020"/>
<path d="M493.2 215.8L447.0 276.2" stroke="#d03030" stroke-width="0.8" stroke-opacity="0.136"/>
<path d="M493.2 215.8L500.8 277.5" stroke="#d03030" stroke-width="0.8" stroke-opacity="0.457"/>
<path d="M493.2 215.8L502.5 219.2" stroke="#d03030" stroke-width="0.8" stroke-opacity="0.166"/>
<path d="M493.2 215.8L553.2 346.2" stroke="#d03030" stroke-width="0.8" stroke-opacity="0.024"/>
<path d="M493.2 215.8L593.0 378.0" stroke="#d03030" stroke-width="0.8" stroke-opacity="0.046"/>
<path d="M493.2 215.8L465.5 201.2" stroke="#d03030" stroke-width="0.8" stroke-opacity="0.064"/>
<path d="M493.2 215.8L547.0 199.5" stroke="#d03030" stroke-width="0.8" stroke-opacity="0.032"/>
<path d="M493.2 215.8L644.5 308.0" stroke="#2e8b2e" stroke-width="0.8" stroke-opacity="0.089"/>
<path d="M493.2 215.8L676.2 408.5" stroke="#8c8c8c" stroke-width="0.8" stroke-opacity="0.016"/>
<path d="M493.2 215.8L738.8 386.8" stroke="#8c8c8c" stroke-width="0.8" stroke-opacity="0.024"/>
<path d="M493.2 215.8L662.0 508.0" stroke="#8c8c8c" stroke-width="0.8" stroke-opacity="0.016"/>
<path d="M493.2 215.8L354.2 605.0" stroke="#2e8b2e" stroke-width="0.8" stroke-opacity="0.052"/>
<path d="M512.5 211.8L528.6 245.1" stroke="#d03030" stroke-width="0.8" stroke-opacity="0.035"/>
<path d="M512.5 211.8L453.8 111.2" stroke="#d03030" stroke-width="0.8" stroke-opacity="0.026"/>
<path d="M512.5 211.8L248.8 335.5" stroke="#d03030" stroke-width="0.8" stroke-opacity="0.072"/>
<path d="M512.5 211.8L335.0 313.5" stroke="#2e8b2e" stroke-width="0.8" stroke-opacity="0.027"/>
<path d="M512.5 211.8L447.0 276.2" stroke="#d03030" stroke-width="0.8" stroke-opacity="0.052"/>
<path d="M512.5 211.8L500.8 277.5" stroke="#d03030" stroke-width="0.8" stroke-opacity="0.068"/>
<path d="M512.5 211.8L483.0 313.8" stroke="#d03030" stroke-width="0.8" stroke-opacity="0.065"/>
<path d="M512.5 211.8L502.5 219.2" stroke="#d03030" stroke-width="0.8" stroke-opacity="0.050"/>
<path d="M512.5 211.8L438.8 344.5" stroke="#d03030" stroke-width="0.8" stroke-opacity="0.111"/>
<path d="M512.5 211.8L465.5 201.2" stroke="#2e8b2e" stroke-width="0.8" stroke-opacity="0.037"/>
<path d="M512.5 211.8L547.0 199.5" stroke="#d03030" stroke-width="0.8" stroke-opacity="0.084"/>
<path d="M512.5 211.8L658.0 131.8" stroke="#d03030" stroke-width="0.8" stroke-opacity="0.078"/>
<path d="M512.5 211.8L561.2 130.8" stroke="#d03030" stroke-width="0.8" stroke-opacity="0.131"/>
<path d="M512.5 211.8L676.8 253.0" stroke="#d03030" stroke-width="0.8" stroke-opacity="0.102"/>
<path d="M512.5 211.8L707.0 257.5" stroke="#d03030" stroke-width="0.8" stroke-opacity="0.091"/>
<path d="M512.5 211.8L693.8 357.5" stroke="#d03030" stroke-width="0.8" stroke-opacity="0.020"/>
<path d="M512.5 211.8L645.5 369.2" stroke="#d03030" stroke-width="0.8" stroke-opacity="0.032"/>
<path d="M512.5 211.8L676.2 408.5" stroke="#d03030" stroke-width="0.8" stroke-opacity="0.017"/>
<path d="M512.5 211.8L738.8 386.8" stroke="#8c8c8c" stroke-width="0.8" stroke-opacity="0.065"/>
<path d="M512.5 211.8L567.5 390.0" stroke="#d03030" stroke-width="0.8" stroke-opacity="0.055"/>
<path d="M528.6 245.1L427.0 95.8" stroke="#d03030" stroke-width="0.8" stroke-opacity="0.033"/>
<path d="M528.6 245.1L453.8 111.2" stroke="#d03030" stroke-width="0.8" stroke-opacity="0.032"/>
<path d="M528.6 245.1L543.2 300.0" stroke="#d03030" stroke-width="0.8" stroke-opacity="0.079"/>
<path d="M528.6 245.1L447.0 276.2" stroke="#2e8b2e" stroke-width="0.8" stroke-opacity="0.058"/>
<path d="M528.6 245.1L500.8 277.5" stroke="#2e8b2e" stroke-width="0.8" stroke-opacity="0.044"/>
<path d="M528.6 245.1L466.8 350.5" stroke="#2e8b2e" stroke-width="0.8" stroke-opacity="0.061"/>
<path d="M528.6 245.1L547.0 199.5" stroke="#d03030" stroke-width="0.8" stroke-opacity="0.189"/>
<path d="M528.6 245.1L786.8 6.0" stroke="#d03030" stroke-width="0.8" stroke-opacity="0.012"/>
<path d="M528.6 245.1L786.8 85.8" stroke="#d03030" stroke-width="0.8" stroke-opacity="0.039"/>
<path d="M528.6 245.1L658.0 131.8" stroke="#d03030" stroke-width="0.8" stroke-opacity="0.021"/>
<path d="M528.6 245.1L561.2 130.8" stroke="#d03030" stroke-width="0.8" stroke-opacity="0.132"/>
<path d="M528.6 245.1L644.5 308.0" stroke="#2e8b2e" stroke-width="0.8" stroke-opacity="0.059"/>
<path d="M528.6 245.1L685.5 336.0" stroke="#2e8b2e" stroke-width="0.8" stroke-opacity="0.040"/>
<path d="M528.6 245.1L676.2 408.5" stroke="#d03030" stroke-width="0.8" stroke-opacity="0.075"/>
<path d="M528.6 245.1L738.8 386.8" stroke="#d03030" stroke-width="0.8" stroke-opacity="0.026"/>
<path d="M528.6 245.1L565.5 376.2" stroke="#d03030" stroke-width="0.8" stroke-opacity="0.024"/>
<path d="M528.6 245.1L567.5 390.0" stroke="#2e8b2e" stroke-width="0.8" stroke-opacity="0.023"/>
<path d="M528.6 245.1L662.0 508.0" stroke="#8c8c8c" stroke-width="0.8" stroke-opacity="0.015"/>
<path d="M427.0 95.8L453.8 111.2" stroke="#d03030" stroke-width="0.8" stroke-opacity="0.037"/>
<path d="M427.0 95.8L510.5 332.5" stroke="#d03030" stroke-width="0.8" stroke-opacity="0.030"/>
<path d="M427.0 95.8L500.8 277.5" stroke="#2e8b2e" stroke-width="0.8" stroke-opacity="0.066"/>
<path d="M427.0 95.8L553.2 346.2" stroke="#d03030" stroke-width="0.8" stroke-opacity="0.038"/>
<path d="M427.0 95.8L593.0 378.0" stroke="#d03030" stroke-width="0.8" stroke-opacity="0.014"/>
<path d="M427.0 95.8L698.2 232.2" stroke="#8c8c8c" stroke-width="0.8" stroke-opacity="0.051"/>
<path d="M427.0 95.8L465.5 201.2" stroke="#d03030" stroke-width="0.8" stroke-opacity="0.110"/>
<path d="M427.0 95.8L658.0 131.8" stroke="#2e8b2e" stroke-width="0.8" stroke-opacity="0.034"/>
<path d="M427.0 95.8L693.8 357.5" stroke="#d03030" stroke-width="0.8" stroke-opacity="0.022"/>
<path d="M427.0 95.8L674.5 390.0" stroke="#8c8c8c" stroke-width="0.8" stroke-opacity="0.037"/>
<path d="M427.0 95.8L599.2 333.2" stroke="#8c8c8c" stroke-width="0.8" stroke-opacity="0.014"/>
<path d="M453.8 111.2L543.2 300.0" stroke="#d03030" stroke-width="0.8" stroke-opacity="0.026"/>
<path d="M453.8 111.2L335.0 313.5" stroke="#d03030" stroke-width="0.8" stroke-opacity="0.030"/>
<path d="M453.8 111.2L440.8 255.0" stroke="#d03030" stroke-width="0.8" stroke-opacity="0.086"/>
<path d="M453.8 111.2L447.0 276.2" stroke="#d03030" stroke-width="0.8" stroke-opacity="0.021"/>
<path d="M453.8 111.2L502.5 219.2" stroke="#d03030" stroke-width="0.8" stroke-opacity="0.029"/>
<path d="M453.8 111.2L438.8 344.5" stroke="#d03030" stroke-width="0.8" stroke-opacity="0.048"/>
<path d="M453.8 111.2L547.0 199.5" stroke="#2e8b2e" stroke-width="0.8" stroke-opacity="0.054"/>
<path d="M453.8 111.2L561.2 130.8" stroke="#d03030" stroke-width="0.8" stroke-opacity="0.050"/>
<path d="M453.8 111.2L707.0 257.5" stroke="#8c8c8c" stroke-width="0.8" stroke-opacity="0.027"/>
<path d="M453.8 111.2L685.5 336.0" stroke="#d03030" stroke-width="0.8" stroke-opacity="0.040"/>
<path d="M510.5 332.5L543.2 300.0" stroke="#d03030" stroke-width="0.8" stroke-opacity="0.108"/>
<path d="M510.5 332.5L570.5 303.2" stroke="#d03030" stroke-width="0.8" stroke-opacity="0.100"/>
<path d="M510.5 332.5L335.0 313.5" stroke="#d03030" stroke-width="0.8" stroke-opacity="0.072"/>
<path d="M510.5 332.5L440.8 255.0" stroke="#d03030" stroke-width="0.8" stroke-opacity="0.027"/>
<path d="M510.5 332.5L483.0 313.8" stroke="#2e8b2e" stroke-width="0.8" stroke-opacity="0.161"/>
<path d="M510.5 332.5L502.5 219.2" stroke="#d03030" stroke-width="0.8" stroke-opacity="0.055"/>
<path d="M510.5 332.5L466.8 350.5" stroke="#d03030" stroke-width="0.8" stroke-opacity="0.085"/>
<path d="M510.5 332.5L553.2 346.2" stroke="#d03030" stroke-width="0.8" stroke-opacity="0.126"/>
<path d="M510.5 332.5L639.2 372.5" stroke="#d03030" stroke-width="0.8" stroke-opacity="0.058"/>
<path d="M510.5 332.5L638.8 429.5" stroke="#2e8b2e" stroke-width="0.8" stroke-opacity="0.067"/>
<path d="M510.5 332.5L465.5 201.2" stroke="#d03030" stroke-width="0.8" stroke-opacity="0.026"/>
<path d="M510.5 332.5L561.2 130.8" stroke="#d03030" stroke-width="0.8" stroke-opacity="0.037"/>
<path d="M510.5 332.5L707.0 257.5" stroke="#2e8b2e" stroke-width="0.8" stroke-opacity="0.018"/>
<path d="M510.5 332.5L693.8 357.5" stroke="#d03030" stroke-width="0.8" stroke-opacity="0.065"/>
<path d="M510.5 332.5L645.5 369.2" stroke="#2e8b2e" stroke-width="0.8" stroke-opacity="0.054"/>
<path d="M510.5 332.5L676.2 408.5" stroke="#d03030" stroke-width="0.8" stroke-opacity="0.083"/>
<path d="M510.5 332.5L738.8 386.8" stroke="#d03030" stroke-width="0.8" stroke-opacity="0.024"/>
<path d="M510.5 332.5L566.2 360.5" stroke="#d03030" stroke-width="0.8" stroke-opacity="0.037"/>
<path d="M510.5 332.5L601.2 444.5" stroke="#d03030" stroke-width="0.8" stroke-opacity="0.063"/>
<path d="M510.5 332.5L652.0 474.5" stroke="#d03030" stroke-width="0.8" stroke-opacity="0.019"/>
<path d="M510.5 332.5L650.0 568.8" stroke="#2e8b2e" stroke-width="0.8" stroke-opacity="0.035"/>
<path d="M543.2 300.0L570.5 303.2" stroke="#d03030" stroke-width="0.8" stroke-opacity="0.294"/>
<path d="M543.2 300.0L447.0 276.2" stroke="#d03030" stroke-width="0.8" stroke-opacity="0.029"/>
<path d="M543.2 300.0L483.0 313.8" stroke="#d03030" stroke-width="0.8" stroke-opacity="0.093"/>
<path d="M543.2 300.0L502.5 219.2" stroke="#d03030" stroke-width="0.8" stroke-opacity="0.066"/>
<path d="M543.2 300.0L438.8 344.5" stroke="#d03030" stroke-width="0.8" stroke-opacity="0.027"/>
<path d="M543.2 300.0L466.8 350.5" stroke="#d03030" stroke-width="0.8" stroke-opacity="0.062"/>
<path d="M543.2 300.0L553.2 346.2" stroke="#d03030" stroke-width="0.8" stroke-opacity="0.040"/>
<path d="M543.2 300.0L639.2 372.5" stroke="#d03030" stroke-width="0.8" stroke-opacity="0.162"/>
<path d="M543.2 300.0L638.8 429.5" stroke="#d03030" stroke-width="0.8" stroke-opacity="0.046"/>
<path d="M543.2 300.0L698.2 232.2" stroke="#d03030" stroke-width="0.8" stroke-opacity="0.112"/>
<path d="M543.2 300.0L346.0 274.5" stroke="#d03030" stroke-width="0.8" stroke-opacity="0.029"/>
<path d="M543.2 300.0L465.5 201.2" stroke="#d03030" stroke-width="0.8" stroke-opacity="0.098"/>
<path d="M543.2 300.0L547.0 199.5" stroke="#d03030" stroke-width="0.8" stroke-opacity="0.061"/>
<path d="M543.2 300.0L640.0 194.2" stroke="#2e8b2e" stroke-width="0.8" stroke-opacity="0.080"/>
<path d="M543.2 300.0L644.5 308.0" stroke="#d03030" stroke-width="0.8" stroke-opacity="0.109"/>
<path d="M543.2 300.0L638.0 341.2" stroke="#d03030" stroke-width="0.8" stroke-opacity="0.072"/>
<path d="M543.2 300.0L685.5 336.0" stroke="#d03030" stroke-width="0.8" stroke-opacity="0.042"/>
<path d="M543.2 300.0L676.2 408.5" stroke="#d03030" stroke-width="0.8" stroke-opacity="0.022"/>
<path d="M543.2 300.0L566.2 360.5" stroke="#d03030" stroke-width="0.8" stroke-opacity="0.050"/>
<path d="M543.2 300.0L565.5 376.2" stroke="#2e8b2e" stroke-width="0.8" stroke-opacity="0.148"/>
<path d="M543.2 300.0L639.5 500.0" stroke="#d03030" stroke-width="0.8" stroke-opacity="0.031"/>
<path d="M543.2 300.0L716.8 448.2" stroke="#2e8b2e" stroke-width="0.8" stroke-opacity="0.062"/>
<path d="M543.2 300.0L650.0 568.8" stroke="#d03030" stroke-width="0.8" stroke-opacity="0.014"/>
<path d="M543.2 300.0L599.2 333.2" stroke="#d03030" stroke-width="0.8" stroke-opacity="0.078"/>
<path d="M570.5 303.2L447.0 276.2" stroke="#d03030" stroke-width="0.8" stroke-opacity="0.026"/>
<path d="M570.5 303.2L502.5 219.2" stroke="#d03030" stroke-width="0.8" stroke-opacity="0.043"/>
<path d="M570.5 303.2L466.8 350.5" stroke="#d03030" stroke-width="0.8" stroke-opacity="0.028"/>
<path d="M570.5 303.2L553.2 346.2" stroke="#d03030" stroke-width="0.8" stroke-opacity="0.114"/>
<path d="M570.5 303.2L593.0 378.0" stroke="#2e8b2e" stroke-width="0.8" stroke-opacity="0.032"/>
<path d="M570.5 303.2L639.2 372.5" stroke="#2e8b2e" stroke-width="0.8" stroke-opacity="0.072"/>
<path d="M570.5 303.2L638.8 429.5" stroke="#2e8b2e" stroke-width="0.8" stroke-opacity="0.059"/>
<path d="M570.5 303.2L698.2 232.2" stroke="#d03030" stroke-width="0.8" stroke-opacity="0.055"/>
<path d="M570.5 303.2L547.0 199.5" stroke="#2e8b2e" stroke-width="0.8" stroke-opacity="0.055"/>
<path d="M570.5 303.2L676.8 253.0" stroke="#d03030" stroke-width="0.8" stroke-opacity="0.132"/>
<path d="M570.5 303.2L644.5 308.0" stroke="#d03030" stroke-width="0.8" stroke-opacity="0.040"/>
<path d="M570.5 303.2L638.0 341.2" stroke="#d03030" stroke-width="0.8" stroke-opacity="0.038"/>
<path d="M570.5 303.2L685.5 336.0" stroke="#d03030" stroke-width="0.8" stroke-opacity="0.125"/>
<path d="M570.5 303.2L645.5 369.2" stroke="#d03030" stroke-width="0.8" stroke-opacity="0.151"/>
<path d="M570.5 303.2L674.5 390.0" stroke="#d03030" stroke-width="0.8" stroke-opacity="0.095"/>
<path d="M570.5 303.2L566.2 360.5" stroke="#d03030" stroke-width="0.8" stroke-opacity="0.136"/>
<path d="M570.5 303.2L567.5 390.0" stroke="#2e8b2e" stroke-width="0.8" stroke-opacity="0.042"/>
<path d="M570.5 303.2L601.2 444.5" stroke="#d03030" stroke-width="0.8" stroke-opacity="0.023"/>
<path d="M570.5 303.2L599.2 333.2" stroke="#2e8b2e" stroke-width="0.8" stroke-opacity="0.138"/>
<path d="M248.8 335.5L335.0 313.5" stroke="#d03030" stroke-width="0.8" stroke-opacity="0.253"/>
<path d="M248.8 335.5L447.0 276.2" stroke="#d03030" stroke-width="0.8" stroke-opacity="0.023"/>
<path d="M248.8 335.5L500.8 277.5" stroke="#d03030" stroke-width="0.8" stroke-opacity="0.019"/>
<path d="M248.8 335.5L502.5 219.2" stroke="#d03030" stroke-width="0.8" stroke-opacity="0.050"/>
<path d="M248.8 335.5L438.8 344.5" stroke="#d03030" stroke-width="0.8" stroke-opacity="0.079"/>
<path d="M248.8 335.5L466.8 350.5" stroke="#d03030" stroke-width="0.8" stroke-opacity="0.107"/>
<path d="M248.8 335.5L639.2 372.5" stroke="#8c8c8c" stroke-width="0.8" stroke-opacity="0.008"/>
<path d="M248.8 335.5L346.0 274.5" stroke="#2e8b2e" stroke-width="0.8" stroke-opacity="0.031"/>
<path d="M248.8 335.5L465.5 201.2" stroke="#d03030" stroke-width="0.8" stroke-opacity="0.073"/>
<path d="M248.8 335.5L547.0 199.5" stroke="#8c8c8c" stroke-width="0.8" stroke-opacity="0.046"/>
<path d="M248.8 335.5L640.0 194.2" stroke="#d03030" stroke-width="0.8" stroke-opacity="0.039"/>
<path d="M248.8 335.5L638.0 341.2" stroke="#8c8c8c" stroke-width="0.8" stroke-opacity="0.011"/>
<path d="M248.8 335.5L595.5 516.2" stroke="#2e8b2e" stroke-width="0.8" stroke-opacity="0.035"/>
<path d="M248.8 335.5L650.0 568.8" stroke="#d03030" stroke-width="0.8" stroke-opacity="0.017"/>
<path d="M335.0 313.5L440.8 255.0" stroke="#d03030" stroke-width="0.8" stroke-opacity="0.031"/>
<path d="M335.0 313.5L447.0 276.2" stroke="#d03030" stroke-width="0.8" stroke-opacity="0.027"/>
<path d="M335.0 313.5L502.5 219.2" stroke="#d03030" stroke-width="0.8" stroke-opacity="0.106"/>
<path d="M335.0 313.5L438.8 344.5" stroke="#d03030" stroke-width="0.8" stroke-opacity="0.032"/>
<path d="M335.0 313.5L346.0 274.5" stroke="#2e8b2e" stroke-width="0.8" stroke-opacity="0.035"/>
<path d="M335.0 313.5L465.5 201.2" stroke="#d03030" stroke-width="0.8" stroke-opacity="0.028"/>
<path d="M335.0 313.5L601.2 444.5" stroke="#8c8c8c" stroke-width="0.8" stroke-opacity="0.010"/>
<path d="M335.0 313.5L586.8 604.8" stroke="#8c8c8c" stroke-width="0.8" stroke-opacity="0.040"/>
<path d="M440.8 255.0L500.8 277.5" stroke="#d03030" stroke-width="0.8" stroke-opacity="0.101"/>
<path d="M440.8 255.0L466.8 350.5" stroke="#d03030" stroke-width="0.8" stroke-opacity="0.162"/>
<path d="M440.8 255.0L465.5 201.2" stroke="#d03030" stroke-width="0.8" stroke-opacity="0.077"/>
<path d="M440.8 255.0L547.0 199.5" stroke="#d03030" stroke-width="0.8" stroke-opacity="0.052"/>
<path d="M440.8 255.0L640.0 194.2" stroke="#d03030" stroke-width="0.8" stroke-opacity="0.079"/>
<path d="M440.8 255.0L676.8 253.0" stroke="#2e8b2e" stroke-width="0.8" stroke-opacity="0.020"/>
<path d="M440.8 255.0L644.5 308.0" stroke="#2e8b2e" stroke-width="0.8" stroke-opacity="0.018"/>
<path d="M440.8 255.0L638.0 341.2" stroke="#2e8b2e" stroke-width="0.8" stroke-opacity="0.022"/>
<path d="M440.8 255.0L693.8 357.5" stroke="#8c8c8c" stroke-width="0.8" stroke-opacity="0.013"/>
<path d="M440.8 255.0L566.2 360.5" stroke="#d03030" stroke-width="0.8" stroke-opacity="0.022"/>
<path d="M440.8 255.0L565.5 376.2" stroke="#d03030" stroke-width="0.8" stroke-opacity="0.020"/>
<path d="M440.8 255.0L567.5 390.0" stroke="#2e8b2e" stroke-width="0.8" stroke-opacity="0.021"/>
<path d="M440.8 255.0L354.2 605.0" stroke="#d03030" stroke-width="0.8" stroke-opacity="0.036"/>
<path d="M447.0 276.2L500.8 277.5" stroke="#d03030" stroke-width="0.8" stroke-opacity="0.211"/>
<path d="M447.0 276.2L483.0 313.8" stroke="#d03030" stroke-width="0.8" stroke-opacity="0.035"/>
<path d="M447.0 276.2L502.5 219.2" stroke="#d03030" stroke-width="0.8" stroke-opacity="0.158"/>
<path d="M447.0 276.2L465.5 201.2" stroke="#2e8b2e" stroke-width="0.8" stroke-opacity="0.065"/>
<path d="M447.0 276.2L547.0 199.5" stroke="#d03030" stroke-width="0.8" stroke-opacity="0.127"/>
<path d="M447.0 276.2L633.0 44.5" stroke="#d03030" stroke-width="0.8" stroke-opacity="0.013"/>
<path d="M447.0 276.2L676.8 253.0" stroke="#2e8b2e" stroke-width="0.8" stroke-opacity="0.022"/>
<path d="M447.0 276.2L638.0 341.2" stroke="#2e8b2e" stroke-width="0.8" stroke-opacity="0.076"/>
<path d="M447.0 276.2L693.8 357.5" stroke="#d03030" stroke-width="0.8" stroke-opacity="0.064"/>
<path d="M447.0 276.2L682.0 412.0" stroke="#d03030" stroke-width="0.8" stroke-opacity="0.015"/>
<path d="M447.0 276.2L566.2 360.5" stroke="#d03030" stroke-width="0.8" stroke-opacity="0.032"/>
<path d="M500.8 277.5L483.0 313.8" stroke="#d03030" stroke-width="0.8" stroke-opacity="0.370"/>
<path d="M500.8 277.5L502.5 219.2" stroke="#d03030" stroke-width="0.8" stroke-opacity="0.128"/>
<path d="M500.8 277.5L466.8 350.5" stroke="#d03030" stroke-width="0.8" stroke-opacity="0.031"/>
<path d="M500.8 277.5L593.0 378.0" stroke="#d03030" stroke-width="0.8" stroke-opacity="0.024"/>
<path d="M500.8 277.5L698.2 232.2" stroke="#d03030" stroke-width="0.8" stroke-opacity="0.023"/>
<path d="M500.8 277.5L346.0 274.5" stroke="#d03030" stroke-width="0.8" stroke-opacity="0.054"/>
<path d="M500.8 277.5L640.0 194.2" stroke="#2e8b2e" stroke-width="0.8" stroke-opacity="0.069"/>
<path d="M500.8 277.5L561.2 130.8" stroke="#2e8b2e" stroke-width="0.8" stroke-opacity="0.089"/>
<path d="M500.8 277.5L685.5 336.0" stroke="#d03030" stroke-width="0.8" stroke-opacity="0.092"/>
<path d="M500.8 277.5L566.2 360.5" stroke="#d03030" stroke-width="0.8" stroke-opacity="0.148"/>
<path d="M500.8 277.5L605.8 460.8" stroke="#2e8b2e" stroke-width="0.8" stroke-opacity="0.033"/>
<path d="M483.0 313.8L502.5 219.2" stroke="#d03030" stroke-width="0.8" stroke-opacity="0.118"/>
<path d="M483.0 313.8L466.8 350.5" stroke="#2e8b2e" stroke-width="0.8" stroke-opacity="0.040"/>
<path d="M483.0 313.8L593.0 378.0" stroke="#d03030" stroke-width="0.8" stroke-opacity="0.155"/>
<path d="M483.0 313.8L346.0 274.5" stroke="#d03030" stroke-width="0.8" stroke-opacity="0.041"/>
<path d="M483.0 313.8L465.5 201.2" stroke="#d03030" stroke-width="0.8" stroke-opacity="0.093"/>
<path d="M483.0 313.8L640.0 194.2" stroke="#d03030" stroke-width="0.8" stroke-opacity="0.030"/>
<path d="M483.0 313.8L745.5 12.5" stroke="#8c8c8c" stroke-width="0.8" stroke-opacity="0.036"/>
<path d="M483.0 313.8L693.8 357.5" stroke="#2e8b2e" stroke-width="0.8" stroke-opacity="0.033"/>
<path d="M483.0 313.8L645.5 369.2" stroke="#d03030" stroke-width="0.8" stroke-opacity="0.100"/>
<path d="M483.0 313.8L682.0 412.0" stroke="#2e8b2e" stroke-width="0.8" stroke-opacity="0.024"/>
<path d="M483.0 313.8L566.2 360.5" stroke="#2e8b2e" stroke-width="0.8" stroke-opacity="0.030"/>
<path d="M483.0 313.8L567.5 390.0" stroke="#d03030" stroke-width="0.8" stroke-opacity="0.090"/>
<path d="M483.0 313.8L601.2 444.5" stroke="#2e8b2e" stroke-width="0.8" stroke-opacity="0.107"/>
<path d="M483.0 313.8L599.2 333.2" stroke="#2e8b2e" stroke-width="0.8" stroke-opacity="0.077"/>
<path d="M502.5 219.2L466.8 350.5" stroke="#d03030" stroke-width="0.8" stroke-opacity="0.038"/>
<path d="M502.5 219.2L639.2 372.5" stroke="#d03030" stroke-width="0.8" stroke-opacity="0.025"/>
<path d="M502.5 219.2L638.8 429.5" stroke="#d03030" stroke-width="0.8" stroke-opacity="0.028"/>
<path d="M502.5 219.2L346.0 274.5" stroke="#2e8b2e" stroke-width="0.8" stroke-opacity="0.080"/>
<path d="M502.5 219.2L465.5 201.2" stroke="#d03030" stroke-width="0.8" stroke-opacity="0.037"/>
<path d="M502.5 219.2L786.8 85.8" stroke="#8c8c8c" stroke-width="0.8" stroke-opacity="0.014"/>
<path d="M502.5 219.2L658.0 131.8" stroke="#2e8b2e" stroke-width="0.8" stroke-opacity="0.029"/>
<path d="M502.5 219.2L676.2 408.5" stroke="#2e8b2e" stroke-width="0.8" stroke-opacity="0.081"/>
<path d="M502.5 219.2L682.0 412.0" stroke="#2e8b2e" stroke-width="0.8" stroke-opacity="0.059"/>
<path d="M502.5 219.2L566.2 360.5" stroke="#2e8b2e" stroke-width="0.8" stroke-opacity="0.047"/>
<path d="M502.5 219.2L698.2 526.2" stroke="#8c8c8c" stroke-width="0.8" stroke-opacity="0.044"/>
<path d="M438.8 344.5L553.2 346.2" stroke="#d03030" stroke-width="0.8" stroke-opacity="0.034"/>
<path d="M438.8 344.5L593.0 378.0" stroke="#d03030" stroke-width="0.8" stroke-opacity="0.113"/>
<path d="M438.8 344.5L639.2 372.5" stroke="#d03030" stroke-width="0.8" stroke-opacity="0.102"/>
<path d="M438.8 344.5L465.5 201.2" stroke="#d03030" stroke-width="0.8" stroke-opacity="0.039"/>
<path d="M438.8 344.5L685.5 336.0" stroke="#d03030" stroke-width="0.8" stroke-opacity="0.070"/>
<path d="M438.8 344.5L693.8 357.5" stroke="#d03030" stroke-width="0.8" stroke-opacity="0.016"/>
<path d="M438.8 344.5L645.5 369.2" stroke="#2e8b2e" stroke-width="0.8" stroke-opacity="0.018"/>
<path d="M438.8 344.5L565.5 376.2" stroke="#d03030" stroke-width="0.8" stroke-opacity="0.055"/>
<path d="M438.8 344.5L601.2 444.5" stroke="#2e8b2e" stroke-width="0.8" stroke-opacity="0.053"/>
<path d="M438.8 344.5L605.8 460.8" stroke="#d03030" stroke-width="0.8" stroke-opacity="0.094"/>
<path d="M438.8 344.5L639.5 500.0" stroke="#2e8b2e" stroke-width="0.8" stroke-opacity="0.015"/>
<path d="M438.8 344.5L595.5 516.2" stroke="#d03030" stroke-width="0.8" stroke-opacity="0.092"/>
<path d="M438.8 344.5L698.2 526.2" stroke="#2e8b2e" stroke-width="0.8" stroke-opacity="0.026"/>
<path d="M438.8 344.5L513.2 526.4" stroke="#d03030" stroke-width="0.8" stroke-opacity="0.032"/>
<path d="M466.8 350.5L593.0 378.0" stroke="#d03030" stroke-width="0.8" stroke-opacity="0.069"/>
<path d="M466.8 350.5L639.2 372.5" stroke="#d03030" stroke-width="0.8" stroke-opacity="0.031"/>
<path d="M466.8 350.5L465.5 201.2" stroke="#2e8b2e" stroke-width="0.8" stroke-opacity="0.135"/>
<path d="M466.8 350.5L640.0 194.2" stroke="#d03030" stroke-width="0.8" stroke-opacity="0.017"/>
<path d="M466.8 350.5L658.0 131.8" stroke="#8c8c8c" stroke-width="0.8" stroke-opacity="0.022"/>
<path d="M466.8 350.5L676.2 408.5" stroke="#d03030" stroke-width="0.8" stroke-opacity="0.022"/>
<path d="M466.8 350.5L682.0 412.0" stroke="#d03030" stroke-width="0.8" stroke-opacity="0.092"/>
<path d="M466.8 350.5L566.2 360.5" stroke="#2e8b2e" stroke-width="0.8" stroke-opacity="0.049"/>
<path d="M466.8 350.5L565.5 376.2" stroke="#2e8b2e" stroke-width="0.8" stroke-opacity="0.030"/>
<path d="M466.8 350.5L567.5 390.0" stroke="#2e8b2e" stroke-width="0.8" stroke-opacity="0.032"/>
<path d="M466.8 350.5L601.2 444.5" stroke="#d03030" stroke-width="0.8" stroke-opacity="0.061"/>
<path d="M466.8 350.5L605.8 460.8" stroke="#d03030" stroke-width="0.8" stroke-opacity="0.076"/>
<path d="M466.8 350.5L652.0 474.5" stroke="#d03030" stroke-width="0.8" stroke-opacity="0.086"/>
<path d="M466.8 350.5L639.5 500.0" stroke="#2e8b2e" stroke-width="0.8" stroke-opacity="0.039"/>
<path d="M466.8 350.5L716.8 448.2" stroke="#d03030" stroke-width="0.8" stroke-opacity="0.029"/>
<path d="M466.8 350.5L599.2 333.2" stroke="#2e8b2e" stroke-width="0.8" stroke-opacity="0.113"/>
<path d="M553.2 346.2L593.0 378.0" stroke="#d03030" stroke-width="0.8" stroke-opacity="0.042"/>
<path d="M553.2 346.2L638.8 429.5" stroke="#d03030" stroke-width="0.8" stroke-opacity="0.118"/>
<path d="M553.2 346.2L547.0 199.5" stroke="#2e8b2e" stroke-width="0.8" stroke-opacity="0.128"/>
<path d="M553.2 346.2L640.0 194.2" stroke="#d03030" stroke-width="0.8" stroke-opacity="0.109"/>
<path d="M553.2 346.2L658.0 131.8" stroke="#d03030" stroke-width="0.8" stroke-opacity="0.103"/>
<path d="M553.2 346.2L685.5 336.0" stroke="#2e8b2e" stroke-width="0.8" stroke-opacity="0.024"/>
<path d="M553.2 346.2L674.5 390.0" stroke="#2e8b2e" stroke-width="0.8" stroke-opacity="0.025"/>
<path d="M553.2 346.2L676.2 408.5" stroke="#d03030" stroke-width="0.8" stroke-opacity="0.029"/>
<path d="M553.2 346.2L738.8 386.8" stroke="#d03030" stroke-width="0.8" stroke-opacity="0.023"/>
<path d="M553.2 346.2L566.2 360.5" stroke="#d03030" stroke-width="0.8" stroke-opacity="0.046"/>
<path d="M553.2 346.2L567.5 390.0" stroke="#d03030" stroke-width="0.8" stroke-opacity="0.034"/>
<path d="M553.2 346.2L639.5 500.0" stroke="#d03030" stroke-width="0.8" stroke-opacity="0.024"/>
<path d="M593.0 378.0L638.8 429.5" stroke="#d03030" stroke-width="0.8" stroke-opacity="0.136"/>
<path d="M593.0 378.0L707.0 257.5" stroke="#d03030" stroke-width="0.8" stroke-opacity="0.111"/>
<path d="M593.0 378.0L644.5 308.0" stroke="#d03030" stroke-width="0.8" stroke-opacity="0.049"/>
<path d="M593.0 378.0L638.0 341.2" stroke="#d03030" stroke-width="0.8" stroke-opacity="0.056"/>
<path d="M593.0 378.0L685.5 336.0" stroke="#d03030" stroke-width="0.8" stroke-opacity="0.155"/>
<path d="M593.0 378.0L693.8 357.5" stroke="#2e8b2e" stroke-width="0.8" stroke-opacity="0.027"/>
<path d="M593.0 378.0L645.5 369.2" stroke="#d03030" stroke-width="0.8" stroke-opacity="0.043"/>
<path d="M593.0 378.0L676.2 408.5" stroke="#d03030" stroke-width="0.8" stroke-opacity="0.145"/>
<path d="M593.0 378.0L682.0 412.0" stroke="#2e8b2e" stroke-width="0.8" stroke-opacity="0.050"/>
<path d="M593.0 378.0L565.5 376.2" stroke="#d03030" stroke-width="0.8" stroke-opacity="0.069"/>
<path d="M593.0 378.0L567.5 390.0" stroke="#2e8b2e" stroke-width="0.8" stroke-opacity="0.222"/>
<path d="M593.0 378.0L605.8 460.8" stroke="#2e8b2e" stroke-width="0.8" stroke-opacity="0.045"/>
<path d="M593.0 378.0L652.0 474.5" stroke="#d03030" stroke-width="0.8" stroke-opacity="0.032"/>
<path d="M593.0 378.0L639.5 500.0" stroke="#d03030" stroke-width="0.8" stroke-opacity="0.061"/>
<path d="M593.0 378.0L662.0 508.0" stroke="#2e8b2e" stroke-width="0.8" stroke-opacity="0.024"/>
<path d="M593.0 378.0L595.5 516.2" stroke="#d03030" stroke-width="0.8" stroke-opacity="0.143"/>
<path d="M593.0 378.0L716.8 448.2" stroke="#2e8b2e" stroke-width="0.8" stroke-opacity="0.023"/>
<path d="M639.2 372.5L638.8 429.5" stroke="#d03030" stroke-width="0.8" stroke-opacity="0.139"/>
<path d="M639.2 372.5L698.2 232.2" stroke="#d03030" stroke-width="0.8" stroke-opacity="0.026"/>
<path d="M639.2 372.5L786.8 6.0" stroke="#d03030" stroke-width="0.8" stroke-opacity="0.020"/>
<path d="M639.2 372.5L644.5 308.0" stroke="#2e8b2e" stroke-width="0.8" stroke-opacity="0.097"/>
<path d="M639.2 372.5L638.0 341.2" stroke="#2e8b2e" stroke-width="0.8" stroke-opacity="0.035"/>
<path d="M639.2 372.5L685.5 336.0" stroke="#d03030" stroke-width="0.8" stroke-opacity="0.032"/>
<path d="M639.2 372.5L676.2 408.5" stroke="#d03030" stroke-width="0.8" stroke-opacity="0.065"/>
<path d="M639.2 372.5L738.8 386.8" stroke="#d03030" stroke-width="0.8" stroke-opacity="0.249"/>
<path d="M639.2 372.5L566.2 360.5" stroke="#2e8b2e" stroke-width="0.8" stroke-opacity="0.032"/>
<path d="M639.2 372.5L565.5 376.2" stroke="#d03030" stroke-width="0.8" stroke-opacity="0.154"/>
<path d="M639.2 372.5L567.5 390.0" stroke="#2e8b2e" stroke-width="0.8" stroke-opacity="0.042"/>
<path d="M639.2 372.5L605.8 460.8" stroke="#d03030" stroke-width="0.8" stroke-opacity="0.028"/>
<path d="M639.2 372.5L652.0 474.5" stroke="#2e8b2e" stroke-width="0.8" stroke-opacity="0.035"/>
<path d="M639.2 372.5L599.2 333.2" stroke="#d03030" stroke-width="0.8" stroke-opacity="0.033"/>
<path d="M638.8 429.5L698.2 232.2" stroke="#d03030" stroke-width="0.8" stroke-opacity="0.020"/>
<path d="M638.8 429.5L465.5 201.2" stroke="#d03030" stroke-width="0.8" stroke-opacity="0.024"/>
<path d="M638.8 429.5L644.5 308.0" stroke="#d03030" stroke-width="0.8" stroke-opacity="0.141"/>
<path d="M638.8 429.5L638.0 341.2" stroke="#d03030" stroke-width="0.8" stroke-opacity="0.059"/>
<path d="M638.8 429.5L693.8 357.5" stroke="#d03030" stroke-width="0.8" stroke-opacity="0.060"/>
<path d="M638.8 429.5L674.5 390.0" stroke="#d03030" stroke-width="0.8" stroke-opacity="0.196"/>
<path d="M638.8 429.5L676.2 408.5" stroke="#2e8b2e" stroke-width="0.8" stroke-opacity="0.144"/>
<path d="M638.8 429.5L682.0 412.0" stroke="#2e8b2e" stroke-width="0.8" stroke-opacity="0.058"/>
<path d="M638.8 429.5L738.8 386.8" stroke="#d03030" stroke-width="0.8" stroke-opacity="0.247"/>
<path d="M638.8 429.5L565.5 376.2" stroke="#2e8b2e" stroke-width="0.8" stroke-opacity="0.029"/>
<path d="M638.8 429.5L601.2 444.5" stroke="#d03030" stroke-width="0.8" stroke-opacity="0.090"/>
<path d="M638.8 429.5L605.8 460.8" stroke="#d03030" stroke-width="0.8" stroke-opacity="0.043"/>
<path d="M638.8 429.5L652.0 474.5" stroke="#2e8b2e" stroke-width="0.8" stroke-opacity="0.190"/>
<path d="M638.8 429.5L639.5 500.0" stroke="#d03030" stroke-width="0.8" stroke-opacity="0.311"/>
<path d="M638.8 429.5L698.2 526.2" stroke="#d03030" stroke-width="0.8" stroke-opacity="0.026"/>
<path d="M638.8 429.5L513.2 526.4" stroke="#2e8b2e" stroke-width="0.8" stroke-opacity="0.046"/>
<path d="M698.2 232.2L346.0 274.5" stroke="#8c8c8c" stroke-width="0.8" stroke-opacity="0.031"/>
<path d="M698.2 232.2L465.5 201.2" stroke="#d03030" stroke-width="0.8" stroke-opacity="0.078"/>
<path d="M698.2 232.2L547.0 199.5" stroke="#2e8b2e" stroke-width="0.8" stroke-opacity="0.060"/>
<path d="M698.2 232.2L633.0 44.5" stroke="#2e8b2e" stroke-width="0.8" stroke-opacity="0.056"/>
<path d="M698.2 232.2L658.0 131.8" stroke="#d03030" stroke-width="0.8" stroke-opacity="0.096"/>
<path d="M698.2 232.2L707.0 257.5" stroke="#2e8b2e" stroke-width="0.8" stroke-opacity="0.040"/>
<path d="M698.2 232.2L685.5 336.0" stroke="#2e8b2e" stroke-width="0.8" stroke-opacity="0.464"/>
<path d="M698.2 232.2L693.8 357.5" stroke="#d03030" stroke-width="0.8" stroke-opacity="0.142"/>
<path d="M698.2 232.2L682.0 412.0" stroke="#2e8b2e" stroke-width="0.8" stroke-opacity="0.068"/>
<path d="M698.2 232.2L662.0 508.0" stroke="#8c8c8c" stroke-width="0.8" stroke-opacity="0.021"/>
<path d="M346.0 274.5L465.5 201.2" stroke="#d03030" stroke-width="0.8" stroke-opacity="0.057"/>
<path d="M346.0 274.5L707.0 257.5" stroke="#d03030" stroke-width="0.8" stroke-opacity="0.010"/>
<path d="M346.0 274.5L566.2 360.5" stroke="#d03030" stroke-width="0.8" stroke-opacity="0.046"/>
<path d="M346.0 274.5L595.5 516.2" stroke="#2e8b2e" stroke-width="0.8" stroke-opacity="0.011"/>
<path d="M346.0 274.5L586.8 604.8" stroke="#8c8c8c" stroke-width="0.8" stroke-opacity="0.036"/>
<path d="M346.0 274.5L354.2 605.0" stroke="#8c8c8c" stroke-width="0.8" stroke-opacity="0.031"/>
<path d="M465.5 201.2L547.0 199.5" stroke="#d03030" stroke-width="0.8" stroke-opacity="0.031"/>
<path d="M465.5 201.2L745.5 12.5" stroke="#d03030" stroke-width="0.8" stroke-opacity="0.020"/>
<path d="M465.5 201.2L561.2 130.8" stroke="#d03030" stroke-width="0.8" stroke-opacity="0.029"/>
<path d="M465.5 201.2L685.5 336.0" stroke="#d03030" stroke-width="0.8" stroke-opacity="0.029"/>
<path d="M465.5 201.2L645.5 369.2" stroke="#d03030" stroke-width="0.8" stroke-opacity="0.018"/>
<path d="M465.5 201.2L566.2 360.5" stroke="#d03030" stroke-width="0.8" stroke-opacity="0.027"/>
<path d="M465.5 201.2L567.5 390.0" stroke="#d03030" stroke-width="0.8" stroke-opacity="0.028"/>
<path d="M465.5 201.2L601.2 444.5" stroke="#8c8c8c" stroke-width="0.8" stroke-opacity="0.021"/>
<path d="M547.0 199.5L658.0 131.8" stroke="#d03030" stroke-width="0.8" stroke-opacity="0.036"/>
<path d="M547.0 199.5L561.2 130.8" stroke="#d03030" stroke-width="0.8" stroke-opacity="0.043"/>
<path d="M547.0 199.5L638.0 341.2" stroke="#d03030" stroke-width="0.8" stroke-opacity="0.105"/>
<path d="M547.0 199.5L645.5 369.2" stroke="#d03030" stroke-width="0.8" stroke-opacity="0.029"/>
<path d="M547.0 199.5L674.5 390.0" stroke="#d03030" stroke-width="0.8" stroke-opacity="0.068"/>
<path d="M547.0 199.5L698.2 526.2" stroke="#d03030" stroke-width="0.8" stroke-opacity="0.021"/>
<path d="M547.0 199.5L716.8 448.2" stroke="#8c8c8c" stroke-width="0.8" stroke-opacity="0.018"/>
<path d="M547.0 199.5L599.2 333.2" stroke="#2e8b2e" stroke-width="0.8" stroke-opacity="0.096"/>
<path d="M640.0 194.2L633.0 44.5" stroke="#d03030" stroke-width="0.8" stroke-opacity="0.025"/>
<path d="M640.0 194.2L658.0 131.8" stroke="#d03030" stroke-width="0.8" stroke-opacity="0.045"/>
<path d="M640.0 194.2L707.0 257.5" stroke="#d03030" stroke-width="0.8" stroke-opacity="0.115"/>
<path d="M640.0 194.2L644.5 308.0" stroke="#d03030" stroke-width="0.8" stroke-opacity="0.064"/>
<path d="M640.0 194.2L685.5 336.0" stroke="#d03030" stroke-width="0.8" stroke-opacity="0.044"/>
<path d="M640.0 194.2L693.8 357.5" stroke="#d03030" stroke-width="0.8" stroke-opacity="0.022"/>
<path d="M640.0 194.2L645.5 369.2" stroke="#d03030" stroke-width="0.8" stroke-opacity="0.114"/>
<path d="M640.0 194.2L674.5 390.0" stroke="#d03030" stroke-width="0.8" stroke-opacity="0.081"/>
<path d="M640.0 194.2L738.8 386.8" stroke="#d03030" stroke-width="0.8" stroke-opacity="0.029"/>
<path d="M640.0 194.2L567.5 390.0" stroke="#d03030" stroke-width="0.8" stroke-opacity="0.115"/>
<path d="M640.0 194.2L605.8 460.8" stroke="#d03030" stroke-width="0.8" stroke-opacity="0.016"/>
<path d="M640.0 194.2L652.0 474.5" stroke="#8c8c8c" stroke-width="0.8" stroke-opacity="0.063"/>
<path d="M640.0 194.2L716.8 448.2" stroke="#d03030" stroke-width="0.8" stroke-opacity="0.092"/>
<path d="M786.8 6.0L786.8 85.8" stroke="#d03030" stroke-width="0.8" stroke-opacity="0.054"/>
<path d="M786.8 6.0L745.5 12.5" stroke="#d03030" stroke-width="0.8" stroke-opacity="0.205"/>
<path d="M786.8 6.0L633.0 44.5" stroke="#d03030" stroke-width="0.8" stroke-opacity="0.034"/>
<path d="M786.8 6.0L595.5 516.2" stroke="#8c8c8c" stroke-width="0.8" stroke-opacity="0.005"/>
<path d="M786.8 85.8L676.8 253.0" stroke="#2e8b2e" stroke-width="0.8" stroke-opacity="0.019"/>
<path d="M786.8 85.8L693.8 357.5" stroke="#d03030" stroke-width="0.8" stroke-opacity="0.025"/>
<path d="M786.8 85.8L645.5 369.2" stroke="#8c8c8c" stroke-width="0.8" stroke-opacity="0.019"/>
<path d="M786.8 85.8L566.2 360.5" stroke="#d03030" stroke-width="0.8" stroke-opacity="0.013"/>
<path d="M786.8 85.8L639.5 500.0" stroke="#d03030" stroke-width="0.8" stroke-opacity="0.014"/>
<path d="M786.8 85.8L662.0 508.0" stroke="#8c8c8c" stroke-width="0.8" stroke-opacity="0.027"/>
<path d="M786.8 85.8L617.0 544.5" stroke="#8c8c8c" stroke-width="0.8" stroke-opacity="0.006"/>
<path d="M786.8 85.8L716.8 448.2" stroke="#8c8c8c" stroke-width="0.8" stroke-opacity="0.019"/>
<path d="M745.5 12.5L658.0 131.8" stroke="#d03030" stroke-width="0.8" stroke-opacity="0.030"/>
<path d="M745.5 12.5L561.2 130.8" stroke="#d03030" stroke-width="0.8" stroke-opacity="0.070"/>
<path d="M745.5 12.5L674.5 390.0" stroke="#d03030" stroke-width="0.8" stroke-opacity="0.018"/>
<path d="M745.5 12.5L738.8 386.8" stroke="#8c8c8c" stroke-width="0.8" stroke-opacity="0.021"/>
<path d="M633.0 44.5L707.0 257.5" stroke="#d03030" stroke-width="0.8" stroke-opacity="0.100"/>
<path d="M633.0 44.5L685.5 336.0" stroke="#d03030" stroke-width="0.8" stroke-opacity="0.074"/>
<path d="M633.0 44.5L674.5 390.0" stroke="#8c8c8c" stroke-width="0.8" stroke-opacity="0.040"/>
<path d="M633.0 44.5L617.0 544.5" stroke="#d03030" stroke-width="0.8" stroke-opacity="0.011"/>
<path d="M658.0 131.8L676.8 253.0" stroke="#d03030" stroke-width="0.8" stroke-opacity="0.034"/>
<path d="M658.0 131.8L674.5 390.0" stroke="#d03030" stroke-width="0.8" stroke-opacity="0.035"/>
<path d="M658.0 131.8L652.0 474.5" stroke="#d03030" stroke-width="0.8" stroke-opacity="0.012"/>
<path d="M561.2 130.8L638.0 341.2" stroke="#d03030" stroke-width="0.8" stroke-opacity="0.030"/>
<path d="M561.2 130.8L693.8 357.5" stroke="#d03030" stroke-width="0.8" stroke-opacity="0.049"/>
<path d="M561.2 130.8L567.5 390.0" stroke="#d03030" stroke-width="0.8" stroke-opacity="0.094"/>
<path d="M561.2 130.8L698.2 526.2" stroke="#d03030" stroke-width="0.8" stroke-opacity="0.015"/>
<path d="M561.2 130.8L599.2 333.2" stroke="#d03030" stroke-width="0.8" stroke-opacity="0.093"/>
<path d="M676.8 253.0L707.0 257.5" stroke="#d03030" stroke-width="0.8" stroke-opacity="0.088"/>
<path d="M676.8 253.0L638.0 341.2" stroke="#d03030" stroke-width="0.8" stroke-opacity="0.035"/>
<path d="M676.8 253.0L645.5 369.2" stroke="#d03030" stroke-width="0.8" stroke-opacity="0.034"/>
<path d="M676.8 253.0L682.0 412.0" stroke="#d03030" stroke-width="0.8" stroke-opacity="0.058"/>
<path d="M676.8 253.0L565.5 376.2" stroke="#d03030" stroke-width="0.8" stroke-opacity="0.071"/>
<path d="M676.8 253.0L567.5 390.0" stroke="#d03030" stroke-width="0.8" stroke-opacity="0.064"/>
<path d="M676.8 253.0L662.0 508.0" stroke="#d03030" stroke-width="0.8" stroke-opacity="0.015"/>
<path d="M707.0 257.5L644.5 308.0" stroke="#d03030" stroke-width="0.8" stroke-opacity="0.086"/>
<path d="M707.0 257.5L645.5 369.2" stroke="#d03030" stroke-width="0.8" stroke-opacity="0.134"/>
<path d="M707.0 257.5L676.2 408.5" stroke="#d03030" stroke-width="0.8" stroke-opacity="0.038"/>
<path d="M707.0 257.5L601.2 444.5" stroke="#d03030" stroke-width="0.8" stroke-opacity="0.080"/>
<path d="M707.0 257.5L639.5 500.0" stroke="#d03030" stroke-width="0.8" stroke-opacity="0.026"/>
<path d="M707.0 257.5L716.8 448.2" stroke="#d03030" stroke-width="0.8" stroke-opacity="0.031"/>
<path d="M707.0 257.5L599.2 333.2" stroke="#2e8b2e" stroke-width="0.8" stroke-opacity="0.088"/>
<path d="M644.5 308.0L685.5 336.0" stroke="#d03030" stroke-width="0.8" stroke-opacity="0.087"/>
<path d="M644.5 308.0L693.8 357.5" stroke="#d03030" stroke-width="0.8" stroke-opacity="0.103"/>
<path d="M644.5 308.0L682.0 412.0" stroke="#d03030" stroke-width="0.8" stroke-opacity="0.123"/>
<path d="M644.5 308.0L738.8 386.8" stroke="#d03030" stroke-width="0.8" stroke-opacity="0.041"/>
<path d="M644.5 308.0L566.2 360.5" stroke="#d03030" stroke-width="0.8" stroke-opacity="0.142"/>
<path d="M644.5 308.0L601.2 444.5" stroke="#d03030" stroke-width="0.8" stroke-opacity="0.057"/>
<path d="M644.5 308.0L605.8 460.8" stroke="#d03030" stroke-width="0.8" stroke-opacity="0.122"/>
<path d="M644.5 308.0L639.5 500.0" stroke="#d03030" stroke-width="0.8" stroke-opacity="0.064"/>
<path d="M644.5 308.0L662.0 508.0" stroke="#d03030" stroke-width="0.8" stroke-opacity="0.098"/>
<path d="M644.5 308.0L716.8 448.2" stroke="#d03030" stroke-width="0.8" stroke-opacity="0.042"/>
<path d="M638.0 341.2L693.8 357.5" stroke="#d03030" stroke-width="0.8" stroke-opacity="0.032"/>
<path d="M638.0 341.2L645.5 369.2" stroke="#d03030" stroke-width="0.8" stroke-opacity="0.370"/>
<path d="M638.0 341.2L674.5 390.0" stroke="#d03030" stroke-width="0.8" stroke-opacity="0.035"/>
<path d="M638.0 341.2L652.0 474.5" stroke="#d03030" stroke-width="0.8" stroke-opacity="0.113"/>
<path d="M638.0 341.2L595.5 516.2" stroke="#d03030" stroke-width="0.8" stroke-opacity="0.020"/>
<path d="M638.0 341.2L617.0 544.5" stroke="#d03030" stroke-width="0.8" stroke-opacity="0.051"/>
<path d="M685.5 336.0L645.5 369.2" stroke="#d03030" stroke-width="0.8" stroke-opacity="0.033"/>
<path d="M685.5 336.0L674.5 390.0" stroke="#d03030" stroke-width="0.8" stroke-opacity="0.134"/>
<path d="M685.5 336.0L676.2 408.5" stroke="#d03030" stroke-width="0.8" stroke-opacity="0.083"/>
<path d="M685.5 336.0L738.8 386.8" stroke="#d03030" stroke-width="0.8" stroke-opacity="0.407"/>
<path d="M685.5 336.0L605.8 460.8" stroke="#d03030" stroke-width="0.8" stroke-opacity="0.032"/>
<path d="M685.5 336.0L639.5 500.0" stroke="#d03030" stroke-width="0.8" stroke-opacity="0.114"/>
<path d="M685.5 336.0L595.5 516.2" stroke="#d03030" stroke-width="0.8" stroke-opacity="0.055"/>
<path d="M685.5 336.0L617.0 544.5" stroke="#d03030" stroke-width="0.8" stroke-opacity="0.018"/>
<path d="M685.5 336.0L716.8 448.2" stroke="#2e8b2e" stroke-width="0.8" stroke-opacity="0.061"/>
<path d="M685.5 336.0L650.0 568.8" stroke="#d03030" stroke-width="0.8" stroke-opacity="0.040"/>
<path d="M685.5 336.0L599.2 333.2" stroke="#2e8b2e" stroke-width="0.8" stroke-opacity="0.031"/>
<path d="M693.8 357.5L645.5 369.2" stroke="#d03030" stroke-width="0.8" stroke-opacity="0.054"/>
<path d="M693.8 357.5L682.0 412.0" stroke="#d03030" stroke-width="0.8" stroke-opacity="0.035"/>
<path d="M693.8 357.5L738.8 386.8" stroke="#d03030" stroke-width="0.8" stroke-opacity="0.130"/>
<path d="M693.8 357.5L565.5 376.2" stroke="#2e8b2e" stroke-width="0.8" stroke-opacity="0.050"/>
<path d="M693.8 357.5L605.8 460.8" stroke="#d03030" stroke-width="0.8" stroke-opacity="0.051"/>
<path d="M693.8 357.5L652.0 474.5" stroke="#2e8b2e" stroke-width="0.8" stroke-opacity="0.064"/>
<path d="M693.8 357.5L662.0 508.0" stroke="#d03030" stroke-width="0.8" stroke-opacity="0.128"/>
<path d="M693.8 357.5L698.2 526.2" stroke="#d03030" stroke-width="0.8" stroke-opacity="0.135"/>
<path d="M693.8 357.5L716.8 448.2" stroke="#d03030" stroke-width="0.8" stroke-opacity="0.165"/>
<path d="M693.8 357.5L586.8 604.8" stroke="#d03030" stroke-width="0.8" stroke-opacity="0.072"/>
<path d="M645.5 369.2L676.2 408.5" stroke="#d03030" stroke-width="0.8" stroke-opacity="0.153"/>
<path d="M645.5 369.2L682.0 412.0" stroke="#d03030" stroke-width="0.8" stroke-opacity="0.032"/>
<path d="M645.5 369.2L738.8 386.8" stroke="#d03030" stroke-width="0.8" stroke-opacity="0.061"/>
<path d="M645.5 369.2L566.2 360.5" stroke="#d03030" stroke-width="0.8" stroke-opacity="0.063"/>
<path d="M645.5 369.2L565.5 376.2" stroke="#d03030" stroke-width="0.8" stroke-opacity="0.046"/>
<path d="M645.5 369.2L601.2 444.5" stroke="#d03030" stroke-width="0.8" stroke-opacity="0.121"/>
<path d="M645.5 369.2L652.0 474.5" stroke="#d03030" stroke-width="0.8" stroke-opacity="0.068"/>
<path d="M645.5 369.2L639.5 500.0" stroke="#d03030" stroke-width="0.8" stroke-opacity="0.064"/>
<path d="M645.5 369.2L716.8 448.2" stroke="#d03030" stroke-width="0.8" stroke-opacity="0.172"/>
<path d="M645.5 369.2L650.0 568.8" stroke="#d03030" stroke-width="0.8" stroke-opacity="0.106"/>
<path d="M645.5 369.2L599.2 333.2" stroke="#2e8b2e" stroke-width="0.8" stroke-opacity="0.042"/>
<path d="M674.5 390.0L676.2 408.5" stroke="#d03030" stroke-width="0.8" stroke-opacity="0.045"/>
<path d="M674.5 390.0L682.0 412.0" stroke="#d03030" stroke-width="0.8" stroke-opacity="0.054"/>
<path d="M674.5 390.0L605.8 460.8" stroke="#d03030" stroke-width="0.8" stroke-opacity="0.030"/>
<path d="M674.5 390.0L652.0 474.5" stroke="#d03030" stroke-width="0.8" stroke-opacity="0.146"/>
<path d="M674.5 390.0L639.5 500.0" stroke="#d03030" stroke-width="0.8" stroke-opacity="0.026"/>
<path d="M674.5 390.0L595.5 516.2" stroke="#d03030" stroke-width="0.8" stroke-opacity="0.043"/>
<path d="M674.5 390.0L716.8 448.2" stroke="#d03030" stroke-width="0.8" stroke-opacity="0.032"/>
<path d="M674.5 390.0L650.0 568.8" stroke="#d03030" stroke-width="0.8" stroke-opacity="0.025"/>
<path d="M676.2 408.5L566.2 360.5" stroke="#d03030" stroke-width="0.8" stroke-opacity="0.069"/>
<path d="M676.2 408.5L601.2 444.5" stroke="#d03030" stroke-width="0.8" stroke-opacity="0.053"/>
<path d="M676.2 408.5L605.8 460.8" stroke="#d03030" stroke-width="0.8" stroke-opacity="0.113"/>
<path d="M676.2 408.5L595.5 516.2" stroke="#d03030" stroke-width="0.8" stroke-opacity="0.141"/>
<path d="M676.2 408.5L617.0 544.5" stroke="#d03030" stroke-width="0.8" stroke-opacity="0.039"/>
<path d="M676.2 408.5L698.2 526.2" stroke="#d03030" stroke-width="0.8" stroke-opacity="0.026"/>
<path d="M676.2 408.5L586.8 604.8" stroke="#d03030" stroke-width="0.8" stroke-opacity="0.065"/>
<path d="M682.0 412.0L738.8 386.8" stroke="#d03030" stroke-width="0.8" stroke-opacity="0.056"/>
<path d="M682.0 412.0L566.2 360.5" stroke="#2e8b2e" stroke-width="0.8" stroke-opacity="0.131"/>
<path d="M682.0 412.0L605.8 460.8" stroke="#d03030" stroke-width="0.8" stroke-opacity="0.156"/>
<path d="M682.0 412.0L662.0 508.0" stroke="#d03030" stroke-width="0.8" stroke-opacity="0.041"/>
<path d="M682.0 412.0L595.5 516.2" stroke="#d03030" stroke-width="0.8" stroke-opacity="0.024"/>
<path d="M682.0 412.0L650.0 568.8" stroke="#d03030" stroke-width="0.8" stroke-opacity="0.046"/>
<path d="M682.0 412.0L599.2 333.2" stroke="#2e8b2e" stroke-width="0.8" stroke-opacity="0.027"/>
<path d="M738.8 386.8L565.5 376.2" stroke="#d03030" stroke-width="0.8" stroke-opacity="0.110"/>
<path d="M738.8 386.8L601.2 444.5" stroke="#d03030" stroke-width="0.8" stroke-opacity="0.098"/>
<path d="M738.8 386.8L652.0 474.5" stroke="#d03030" stroke-width="0.8" stroke-opacity="0.027"/>
<path d="M738.8 386.8L662.0 508.0" stroke="#d03030" stroke-width="0.8" stroke-opacity="0.078"/>
<path d="M738.8 386.8L595.5 516.2" stroke="#d03030" stroke-width="0.8" stroke-opacity="0.104"/>
<path d="M738.8 386.8L698.2 526.2" stroke="#d03030" stroke-width="0.8" stroke-opacity="0.023"/>
<path d="M738.8 386.8L716.8 448.2" stroke="#d03030" stroke-width="0.8" stroke-opacity="0.180"/>
<path d="M566.2 360.5L565.5 376.2" stroke="#d03030" stroke-width="0.8" stroke-opacity="0.125"/>
<path d="M566.2 360.5L601.2 444.5" stroke="#d03030" stroke-width="0.8" stroke-opacity="0.367"/>
<path d="M566.2 360.5L698.2 526.2" stroke="#d03030" stroke-width="0.8" stroke-opacity="0.021"/>
<path d="M566.2 360.5L716.8 448.2" stroke="#d03030" stroke-width="0.8" stroke-opacity="0.101"/>
<path d="M566.2 360.5L650.0 568.8" stroke="#d03030" stroke-width="0.8" stroke-opacity="0.047"/>
<path d="M566.2 360.5L599.2 333.2" stroke="#2e8b2e" stroke-width="0.8" stroke-opacity="0.064"/>
<path d="M566.2 360.5L354.2 605.0" stroke="#d03030" stroke-width="0.8" stroke-opacity="0.027"/>
<path d="M565.5 376.2L652.0 474.5" stroke="#d03030" stroke-width="0.8" stroke-opacity="0.150"/>
<path d="M565.5 376.2L662.0 508.0" stroke="#d03030" stroke-width="0.8" stroke-opacity="0.086"/>
<path d="M565.5 376.2L617.0 544.5" stroke="#d03030" stroke-width="0.8" stroke-opacity="0.050"/>
<path d="M565.5 376.2L513.2 526.4" stroke="#d03030" stroke-width="0.8" stroke-opacity="0.050"/>
<path d="M565.5 376.2L650.0 568.8" stroke="#d03030" stroke-width="0.8" stroke-opacity="0.086"/>
<path d="M567.5 390.0L601.2 444.5" stroke="#d03030" stroke-width="0.8" stroke-opacity="0.052"/>
<path d="M567.5 390.0L595.5 516.2" stroke="#d03030" stroke-width="0.8" stroke-opacity="0.103"/>
<path d="M567.5 390.0L650.0 568.8" stroke="#d03030" stroke-width="0.8" stroke-opacity="0.071"/>
<path d="M567.5 390.0L599.2 333.2" stroke="#2e8b2e" stroke-width="0.8" stroke-opacity="0.046"/>
<path d="M601.2 444.5L605.8 460.8" stroke="#d03030" stroke-width="0.8" stroke-opacity="0.165"/>
<path d="M601.2 444.5L652.0 474.5" stroke="#d03030" stroke-width="0.8" stroke-opacity="0.050"/>
<path d="M601.2 444.5L662.0 508.0" stroke="#d03030" stroke-width="0.8" stroke-opacity="0.040"/>
<path d="M601.2 444.5L595.5 516.2" stroke="#d03030" stroke-width="0.8" stroke-opacity="0.058"/>
<path d="M601.2 444.5L617.0 544.5" stroke="#d03030" stroke-width="0.8" stroke-opacity="0.231"/>
<path d="M601.2 444.5L716.8 448.2" stroke="#d03030" stroke-width="0.8" stroke-opacity="0.039"/>
<path d="M601.2 444.5L513.2 526.4" stroke="#d03030" stroke-width="0.8" stroke-opacity="0.043"/>
<path d="M601.2 444.5L650.0 568.8" stroke="#d03030" stroke-width="0.8" stroke-opacity="0.054"/>
<path d="M605.8 460.8L652.0 474.5" stroke="#d03030" stroke-width="0.8" stroke-opacity="0.116"/>
<path d="M605.8 460.8L698.2 526.2" stroke="#d03030" stroke-width="0.8" stroke-opacity="0.150"/>
<path d="M605.8 460.8L513.2 526.4" stroke="#d03030" stroke-width="0.8" stroke-opacity="0.085"/>
<path d="M652.0 474.5L662.0 508.0" stroke="#d03030" stroke-width="0.8" stroke-opacity="0.041"/>
<path d="M652.0 474.5L617.0 544.5" stroke="#d03030" stroke-width="0.8" stroke-opacity="0.180"/>
<path d="M652.0 474.5L716.8 448.2" stroke="#d03030" stroke-width="0.8" stroke-opacity="0.163"/>
<path d="M639.5 500.0L662.0 508.0" stroke="#d03030" stroke-width="0.8" stroke-opacity="0.153"/>
<path d="M639.5 500.0L595.5 516.2" stroke="#d03030" stroke-width="0.8" stroke-opacity="0.183"/>
<path d="M639.5 500.0L698.2 526.2" stroke="#d03030" stroke-width="0.8" stroke-opacity="0.113"/>
<path d="M639.5 500.0L513.2 526.4" stroke="#d03030" stroke-width="0.8" stroke-opacity="0.106"/>
<path d="M639.5 500.0L586.8 604.8" stroke="#d03030" stroke-width="0.8" stroke-opacity="0.042"/>
<path d="M639.5 500.0L650.0 568.8" stroke="#d03030" stroke-width="0.8" stroke-opacity="0.035"/>
<path d="M639.5 500.0L599.2 333.2" stroke="#2e8b2e" stroke-width="0.8" stroke-opacity="0.028"/>
<path d="M662.0 508.0L586.8 604.8" stroke="#d03030" stroke-width="0.8" stroke-opacity="0.070"/>
<path d="M662.0 508.0L650.0 568.8" stroke="#d03030" stroke-width="0.8" stroke-opacity="0.110"/>
<path d="M595.5 516.2L617.0 544.5" stroke="#d03030" stroke-width="0.8" stroke-opacity="0.115"/>
<path d="M595.5 516.2L698.2 526.2" stroke="#d03030" stroke-width="0.8" stroke-opacity="0.316"/>
<path d="M595.5 516.2L599.2 333.2" stroke="#2e8b2e" stroke-width="0.8" stroke-opacity="0.087"/>
<path d="M617.0 544.5L716.8 448.2" stroke="#d03030" stroke-width="0.8" stroke-opacity="0.106"/>
<path d="M617.0 544.5L513.2 526.4" stroke="#d03030" stroke-width="0.8" stroke-opacity="0.084"/>
<path d="M617.0 544.5L586.8 604.8" stroke="#d03030" stroke-width="0.8" stroke-opacity="0.150"/>
<path d="M698.2 526.2L716.8 448.2" stroke="#d03030" stroke-width="0.8" stroke-opacity="0.038"/>
<path d="M698.2 526.2L513.2 526.4" stroke="#d03030" stroke-width="0.8" stroke-opacity="0.020"/>
<path d="M698.2 526.2L650.0 568.8" stroke="#d03030" stroke-width="0.8" stroke-opacity="0.039"/>
<path d="M716.8 448.2L599.2 333.2" stroke="#d03030" stroke-width="0.8" stroke-opacity="0.023"/>
<path d="M513.2 526.4L586.8 604.8" stroke="#d03030" stroke-width="0.8" stroke-opacity="0.033"/>
<path d="M586.8 604.8L354.2 605.0" stroke="#2e8b2e" stroke-width="0.8" stroke-opacity="0.026"/>
<path d="M599.2 333.2L354.2 605.0" stroke="#2e8b2e" stroke-width="0.8" stroke-opacity="0.038"/>
<path d="M69.5 295.8L92.0 289.2" stroke="#d62020" stroke-width="1" stroke-opacity="0.85"/>
<path d="M92.0 289.2L147.5 292.0" stroke="#d62020" stroke-width="1" stroke-opacity="0.8"/>
<path d="M69.5 295.8L73.2 342.5" stroke="#d62020" stroke-width="0.9" stroke-opacity="0.8"/>
<path d="M92.0 289.2L73.2 342.5" stroke="#d62020" stroke-width="1.1" stroke-opacity="0.85"/>
<path d="M92.0 289.2L82.0 342.5" stroke="#d62020" stroke-width="0.8" stroke-opacity="0.6"/>
<path d="M50.8 370.2L73.2 342.5" stroke="#d62020" stroke-width="1.2" stroke-opacity="0.85"/>
<path d="M38.8 387.8L50.8 370.2" stroke="#d62020" stroke-width="1.1" stroke-opacity="0.85"/>
<path d="M38.8 387.8L73.2 342.5" stroke="#d62020" stroke-width="0.7" stroke-opacity="0.5"/>
<path d="M71.5 415.0L109.2 368.8" stroke="#ff0010" stroke-width="2.2" stroke-opacity="1"/>
<path d="M50.8 370.2L71.5 415.0" stroke="#d62020" stroke-width="1.1" stroke-opacity="0.85"/>
<path d="M38.8 387.8L71.5 415.0" stroke="#d62020" stroke-width="0.7" stroke-opacity="0.6"/>
<path d="M69.5 295.8L50.8 370.2" stroke="#d62020" stroke-width="0.7" stroke-opacity="0.5"/>
<path d="M69.5 295.8L38.8 387.8" stroke="#d62020" stroke-width="0.5" stroke-opacity="0.35"/>
<path d="M38.8 356.0L109.2 368.8" stroke="#d62020" stroke-width="0.7" stroke-opacity="0.55"/>
<path d="M38.8 356.0L120.0 380.8" stroke="#d62020" stroke-width="0.6" stroke-opacity="0.5"/>
<path d="M194.5 385.8L213.0 367.5" stroke="#d62020" stroke-width="0.9" stroke-opacity="0.75"/>
<path d="M213.0 367.5L327.5 389.2" stroke="#d62020" stroke-width="0.9" stroke-opacity="0.8"/>
<path d="M73.2 342.5L109.2 368.8" stroke="#d62020" stroke-width="0.6" stroke-opacity="0.45"/>
<path d="M82.0 342.5L120.0 380.8" stroke="#d62020" stroke-width="0.6" stroke-opacity="0.5"/>
<path d="M82.0 380.8L120.0 380.8" stroke="#d62020" stroke-width="0.5" stroke-opacity="0.4"/>
<path d="M82.0 380.8L109.2 368.8" stroke="#d62020" stroke-width="0.5" stroke-opacity="0.4"/>
<path d="M71.5 415.0L120.0 380.8" stroke="#d62020" stroke-width="0.6" stroke-opacity="0.4"/>
<path d="M71.5 415.0L194.5 385.8" stroke="#d62020" stroke-width="0.6" stroke-opacity="0.4"/>
<path d="M50.8 370.2L109.2 368.8" stroke="#d62020" stroke-width="0.6" stroke-opacity="0.5"/>
<path d="M50.8 370.2L120.0 380.8" stroke="#d62020" stroke-width="0.5" stroke-opacity="0.4"/>
<path d="M38.8 387.8L120.0 380.8" stroke="#d62020" stroke-width="0.5" stroke-opacity="0.4"/>
<path d="M92.0 289.2L50.8 370.2" stroke="#d62020" stroke-width="0.8" stroke-opacity="0.6"/>
<path d="M73.2 342.5L82.0 380.8" stroke="#d62020" stroke-width="0.5" stroke-opacity="0.4"/>
<path d="M82.0 342.5L109.2 368.8" stroke="#d62020" stroke-width="0.5" stroke-opacity="0.4"/>
<path d="M71.5 415.0L82.0 380.8" stroke="#d62020" stroke-width="0.5" stroke-opacity="0.35"/>
<path d="M194.5 385.8L120.0 380.8" stroke="#d62020" stroke-width="0.6" stroke-opacity="0.35"/>
<path d="M194.5 385.8L109.2 368.8" stroke="#d62020" stroke-width="0.6" stroke-opacity="0.35"/>
<path d="M194.5 385.8L82.0 342.5" stroke="#d62020" stroke-width="0.6" stroke-opacity="0.3"/>
<path d="M194.5 385.8L38.8 387.8" stroke="#d62020" stroke-width="0.6" stroke-opacity="0.3"/>
<path d="M194.5 385.8L50.8 370.2" stroke="#d62020" stroke-width="0.6" stroke-opacity="0.3"/>
<path d="M147.5 292.0L190.0 329.0" stroke="#d62020" stroke-width="0.5" stroke-opacity="0.3"/>
<path d="M190.0 329.0L82.0 342.5" stroke="#d62020" stroke-width="0.5" stroke-opacity="0.3"/>
<path d="M92.0 289.2L191.8 235.2" stroke="#2e8b2e" stroke-width="0.9" stroke-opacity="0.8"/>
<path d="M119.5 361.5L248.8 335.5" stroke="#2e8b2e" stroke-width="0.8" stroke-opacity="0.7"/>
<path d="M69.5 295.8L191.8 235.2" stroke="#2e8b2e" stroke-width="0.5" stroke-opacity="0.5"/>
<path d="M147.5 292.0L256.2 263.0" stroke="#2e8b2e" stroke-width="0.7" stroke-opacity="0.4"/>
<path d="M190.0 329.0L256.2 263.0" stroke="#2e8b2e" stroke-width="0.6" stroke-opacity="0.35"/>
<path d="M190.0 329.0L243.2 306.5" stroke="#2e8b2e" stroke-width="0.6" stroke-opacity="0.3"/>
<path d="M190.0 329.0L281.5 295.0" stroke="#2e8b2e" stroke-width="0.6" stroke-opacity="0.3"/>
<path d="M191.8 235.2L243.2 306.5" stroke="#2e8b2e" stroke-width="0.5" stroke-opacity="0.3"/>
<path d="M147.5 292.0L191.8 235.2" stroke="#2e8b2e" stroke-width="0.5" stroke-opacity="0.3"/>
<path d="M294.5 222.5L357.5 243.8" stroke="#d62020" stroke-width="0.8" stroke-opacity="0.7"/>
<path d="M270.5 167.5L229.2 186.2" stroke="#ff0010" stroke-width="2.7" stroke-opacity="1"/>
<path d="M270.5 167.5L209.5 212.5" stroke="#ff0010" stroke-width="2.1" stroke-opacity="1"/>
<path d="M229.2 186.2L209.5 212.5" stroke="#ff0010" stroke-width="1.6" stroke-opacity="1"/>
<path d="M266.2 183.2L209.5 212.5" stroke="#d62020" stroke-width="0.9" stroke-opacity="0.8"/>
<path d="M209.5 212.5L191.8 235.2" stroke="#d62020" stroke-width="1" stroke-opacity="0.9"/>
<path d="M270.5 167.5L332.5 203.8" stroke="#d62020" stroke-width="0.8" stroke-opacity="0.7"/>
<path d="M266.2 183.2L301.8 257.5" stroke="#d62020" stroke-width="0.8" stroke-opacity="0.7"/>
<path d="M266.2 183.2L292.0 259.2" stroke="#d62020" stroke-width="0.6" stroke-opacity="0.5"/>
<path d="M328.0 216.8L367.0 208.8" stroke="#ff0010" stroke-width="2" stroke-opacity="1"/>
<path d="M243.2 306.5L322.5 260.5" stroke="#d62020" stroke-width="1.1" stroke-opacity="0.9"/>
<path d="M346.0 274.5L248.8 335.5" stroke="#0a7a0a" stroke-width="1.5" stroke-opacity="1"/>
<path d="M298.8 300.0L368.0 296.2" stroke="#e61010" stroke-width="1.3" stroke-opacity="0.95"/>
<path d="M332.5 265.5L462.5 248.0" stroke="#d62020" stroke-width="1.3" stroke-opacity="0.9"/>
<path d="M462.5 248.0L493.2 215.8" stroke="#ff0010" stroke-width="1.8" stroke-opacity="1"/>
<path d="M462.5 248.0L502.5 219.2" stroke="#ff0010" stroke-width="1.5" stroke-opacity="1"/>
<path d="M389.5 324.5L470.0 287.0" stroke="#e61010" stroke-width="1.3" stroke-opacity="1"/>
<path d="M332.5 265.5L470.0 287.0" stroke="#d62020" stroke-width="0.9" stroke-opacity="0.8"/>
<path d="M447.0 276.2L543.2 300.0" stroke="#d62020" stroke-width="0.9" stroke-opacity="0.8"/>
<path d="M500.8 277.5L483.0 313.8" stroke="#d62020" stroke-width="0.7" stroke-opacity="0.7"/>
<path d="M427.0 95.8L453.8 111.2" stroke="#d62020" stroke-width="0.6" stroke-opacity="0.7"/>
<path d="M453.8 111.2L454.5 204.5" stroke="#d62020" stroke-width="1.1" stroke-opacity="0.85"/>
<path d="M427.0 95.8L454.5 204.5" stroke="#d62020" stroke-width="0.7" stroke-opacity="0.7"/>
<path d="M427.0 95.8L455.5 220.0" stroke="#d62020" stroke-width="0.6" stroke-opacity="0.6"/>
<path d="M453.8 111.2L431.2 209.5" stroke="#d62020" stroke-width="0.6" stroke-opacity="0.7"/>
<path d="M465.5 201.2L547.0 199.5" stroke="#d62020" stroke-width="1.7" stroke-opacity="1"/>
<path d="M547.0 199.5L640.0 194.2" stroke="#d62020" stroke-width="1.3" stroke-opacity="0.95"/>
<path d="M512.5 211.8L528.6 245.1" stroke="#d62020" stroke-width="1.4" stroke-opacity="0.95"/>
<path d="M502.5 219.2L528.6 245.1" stroke="#d62020" stroke-width="1.4" stroke-opacity="0.95"/>
<path d="M470.0 287.0L493.2 215.8" stroke="#d62020" stroke-width="0.9" stroke-opacity="0.8"/>
<path d="M455.5 220.0L493.2 215.8" stroke="#2e8b2e" stroke-width="0.6" stroke-opacity="0.5"/>
<path d="M493.2 215.8L528.6 245.1" stroke="#d62020" stroke-width="0.6" stroke-opacity="0.5"/>
<path d="M528.6 245.1L570.5 303.2" stroke="#d62020" stroke-width="0.7" stroke-opacity="0.65"/>
<path d="M510.5 332.5L553.2 346.2" stroke="#0a7a0a" stroke-width="2.2" stroke-opacity="1"/>
<path d="M438.8 344.5L466.8 350.5" stroke="#d62020" stroke-width="0.8" stroke-opacity="0.75"/>
<path d="M438.8 344.5L553.2 346.2" stroke="#d62020" stroke-width="0.8" stroke-opacity="0.7"/>
<path d="M466.8 350.5L553.2 346.2" stroke="#d62020" stroke-width="0.8" stroke-opacity="0.7"/>
<path d="M466.8 350.5L354.2 605.0" stroke="#2e8b2e" stroke-width="0.7" stroke-opacity="0.6"/>
<path d="M327.5 389.2L466.8 350.5" stroke="#2e8b2e" stroke-width="0.9" stroke-opacity="0.75"/>
<path d="M327.5 389.2L438.8 344.5" stroke="#2e8b2e" stroke-width="0.8" stroke-opacity="0.6"/>
<path d="M345.0 310.5L389.5 324.5" stroke="#2e8b2e" stroke-width="1" stroke-opacity="0.85"/>
<path d="M264.5 327.5L389.5 324.5" stroke="#d62020" stroke-width="0.6" stroke-opacity="0.4"/>
<path d="M427.0 95.8L270.5 167.5" stroke="#d62020" stroke-width="0.8" stroke-opacity="0.7"/>
<path d="M427.0 95.8L266.2 183.2" stroke="#d62020" stroke-width="0.5" stroke-opacity="0.3"/>
<path d="M427.0 95.8L332.5 203.8" stroke="#d62020" stroke-width="0.5" stroke-opacity="0.4"/>
<path d="M270.5 167.5L367.0 208.8" stroke="#d62020" stroke-width="0.5" stroke-opacity="0.4"/>
<path d="M270.5 167.5L294.5 222.5" stroke="#d62020" stroke-width="0.6" stroke-opacity="0.5"/>
<path d="M266.2 183.2L280.0 230.5" stroke="#d62020" stroke-width="0.6" stroke-opacity="0.5"/>
<path d="M294.5 222.5L292.0 259.2" stroke="#d62020" stroke-width="0.6" stroke-opacity="0.5"/>
<path d="M280.0 230.5L292.0 259.2" stroke="#d62020" stroke-width="0.6" stroke-opacity="0.5"/>
<path d="M294.5 222.5L328.0 216.8" stroke="#d62020" stroke-width="0.5" stroke-opacity="0.4"/>
<path d="M280.0 230.5L256.2 263.0" stroke="#d62020" stroke-width="0.5" stroke-opacity="0.4"/>
<path d="M332.5 203.8L431.2 209.5" stroke="#d62020" stroke-width="0.6" stroke-opacity="0.45"/>
<path d="M367.0 208.8L431.2 209.5" stroke="#d62020" stroke-width="0.8" stroke-opacity="0.65"/>
<path d="M328.0 216.8L357.5 243.8" stroke="#d62020" stroke-width="0.7" stroke-opacity="0.6"/>
<path d="M357.5 243.8L436.2 235.5" stroke="#d62020" stroke-width="0.7" stroke-opacity="0.5"/>
<path d="M358.8 253.8L432.5 247.5" stroke="#d62020" stroke-width="0.7" stroke-opacity="0.5"/>
<path d="M372.5 250.5L440.8 255.0" stroke="#d62020" stroke-width="0.7" stroke-opacity="0.5"/>
<path d="M256.2 263.0L322.5 260.5" stroke="#d62020" stroke-width="0.6" stroke-opacity="0.5"/>
<path d="M256.2 263.0L357.5 243.8" stroke="#d62020" stroke-width="0.6" stroke-opacity="0.45"/>
<path d="M292.0 259.2L357.5 243.8" stroke="#d62020" stroke-width="0.6" stroke-opacity="0.5"/>
<path d="M301.8 257.5L358.8 253.8" stroke="#d62020" stroke-width="0.6" stroke-opacity="0.5"/>
<path d="M279.5 268.0L298.8 300.0" stroke="#d62020" stroke-width="0.6" stroke-opacity="0.5"/>
<path d="M288.8 274.2L299.5 285.8" stroke="#d62020" stroke-width="0.6" stroke-opacity="0.5"/>
<path d="M281.5 295.0L299.5 285.8" stroke="#d62020" stroke-width="0.6" stroke-opacity="0.5"/>
<path d="M281.5 295.0L292.0 259.2" stroke="#d62020" stroke-width="0.6" stroke-opacity="0.5"/>
<path d="M298.8 300.0L345.0 310.5" stroke="#d62020" stroke-width="0.6" stroke-opacity="0.5"/>
<path d="M368.0 296.2L389.5 324.5" stroke="#d62020" stroke-width="0.6" stroke-opacity="0.5"/>
<path d="M368.0 296.2L447.0 276.2" stroke="#d62020" stroke-width="0.7" stroke-opacity="0.5"/>
<path d="M346.0 274.5L447.0 276.2" stroke="#d62020" stroke-width="0.7" stroke-opacity="0.55"/>
<path d="M346.0 274.5L368.0 296.2" stroke="#d62020" stroke-width="0.5" stroke-opacity="0.4"/>
<path d="M332.5 265.5L357.5 243.8" stroke="#d62020" stroke-width="0.6" stroke-opacity="0.5"/>
<path d="M281.5 295.0L264.5 327.5" stroke="#d62020" stroke-width="0.6" stroke-opacity="0.5"/>
<path d="M298.8 300.0L264.5 327.5" stroke="#d62020" stroke-width="0.6" stroke-opacity="0.5"/>
<path d="M345.0 310.5L470.0 287.0" stroke="#d62020" stroke-width="0.6" stroke-opacity="0.4"/>
<path d="M335.0 313.5L459.0 283.0" stroke="#d62020" stroke-width="0.6" stroke-opacity="0.4"/>
<path d="M389.5 324.5L447.0 276.2" stroke="#d62020" stroke-width="0.6" stroke-opacity="0.5"/>
<path d="M410.0 330.5L483.0 313.8" stroke="#d62020" stroke-width="0.6" stroke-opacity="0.5"/>
<path d="M438.8 344.5L483.0 313.8" stroke="#d62020" stroke-width="0.6" stroke-opacity="0.5"/>
<path d="M466.8 350.5L483.0 313.8" stroke="#d62020" stroke-width="0.6" stroke-opacity="0.5"/>
<path d="M483.0 313.8L510.5 332.5" stroke="#d62020" stroke-width="0.6" stroke-opacity="0.5"/>
<path d="M500.8 277.5L470.0 287.0" stroke="#d62020" stroke-width="0.6" stroke-opacity="0.5"/>
<path d="M500.8 277.5L462.5 248.0" stroke="#d62020" stroke-width="0.6" stroke-opacity="0.5"/>
<path d="M500.8 277.5L502.5 219.2" stroke="#d62020" stroke-width="0.9" stroke-opacity="0.8"/>
<path d="M447.0 276.2L462.5 248.0" stroke="#d62020" stroke-width="0.6" stroke-opacity="0.5"/>
<path d="M470.0 287.0L462.5 248.0" stroke="#d62020" stroke-width="0.7" stroke-opacity="0.6"/>
<path d="M436.2 235.5L431.2 209.5" stroke="#d62020" stroke-width="0.6" stroke-opacity="0.5"/>
<path d="M432.5 247.5L447.0 276.2" stroke="#d62020" stroke-width="0.6" stroke-opacity="0.5"/>
<path d="M431.2 209.5L465.5 201.2" stroke="#d62020" stroke-width="0.6" stroke-opacity="0.5"/>
<path d="M462.5 248.0L465.5 201.2" stroke="#d62020" stroke-width="0.6" stroke-opacity="0.5"/>
<path d="M462.5 248.0L528.6 245.1" stroke="#d62020" stroke-width="0.8" stroke-opacity="0.6"/>
<path d="M502.5 219.2L543.2 300.0" stroke="#2e8b2e" stroke-width="0.6" stroke-opacity="0.5"/>
<path d="M500.8 277.5L528.6 245.1" stroke="#d62020" stroke-width="0.6" stroke-opacity="0.5"/>
<path d="M528.6 245.1L553.2 346.2" stroke="#d62020" stroke-width="0.5" stroke-opacity="0.35"/>
<path d="M410.0 330.5L438.8 344.5" stroke="#2e8b2e" stroke-width="1" stroke-opacity="0.8"/>
<path d="M389.5 324.5L410.0 330.5" stroke="#2e8b2e" stroke-width="1" stroke-opacity="0.8"/>
<path d="M510.5 332.5L638.8 429.5" stroke="#2e8b2e" stroke-width="0.7" stroke-opacity="0.7"/>
<path d="M510.5 332.5L593.0 378.0" stroke="#2e8b2e" stroke-width="0.6" stroke-opacity="0.6"/>
<path d="M466.8 350.5L639.2 372.5" stroke="#2e8b2e" stroke-width="0.6" stroke-opacity="0.5"/>
<path d="M553.2 346.2L639.2 372.5" stroke="#2e8b2e" stroke-width="0.5" stroke-opacity="0.4"/>
<path d="M343.0 335.0L335.0 313.5" stroke="#2e8b2e" stroke-width="0.6" stroke-opacity="0.6"/>
<path d="M264.5 327.5L327.5 389.2" stroke="#2e8b2e" stroke-width="0.5" stroke-opacity="0.35"/>
<path d="M248.8 335.5L343.0 335.0" stroke="#2e8b2e" stroke-width="0.5" stroke-opacity="0.3"/>
<path d="M213.0 367.5L248.8 335.5" stroke="#2e8b2e" stroke-width="0.5" stroke-opacity="0.4"/>
<path d="M213.0 367.5L264.5 327.5" stroke="#2e8b2e" stroke-width="0.5" stroke-opacity="0.35"/>
<path d="M570.5 303.2L599.2 333.2" stroke="#2e8b2e" stroke-width="0.5" stroke-opacity="0.4"/>
<path d="M570.5 303.2L593.0 378.0" stroke="#2e8b2e" stroke-width="0.6" stroke-opacity="0.45"/>
<path d="M570.5 303.2L652.0 474.5" stroke="#2e8b2e" stroke-width="0.5" stroke-opacity="0.3"/>
<path d="M553.2 346.2L566.2 360.5" stroke="#d62020" stroke-width="0.8" stroke-opacity="0.7"/>
<path d="M553.2 346.2L593.0 378.0" stroke="#d62020" stroke-width="0.8" stroke-opacity="0.7"/>
<path d="M553.2 346.2L565.5 376.2" stroke="#d62020" stroke-width="0.6" stroke-opacity="0.5"/>
<path d="M593.0 378.0L645.5 369.2" stroke="#ff0010" stroke-width="1.8" stroke-opacity="1"/>
<path d="M593.0 378.0L638.8 429.5" stroke="#ff0010" stroke-width="3" stroke-opacity="1"/>
<path d="M639.2 372.5L674.5 390.0" stroke="#0a7a0a" stroke-width="2.2" stroke-opacity="1"/>
<path d="M644.5 308.0L738.8 386.8" stroke="#d62020" stroke-width="1.5" stroke-opacity="0.95"/>
<path d="M685.5 336.0L738.8 386.8" stroke="#d62020" stroke-width="1.2" stroke-opacity="0.9"/>
<path d="M693.8 357.5L738.8 386.8" stroke="#d62020" stroke-width="1.3" stroke-opacity="0.95"/>
<path d="M707.0 257.5L693.8 357.5" stroke="#d62020" stroke-width="1.1" stroke-opacity="0.9"/>
<path d="M693.8 357.5L674.5 390.0" stroke="#d62020" stroke-width="0.9" stroke-opacity="0.8"/>
<path d="M674.5 390.0L676.2 408.5" stroke="#d62020" stroke-width="0.9" stroke-opacity="0.8"/>
<path d="M738.8 386.8L698.2 526.2" stroke="#d62020" stroke-width="1.1" stroke-opacity="0.9"/>
<path d="M638.0 341.2L685.5 336.0" stroke="#d62020" stroke-width="0.6" stroke-opacity="0.6"/>
<path d="M645.5 369.2L685.5 336.0" stroke="#d62020" stroke-width="0.6" stroke-opacity="0.6"/>
<path d="M593.0 378.0L567.5 390.0" stroke="#d62020" stroke-width="0.9" stroke-opacity="0.8"/>
<path d="M566.2 360.5L593.0 378.0" stroke="#d62020" stroke-width="0.8" stroke-opacity="0.7"/>
<path d="M786.8 6.0L786.8 85.8" stroke="#ff0010" stroke-width="6.5" stroke-opacity="1"/>
<path d="M745.5 12.5L633.0 44.5" stroke="#d62020" stroke-width="1.5" stroke-opacity="1"/>
<path d="M745.5 12.5L658.0 131.8" stroke="#d62020" stroke-width="1.6" stroke-opacity="1"/>
<path d="M633.0 44.5L561.2 130.8" stroke="#ff0010" stroke-width="2.6" stroke-opacity="1"/>
<path d="M561.2 130.8L658.0 131.8" stroke="#ff0010" stroke-width="1.9" stroke-opacity="1"/>
<path d="M633.0 44.5L658.0 131.8" stroke="#d62020" stroke-width="0.6" stroke-opacity="0.7"/>
<path d="M745.5 12.5L786.8 85.8" stroke="#d62020" stroke-width="0.7" stroke-opacity="0.8"/>
<path d="M707.0 257.5L786.8 85.8" stroke="#d62020" stroke-width="0.6" stroke-opacity="0.7"/>
<path d="M676.8 253.0L707.0 257.5" stroke="#d62020" stroke-width="1" stroke-opacity="0.9"/>
<path d="M640.0 194.2L676.8 253.0" stroke="#d62020" stroke-width="0.6" stroke-opacity="0.45"/>
<path d="M640.0 194.2L644.5 308.0" stroke="#d62020" stroke-width="0.6" stroke-opacity="0.45"/>
<path d="M658.0 131.8L698.2 232.2" stroke="#2e8b2e" stroke-width="0.6" stroke-opacity="0.6"/>
<path d="M698.2 232.2L652.0 474.5" stroke="#2e8b2e" stroke-width="0.6" stroke-opacity="0.55"/>
<path d="M605.8 460.8L595.5 516.2" stroke="#ff0010" stroke-width="1.5" stroke-opacity="1"/>
<path d="M601.2 444.5L595.5 516.2" stroke="#d62020" stroke-width="0.6" stroke-opacity="0.6"/>
<path d="M652.0 474.5L676.2 408.5" stroke="#d62020" stroke-width="1" stroke-opacity="0.9"/>
<path d="M652.0 474.5L682.0 412.0" stroke="#d62020" stroke-width="1" stroke-opacity="0.9"/>
<path d="M652.0 474.5L716.8 448.2" stroke="#d62020" stroke-width="0.6" stroke-opacity="0.7"/>
<path d="M652.0 474.5L639.5 500.0" stroke="#d62020" stroke-width="0.9" stroke-opacity="0.85"/>
<path d="M617.0 544.5L698.2 526.2" stroke="#d62020" stroke-width="0.8" stroke-opacity="0.8"/>
<path d="M601.2 444.5L698.2 526.2" stroke="#d62020" stroke-width="0.8" stroke-opacity="0.75"/>
<path d="M567.5 390.0L652.0 474.5" stroke="#d62020" stroke-width="0.7" stroke-opacity="0.7"/>
<path d="M638.8 429.5L652.0 474.5" stroke="#2e8b2e" stroke-width="0.6" stroke-opacity="0.6"/>
<path d="M513.2 526.4L586.8 604.8" stroke="#e61010" stroke-width="1.7" stroke-opacity="1"/>
<path d="M327.5 389.2L354.2 605.0" stroke="#2e8b2e" stroke-width="0.6" stroke-opacity="0.3"/>
<path d="M71.5 415.0L354.2 605.0" stroke="#999" stroke-width="0.6" stroke-opacity="0.25"/>
<path d="M354.2 605.0L194.5 385.8" stroke="#999" stroke-width="0.5" stroke-opacity="0.15"/>
<path d="M354.2 605.0L513.2 526.4" stroke="#999" stroke-width="0.5" stroke-opacity="0.15"/>
<path d="M354.2 605.0L567.5 390.0" stroke="#999" stroke-width="0.5" stroke-opacity="0.12"/>
<path d="M617.0 544.5L650.0 568.8" stroke="#d62020" stroke-width="1.2" stroke-opacity="0.95"/>
<path d="M586.8 604.8L617.0 544.5" stroke="#d62020" stroke-width="0.6" stroke-opacity="0.7"/>
<path d="M513.2 526.4L617.0 544.5" stroke="#d62020" stroke-width="0.6" stroke-opacity="0.6"/>
<path d="M639.5 500.0L650.0 568.8" stroke="#d62020" stroke-width="0.7" stroke-opacity="0.75"/>
<path d="M650.0 568.8L662.0 508.0" stroke="#d62020" stroke-width="0.6" stroke-opacity="0.6"/>
<path d="M617.0 544.5L662.0 508.0" stroke="#d62020" stroke-width="0.6" stroke-opacity="0.7"/>
<path d="M617.0 544.5L639.5 500.0" stroke="#d62020" stroke-width="0.7" stroke-opacity="0.7"/>
<path d="M662.0 508.0L698.2 526.2" stroke="#d62020" stroke-width="0.6" stroke-opacity="0.7"/>
<path d="M567.5 390.0L601.2 444.5" stroke="#d62020" stroke-width="0.6" stroke-opacity="0.6"/>
<path d="M566.2 360.5L601.2 444.5" stroke="#d62020" stroke-width="0.5" stroke-opacity="0.4"/>
<path d="M565.5 376.2L593.0 378.0" stroke="#d62020" stroke-width="0.7" stroke-opacity="0.7"/>
<path d="M567.5 390.0L605.8 460.8" stroke="#d62020" stroke-width="0.5" stroke-opacity="0.4"/>
<path d="M605.8 460.8L617.0 544.5" stroke="#d62020" stroke-width="0.5" stroke-opacity="0.4"/>
<path d="M676.8 253.0L644.5 308.0" stroke="#d62020" stroke-width="0.6" stroke-opacity="0.45"/>
<path d="M676.8 253.0L638.0 341.2" stroke="#d62020" stroke-width="0.6" stroke-opacity="0.4"/>
<path d="M676.8 253.0L645.5 369.2" stroke="#d62020" stroke-width="0.6" stroke-opacity="0.4"/>
<path d="M707.0 257.5L638.0 341.2" stroke="#d62020" stroke-width="0.5" stroke-opacity="0.4"/>
<path d="M707.0 257.5L674.5 390.0" stroke="#d62020" stroke-width="0.6" stroke-opacity="0.5"/>
<path d="M644.5 308.0L638.0 341.2" stroke="#d62020" stroke-width="0.5" stroke-opacity="0.4"/>
<path d="M644.5 308.0L645.5 369.2" stroke="#d62020" stroke-width="0.5" stroke-opacity="0.4"/>
<path d="M645.5 369.2L674.5 390.0" stroke="#d62020" stroke-width="0.6" stroke-opacity="0.5"/>
<path d="M638.0 341.2L645.5 369.2" stroke="#d62020" stroke-width="0.6" stroke-opacity="0.5"/>
<path d="M645.5 369.2L676.2 408.5" stroke="#d62020" stroke-width="0.6" stroke-opacity="0.5"/>
<path d="M682.0 412.0L738.8 386.8" stroke="#d62020" stroke-width="0.6" stroke-opacity="0.5"/>
<path d="M676.2 408.5L738.8 386.8" stroke="#d62020" stroke-width="0.6" stroke-opacity="0.5"/>
<path d="M674.5 390.0L738.8 386.8" stroke="#d62020" stroke-width="0.6" stroke-opacity="0.5"/>
<path d="M716.8 448.2L682.0 412.0" stroke="#2e8b2e" stroke-width="0.5" stroke-opacity="0.4"/>
<path d="M716.8 448.2L738.8 386.8" stroke="#d62020" stroke-width="0.5" stroke-opacity="0.35"/>
<path d="M639.2 372.5L652.0 474.5" stroke="#2e8b2e" stroke-width="0.6" stroke-opacity="0.5"/>
<path d="M639.2 372.5L638.8 429.5" stroke="#d62020" stroke-width="0.5" stroke-opacity="0.4"/>
<path d="M645.5 369.2L601.2 444.5" stroke="#d62020" stroke-width="0.5" stroke-opacity="0.4"/>
<path d="M593.0 378.0L652.0 474.5" stroke="#d62020" stroke-width="0.6" stroke-opacity="0.5"/>
<path d="M601.2 444.5L652.0 474.5" stroke="#d62020" stroke-width="0.6" stroke-opacity="0.5"/>
<path d="M639.5 500.0L676.2 408.5" stroke="#d62020" stroke-width="0.6" stroke-opacity="0.5"/>
<path d="M662.0 508.0L682.0 412.0" stroke="#d62020" stroke-width="0.6" stroke-opacity="0.5"/>
<path d="M662.0 508.0L652.0 474.5" stroke="#d62020" stroke-width="0.6" stroke-opacity="0.5"/>
<path d="M595.5 516.2L617.0 544.5" stroke="#d62020" stroke-width="0.5" stroke-opacity="0.3"/>
<path d="M513.2 526.4L698.2 526.2" stroke="#d62020" stroke-width="0.5" stroke-opacity="0.3"/>
<path d="M513.2 526.4L595.5 516.2" stroke="#d62020" stroke-width="0.5" stroke-opacity="0.2"/>
<path d="M547.0 199.5L676.8 253.0" stroke="#d62020" stroke-width="0.5" stroke-opacity="0.3"/>
<path d="M465.5 201.2L528.6 245.1" stroke="#d62020" stroke-width="0.5" stroke-opacity="0.3"/>
<path d="M547.0 199.5L528.6 245.1" stroke="#d62020" stroke-width="0.5" stroke-opacity="0.3"/>
<path d="M561.2 130.8L547.0 199.5" stroke="#888" stroke-width="0.5" stroke-opacity="0.15"/>
<path d="M658.0 131.8L640.0 194.2" stroke="#888" stroke-width="0.5" stroke-opacity="0.2"/>
<path d="M658.0 131.8L676.8 253.0" stroke="#d62020" stroke-width="0.5" stroke-opacity="0.3"/>
<path d="M633.0 44.5L465.5 201.2" stroke="#888" stroke-width="0.5" stroke-opacity="0.15"/>
<path d="M745.5 12.5L547.0 199.5" stroke="#d62020" stroke-width="0.5" stroke-opacity="0.25"/>
<path d="M745.5 12.5L698.2 232.2" stroke="#2e8b2e" stroke-width="0.5" stroke-opacity="0.25"/>
</g>
<circle cx="69.5" cy="295.75" r="6" fill="#4363d8"/>
<circle cx="92" cy="289.25" r="6.5" fill="#4363d8"/>
<circle cx="147.5" cy="292" r="5.5" fill="#4363d8"/>
<circle cx="190" cy="329" r="6.5" fill="#4363d8"/>
<circle cx="73.25" cy="342.5" r="6.5" fill="#4363d8"/>
<circle cx="82" cy="342.5" r="5.5" fill="#4363d8"/>
<circle cx="38.75" cy="356" r="5" fill="#4363d8"/>
<circle cx="50.75" cy="370.25" r="5.5" fill="#4363d8"/>
<circle cx="119.5" cy="361.5" r="5.5" fill="#4363d8"/>
<circle cx="109.25" cy="368.75" r="5.5" fill="#4363d8"/>
<circle cx="120" cy="380.75" r="6.5" fill="#4363d8"/>
<circle cx="82" cy="380.75" r="6" fill="#4363d8"/>
<circle cx="38.75" cy="387.75" r="6" fill="#4363d8"/>
<circle cx="71.5" cy="415" r="6.5" fill="#4363d8"/>
<circle cx="194.5" cy="385.75" r="6.5" fill="#4363d8"/>
<circle cx="213" cy="367.5" r="6" fill="#4363d8"/>
<circle cx="218" cy="373" r="5" fill="#4363d8"/>
<circle cx="327.5" cy="389.25" r="6" fill="#4363d8"/>
<circle cx="270.5" cy="167.5" r="6.5" fill="#3cb44b"/>
<circle cx="266.25" cy="183.25" r="6" fill="#3cb44b"/>
<circle cx="229.25" cy="186.25" r="6" fill="#3cb44b"/>
<circle cx="209.5" cy="212.5" r="6" fill="#3cb44b"/>
<circle cx="191.75" cy="235.25" r="6" fill="#3cb44b"/>
<circle cx="294.5" cy="222.5" r="6" fill="#3cb44b"/>
<circle cx="280" cy="230.5" r="6" fill="#3cb44b"/>
<circle cx="332.5" cy="203.75" r="6.5" fill="#3cb44b"/>
<circle cx="328" cy="216.75" r="6" fill="#3cb44b"/>
<circle cx="367" cy="208.75" r="6.5" fill="#3cb44b"/>
<circle cx="256.25" cy="263" r="6" fill="#3cb44b"/>
<circle cx="262" cy="271.75" r="5.5" fill="#3cb44b"/>
<circle cx="279.5" cy="268" r="5.5" fill="#3cb44b"/>
<circle cx="292" cy="259.25" r="6.5" fill="#3cb44b"/>
<circle cx="301.75" cy="257.5" r="5.5" fill="#3cb44b"/>
<circle cx="288.75" cy="274.25" r="5.5" fill="#3cb44b"/>
<circle cx="322.5" cy="260.5" r="5.5" fill="#3cb44b"/>
<circle cx="332.5" cy="265.5" r="6" fill="#3cb44b"/>
<circle cx="299.5" cy="285.75" r="6" fill="#3cb44b"/>
<circle cx="281.5" cy="295" r="6" fill="#3cb44b"/>
<circle cx="298.75" cy="300" r="6.5" fill="#3cb44b"/>
<circle cx="243.25" cy="306.5" r="5" fill="#3cb44b"/>
<circle cx="357.5" cy="243.75" r="8" fill="#3cb44b"/>
<circle cx="358.75" cy="253.75" r="6.5" fill="#3cb44b"/>
<circle cx="372.5" cy="250.5" r="5.5" fill="#3cb44b"/>
<circle cx="368" cy="296.25" r="5.5" fill="#3cb44b"/>
<circle cx="345" cy="310.5" r="5.5" fill="#3cb44b"/>
<circle cx="264.5" cy="327.5" r="6" fill="#3cb44b"/>
<circle cx="343" cy="335" r="5.5" fill="#3cb44b"/>
<circle cx="389.5" cy="324.5" r="6" fill="#3cb44b"/>
<circle cx="410" cy="330.5" r="6" fill="#3cb44b"/>
<circle cx="431.25" cy="209.5" r="6.5" fill="#3cb44b"/>
<circle cx="454.5" cy="204.5" r="6" fill="#3cb44b"/>
<circle cx="455.5" cy="220" r="4.5" fill="#3cb44b"/>
<circle cx="436.25" cy="235.5" r="6" fill="#3cb44b"/>
<circle cx="447.5" cy="242" r="5.5" fill="#3cb44b"/>
<circle cx="432.5" cy="247.5" r="6" fill="#3cb44b"/>
<circle cx="462.5" cy="248" r="6.5" fill="#3cb44b"/>
<circle cx="451.75" cy="282.5" r="4.5" fill="#3cb44b"/>
<circle cx="459" cy="283" r="5" fill="#3cb44b"/>
<circle cx="470" cy="287" r="5.5" fill="#3cb44b"/>
<circle cx="493.25" cy="215.75" r="5.5" fill="#3cb44b"/>
<circle cx="512.5" cy="211.75" r="6.5" fill="#3cb44b"/>
<circle cx="528.6" cy="245.1" r="6.5" fill="#3cb44b"/>
<circle cx="427" cy="95.75" r="5" fill="#3cb44b"/>
<circle cx="453.75" cy="111.25" r="5.5" fill="#3cb44b"/>
<circle cx="510.5" cy="332.5" r="5.5" fill="#3cb44b"/>
<circle cx="543.25" cy="300" r="4.5" fill="#3cb44b"/>
<circle cx="570.5" cy="303.25" r="5.5" fill="#3cb44b"/>
<circle cx="248.75" cy="335.5" r="6.5" fill="#f032e6"/>
<circle cx="335" cy="313.5" r="6" fill="#f032e6"/>
<circle cx="440.75" cy="255" r="6" fill="#f032e6"/>
<circle cx="447" cy="276.25" r="6" fill="#f032e6"/>
<circle cx="500.75" cy="277.5" r="6" fill="#f032e6"/>
<circle cx="483" cy="313.75" r="6" fill="#f032e6"/>
<circle cx="502.5" cy="219.25" r="5.5" fill="#f032e6"/>
<circle cx="438.75" cy="344.5" r="6.5" fill="#f032e6"/>
<circle cx="466.75" cy="350.5" r="7" fill="#f032e6"/>
<circle cx="553.25" cy="346.25" r="7.5" fill="#f032e6"/>
<circle cx="593" cy="378" r="6.5" fill="#f032e6"/>
<circle cx="639.25" cy="372.5" r="6" fill="#f032e6"/>
<circle cx="638.75" cy="429.5" r="5" fill="#f032e6"/>
<circle cx="698.25" cy="232.25" r="3.5" fill="#f032e6"/>
<circle cx="346" cy="274.5" r="5" fill="#e6194b"/>
<circle cx="465.5" cy="201.25" r="5.5" fill="#e6194b"/>
<circle cx="547" cy="199.5" r="5.5" fill="#e6194b"/>
<circle cx="640" cy="194.25" r="5.5" fill="#e6194b"/>
<circle cx="786.75" cy="6" r="4" fill="#e6194b"/>
<circle cx="786.75" cy="85.75" r="5" fill="#e6194b"/>
<circle cx="745.5" cy="12.5" r="5.5" fill="#e6194b"/>
<circle cx="633" cy="44.5" r="5.5" fill="#e6194b"/>
<circle cx="658" cy="131.75" r="5.5" fill="#e6194b"/>
<circle cx="561.25" cy="130.75" r="5.5" fill="#e6194b"/>
<circle cx="676.75" cy="253" r="5.5" fill="#e6194b"/>
<circle cx="707" cy="257.5" r="5.5" fill="#e6194b"/>
<circle cx="644.5" cy="308" r="5.5" fill="#e6194b"/>
<circle cx="638" cy="341.25" r="5.5" fill="#e6194b"/>
<circle cx="685.5" cy="336" r="5.5" fill="#e6194b"/>
<circle cx="693.75" cy="357.5" r="6" fill="#e6194b"/>
<circle cx="645.5" cy="369.25" r="6" fill="#e6194b"/>
<circle cx="674.5" cy="390" r="5.5" fill="#e6194b"/>
<circle cx="676.25" cy="408.5" r="5.5" fill="#e6194b"/>
<circle cx="682" cy="412" r="5" fill="#e6194b"/>
<circle cx="738.75" cy="386.75" r="6.5" fill="#e6194b"/>
<circle cx="566.25" cy="360.5" r="6" fill="#e6194b"/>
<circle cx="565.5" cy="376.25" r="5" fill="#e6194b"/>
<circle cx="567.5" cy="390" r="5.5" fill="#e6194b"/>
<circle cx="601.25" cy="444.5" r="6" fill="#e6194b"/>
<circle cx="605.75" cy="460.75" r="4.5" fill="#e6194b"/>
<circle cx="652" cy="474.5" r="5.5" fill="#e6194b"/>
<circle cx="639.5" cy="500" r="5.5" fill="#e6194b"/>
<circle cx="662" cy="508" r="6.5" fill="#e6194b"/>
<circle cx="595.5" cy="516.25" r="5" fill="#e6194b"/>
<circle cx="617" cy="544.5" r="5.5" fill="#e6194b"/>
<circle cx="698.25" cy="526.25" r="5.5" fill="#e6194b"/>
<circle cx="716.75" cy="448.25" r="4.5" fill="#e6194b"/>
<circle cx="513.2" cy="526.4" r="4.5" fill="#e6194b"/>
<circle cx="586.8" cy="604.8" r="5" fill="#e6194b"/>
<circle cx="650" cy="568.8" r="5" fill="#e6194b"/>
<circle cx="599.25" cy="333.25" r="5" fill="#911eb4"/>
<circle cx="354.25" cy="605" r="3.4" fill="#42d4f4"/>
<text class="nl" x="72" y="307.75">ML</text>
<text class="nl" x="94.5" y="301.25">PC</text>
<text class="nl" x="150" y="304">MP</text>
<text class="nl" x="192.5" y="341">MTT</text>
<text class="nl" x="75.75" y="354.5">EM</text>
<text class="nl" x="84.5" y="354.5">CC</text>
<text class="nl" x="41.25" y="368">DHC</text>
<text class="nl" x="53.25" y="382.25">BSC</text>
<text class="nl" x="122" y="373.5">CING</text>
<text class="nl" x="111.75" y="380.75">FX</text>
<text class="nl" x="122.5" y="392.75">EC</text>
<text class="nl" x="84.5" y="392.75">ALV</text>
<text class="nl" x="41.25" y="399.75">CPD</text>
<text class="nl" x="74" y="427">OPT</text>
<text class="nl" x="197" y="397.75">ST</text>
<text class="nl" x="215.5" y="379.5">INT</text>
<text class="nl" x="220.5" y="385">DF</text>
<text class="nl" x="330" y="401.25">ACT</text>
<text class="nl" x="273" y="179.5">APN SUB1</text>
<text class="nl" x="268.75" y="195.25">ZI</text>
<text class="nl" x="231.75" y="198.25">APN SUB2</text>
<text class="nl" x="212" y="224.5">SCIG-B</text>
<text class="nl" x="194.25" y="247.25">MRN</text>
<text class="nl" x="297" y="234.5">OP</text>
<text class="nl" x="282.5" y="242.5">SPFP</text>
<text class="nl" x="335" y="215.75">MG</text>
<text class="nl" x="330.5" y="228.75">VPLPC</text>
<text class="nl" x="369.5" y="220.75">VPL</text>
<text class="nl" x="258.75" y="275">NOT</text>
<text class="nl" x="264.5" y="283.75">SUBG</text>
<text class="nl" x="282" y="280">ICL</text>
<text class="nl" x="294.5" y="271.25">LGV</text>
<text class="nl" x="304.25" y="269.5">HY</text>
<text class="nl" x="291.25" y="286.25">LH</text>
<text class="nl" x="325" y="272.5">MGV</text>
<text class="nl" x="335" y="277.5">SNR SUB4</text>
<text class="nl" x="302" y="297.75">PP</text>
<text class="nl" x="284" y="307">STN</text>
<text class="nl" x="301.25" y="312">VTA</text>
<text class="nl" x="245.75" y="318.5">SNR</text>
<text class="nl" x="360" y="255.75">PPT</text>
<text class="nl" x="361.25" y="265.75">POL</text>
<text class="nl" x="375" y="262.5">LGD</text>
<text class="nl" x="370.5" y="308.25">VTA</text>
<text class="nl" x="347.5" y="322.5">LHA</text>
<text class="nl" x="267" y="339.5">SNC</text>
<text class="nl" x="345.5" y="347">SNC</text>
<text class="nl" x="392" y="336.5">SGN</text>
<text class="nl" x="412.5" y="342.5">PSTN</text>
<text class="nl" x="433.75" y="221.5">NPC</text>
<text class="nl" x="457" y="216.5">PAG SUB1</text>
<text class="nl" x="458" y="232">SUB1</text>
<text class="nl" x="438.75" y="247.5">SNR SUB2</text>
<text class="nl" x="450" y="254">LP</text>
<text class="nl" x="435" y="259.5">SNR SUB3</text>
<text class="nl" x="465" y="260">BG</text>
<text class="nl" x="461.5" y="295">SNR SUB6</text>
<text class="nl" x="472.5" y="299">MGD</text>
<text class="nl" x="495.75" y="227.75">HB</text>
<text class="nl" x="515" y="223.75">VPM</text>
<text class="nl" x="531.1" y="257.1">PO</text>
<text class="nl" x="429.5" y="107.75">SUM</text>
<text class="nl" x="456.25" y="123.25">PAG SUB2</text>
<text class="nl" x="513" y="344.5">RCH</text>
<text class="nl" x="545.75" y="312">SNR SUB5</text>
<text class="nl" x="573" y="315.25">SPFM</text>
<text class="nl" x="251.25" y="347.5">CP STRIAE</text>
<text class="nl" x="337.5" y="325.5">GPE SUB5</text>
<text class="nl" x="443.25" y="267">GPE SUB2</text>
<text class="nl" x="449.5" y="288.25">GPE SUB3</text>
<text class="nl" x="503.25" y="289.5">GPE SUB4</text>
<text class="nl" x="485.5" y="325.75">GPE SUB6</text>
<text class="nl" x="505" y="231.25">GPE SUB1</text>
<text class="nl" x="441.25" y="356.5">SI</text>
<text class="nl" x="469.25" y="362.5">IA</text>
<text class="nl" x="555.75" y="358.25">SAMY</text>
<text class="nl" x="595.5" y="390">IF</text>
<text class="nl" x="641.75" y="384.5">AAA</text>
<text class="nl" x="641.25" y="441.5">PR</text>
<text class="nl" x="700.75" y="244.25">CP</text>
<text class="nl" x="348.5" y="286.5">L6</text>
<text class="nl" x="468" y="213.25">SUBD-SP</text>
<text class="nl" x="549.5" y="211.5">SUBD-M</text>
<text class="nl" x="642.5" y="206.25">SUBD-SR</text>
<text class="nl" x="789.25" y="18">L1</text>
<text class="nl" x="789.25" y="97.75">L1-2</text>
<text class="nl" x="748" y="24.5">L2</text>
<text class="nl" x="635.5" y="56.5">L3</text>
<text class="nl" x="660.5" y="143.75">L4</text>
<text class="nl" x="563.75" y="142.75">L5</text>
<text class="nl" x="679.25" y="265">CA2+3-SLM</text>
<text class="nl" x="709.5" y="269.5">DG-MO1</text>
<text class="nl" x="647" y="320">CA1-SO</text>
<text class="nl" x="640.5" y="353.25">CA1-SLM</text>
<text class="nl" x="688" y="348">DG-MO2</text>
<text class="nl" x="696.25" y="369.5">DG-MO</text>
<text class="nl" x="648" y="381.25">CA2-SR</text>
<text class="nl" x="677" y="402">PIR L3</text>
<text class="nl" x="678.75" y="420.5">CA1-SLM SUB2</text>
<text class="nl" x="684.5" y="424">CA1-SG</text>
<text class="nl" x="741.25" y="398.75">CA1-SR</text>
<text class="nl" x="568.75" y="372.5">CLA</text>
<text class="nl" x="568" y="388.25">CA1-SLM SUB1</text>
<text class="nl" x="570" y="402">CA3-SO</text>
<text class="nl" x="603.75" y="456.5">CA3-SLU</text>
<text class="nl" x="608.25" y="472.75">DG-PO</text>
<text class="nl" x="654.5" y="486.5">EPD</text>
<text class="nl" x="642" y="512">CA1-SP</text>
<text class="nl" x="664.5" y="520">CA3-SLM</text>
<text class="nl" x="598" y="528.25">GC-PO</text>
<text class="nl" x="619.5" y="556.5">SUBV-SP</text>
<text class="nl" x="700.75" y="538.25">SUBV-SR</text>
<text class="nl" x="719.25" y="460.25">PIR L2</text>
<text class="nl" x="515.7" y="538.4">CA3-SP</text>
<text class="nl" x="589.3" y="616.8">DG-SG</text>
<text class="nl" x="652.5" y="580.8">CA2-SG</text>
<text class="nl" x="601.75" y="345.25">PLQ</text>
<text class="nl" x="356.75" y="617">PLX</text>
<text class="nl" x="505" y="231.5">VPMPC</text>
<text class="nl" x="664.5" y="519.5">EPD</text>
<text class="nl" x="596" y="390">TF</text>
<text class="nl" x="112" y="380.75">FR</text>
<text class="nl" x="496" y="227.75">HD L</text>
<text class="nl" x="465" y="258">IG</text>
<text x="104.4" y="333.75" font-size="30" fill="#000" textLength="52.7" lengthAdjust="spacingAndGlyphs">WM</text>
<text x="375.5" y="282" font-size="27.2" fill="#000" textLength="44.5" lengthAdjust="spacingAndGlyphs">BST</text>
<text x="278.2" y="52" font-size="28.8" fill="#ee1060" textLength="92.3" lengthAdjust="spacingAndGlyphs">CTX_L6</text>
<text x="695.2" y="113" font-size="28.8" fill="#ee1060" textLength="76.4" lengthAdjust="spacingAndGlyphs">CTX_L</text>
<text x="681" y="175" font-size="28.8" fill="#f01ef0" textLength="103.2" lengthAdjust="spacingAndGlyphs">CNU_CP</text>
<text x="119.5" y="439.6" font-size="28.8" fill="#f01ef0" textLength="201" lengthAdjust="spacingAndGlyphs">CNU_CP STRIAE</text>
<text x="684.5" y="492" font-size="28.8" fill="#ee1060" textLength="105" lengthAdjust="spacingAndGlyphs">CTX_PIR</text>
<text x="614" y="611" font-size="28.8" fill="#ee1060" textLength="114" lengthAdjust="spacingAndGlyphs">CTX_HPF</text>
<text x="9.3" y="37.8" font-size="51" fill="#000" textLength="24.4" lengthAdjust="spacingAndGlyphs">a</text>
<defs><marker id="ahr" viewBox="0 0 10 10" refX="9" refY="5" markerWidth="4" markerHeight="4" orient="auto"><path d="M0 0L10 5L0 10Z" fill="#f01010"/></marker><marker id="ahm" viewBox="0 0 10 10" refX="9" refY="5" markerWidth="4" markerHeight="4" orient="auto"><path d="M0 0L10 5L0 10Z" fill="#f01ef0"/></marker></defs>
<path d="M328.5 71.5L343.5 257" stroke="#f01010" stroke-width="2.7" stroke-dasharray="8.5 4.5" fill="none" marker-end="url(#ahr)"/>
<path d="M233.75 411.5L243.75 346" stroke="#f01ef0" stroke-width="3" stroke-dasharray="9 4" fill="none" marker-end="url(#ahm)"/>
<path d="M719.5 181.5L701.5 222" stroke="#f01ef0" stroke-width="3" stroke-dasharray="9 4" fill="none" marker-end="url(#ahm)"/>
<path d="M587.5 276.25H610V296.25H621.25L598.75 318.25L576.75 296.25H587.5Z" fill="#c864ff" stroke="#8c14c8" stroke-width="1.5" stroke-linejoin="miter"/>
<rect x="4.7" y="477.8" width="82.2" height="153" rx="2" fill="#fff" fill-opacity="0.8" stroke="#efefef" stroke-width="0.7"/>
<circle cx="24.6" cy="489.2" r="7.4" fill="#f58231"/>
<text x="51.3" y="494.2" font-size="14" fill="#111">BG</text>
<circle cx="24.6" cy="511.2" r="7.4" fill="#3cb44b"/>
<text x="51.3" y="516.2" font-size="14" fill="#111">BST</text>
<circle cx="24.6" cy="532.4" r="7.4" fill="#f032e6"/>
<text x="51.3" y="537.4" font-size="14" fill="#111">CNU</text>
<circle cx="24.6" cy="553.4" r="7.4" fill="#e6194b"/>
<text x="51.3" y="558.4" font-size="14" fill="#111">CTX</text>
<circle cx="24.6" cy="574.6" r="7.4" fill="#911eb4"/>
<text x="51.3" y="579.6" font-size="14" fill="#111">PLQ</text>
<circle cx="24.6" cy="596" r="7.4" fill="#42d4f4"/>
<text x="51.3" y="601" font-size="14" fill="#111">PLX</text>
<circle cx="24.6" cy="617" r="7.4" fill="#4363d8"/>
<text x="51.3" y="622" font-size="14" fill="#111">WM</text>
<path d="M196.25 560V610.5H246" stroke="#000" stroke-width="1.6" fill="none"/>
<path d="M196.25 551L201.5 561H191Z" fill="#000"/><path d="M254.5 610.5L244.5 615.6V605.4Z" fill="#000"/>
<text x="202" y="623.75" font-size="9.5" fill="#111" textLength="36.5" lengthAdjust="spacingAndGlyphs">UMAP1</text>
<text transform="translate(185 570) rotate(90)" font-size="9.5" fill="#111" textLength="36.5" lengthAdjust="spacingAndGlyphs">UMAP2</text>
<g id="thumbs">
<defs><filter id="spk" x="0" y="0" width="100%" height="100%"><feTurbulence type="fractalNoise" baseFrequency="1.3" numOctaves="2" seed="3" result="n"/><feColorMatrix in="n" type="matrix" values="0 0 0 0 0.66  0 0 0 0 0.56  0 0 0 0 0.80  0 0 0 -5 2.05"/><feComposite in2="SourceGraphic" operator="in"/></filter></defs>
<path d="M135.5 492.0C133.8 492.0 128.4 491.6 125.0 492.0C121.6 492.4 118.5 492.7 115.0 494.5C111.5 496.3 106.9 499.2 103.8 503.0C100.6 506.8 97.1 513.0 96.0 517.5C94.9 522.0 95.7 526.0 97.0 530.0C98.3 534.0 100.3 538.5 103.8 541.2C107.2 544.0 113.5 545.3 117.5 546.2C121.5 547.2 124.5 546.9 127.5 547.0C130.5 547.1 134.2 547.0 135.5 547.0Z" fill="#f8f5fa"/>
<path d="M135.5 492.0C133.8 492.0 128.4 491.6 125.0 492.0C121.6 492.4 118.5 492.7 115.0 494.5C111.5 496.3 106.9 499.2 103.8 503.0C100.6 506.8 97.1 513.0 96.0 517.5C94.9 522.0 95.7 526.0 97.0 530.0C98.3 534.0 100.3 538.5 103.8 541.2C107.2 544.0 113.5 545.3 117.5 546.2C121.5 547.2 124.5 546.9 127.5 547.0C130.5 547.1 134.2 547.0 135.5 547.0" fill="#000" filter="url(#spk)"/>
Z<path d="M135.5 492.0C137.1 491.9 141.8 491.3 145.0 491.5C148.2 491.7 151.5 491.6 155.0 493.0C158.5 494.4 163.0 497.0 166.2 500.0C169.5 503.0 172.8 507.5 174.5 511.2C176.2 515.0 176.7 518.6 176.5 522.5C176.3 526.4 175.2 530.8 173.5 534.5C171.8 538.2 169.3 542.2 166.2 544.5C163.2 546.8 158.5 547.5 155.0 548.0C151.5 548.5 148.2 547.7 145.0 547.5C141.8 547.3 137.1 547.1 135.5 547.0" fill="#f8128a"/>
Z<path d="M136.5 506.0C137.5 503.8 142.4 504.3 145.5 504.5C148.6 504.7 152.0 505.2 155.0 507.0C158.0 508.8 161.6 511.9 163.5 515.0C165.4 518.1 166.5 521.9 166.5 525.5C166.5 529.1 165.5 533.6 163.5 536.5C161.5 539.4 157.1 542.2 154.5 543.0C151.9 543.8 150.1 542.6 148.0 541.0C145.9 539.4 143.4 537.4 142.0 533.5C140.6 529.6 140.4 522.1 139.5 517.5C138.6 512.9 135.5 508.2 136.5 506.0Z" fill="#f032e6" stroke="#3a32ee" stroke-width="0.9"/>
<path d="M135.5 517.5L145.5 517.5L147.0 523.8L143.8 530.0L145.5 536.2L150.5 542.5L149.0 547.0L135.5 547.0Z" fill="#22e022"/>
<path d="M141.0 530.0C141.7 528.8 144.4 528.4 145.5 529.0C146.6 529.6 147.5 532.0 147.5 533.5C147.5 535.0 146.5 537.5 145.5 538.0C144.5 538.5 142.2 537.8 141.5 536.5C140.8 535.2 140.3 531.2 141.0 530.0Z" fill="#f032e6"/>
<path d="M140.5 506.5C141.5 505.5 145.8 504.9 147.0 505.5C148.2 506.1 148.4 508.8 148.0 510.0C147.6 511.2 145.7 512.8 144.5 513.0C143.3 513.2 141.7 512.6 141.0 511.5C140.3 510.4 139.5 507.5 140.5 506.5Z" fill="#fff"/>
<path d="M144.5 517.5L147.5 517.5L148.0 529.0L145.5 529.0Z" fill="#3a32ee"/>
<path d="M135.5 545.5L144.0 545.5L144.0 547.5L135.5 547.5Z" fill="#3a32ee"/>
<path d="M139.5 529.0L144.5 530.0L145.5 535.5L141.0 535.5Z" fill="#3a32ee"/>
<path d="M145.5 527.5C147.1 528.3 152.3 530.8 155.0 532.5C157.7 534.2 160.4 537.1 161.5 538.0" fill="none" stroke="#d060c0" stroke-width="0.6"/>
<path d="M135.5 562.0C134.0 562.0 129.7 561.8 126.2 562.2C122.8 562.7 119.0 562.7 115.0 564.5C111.0 566.3 105.4 569.2 102.0 573.0C98.6 576.8 95.6 582.9 94.5 587.5C93.4 592.1 94.2 596.5 95.5 600.5C96.8 604.5 99.2 608.6 102.5 611.2C105.8 613.9 110.8 615.5 115.0 616.2C119.2 617.0 124.1 615.7 127.5 615.5C130.9 615.3 134.2 615.1 135.5 615.0Z" fill="#f8f5fa"/>
<path d="M135.5 562.0C134.0 562.0 129.7 561.8 126.2 562.2C122.8 562.7 119.0 562.7 115.0 564.5C111.0 566.3 105.4 569.2 102.0 573.0C98.6 576.8 95.6 582.9 94.5 587.5C93.4 592.1 94.2 596.5 95.5 600.5C96.8 604.5 99.2 608.6 102.5 611.2C105.8 613.9 110.8 615.5 115.0 616.2C119.2 617.0 124.1 615.7 127.5 615.5C130.9 615.3 134.2 615.1 135.5 615.0" fill="#000" filter="url(#spk)"/>
Z<path d="M108.0 597.5C107.7 595.8 105.6 590.8 106.0 587.5C106.4 584.2 108.2 580.5 110.5 578.0C112.8 575.5 117.3 573.2 120.0 572.5C122.7 571.8 125.4 573.3 126.5 573.5" fill="none" stroke="#7b5fb0" stroke-width="1.1"/>
<path d="M117.5 606.2C116.5 604.8 112.7 600.6 111.5 597.5C110.3 594.4 109.9 590.3 110.5 587.5C111.1 584.7 112.9 582.1 115.0 580.5C117.1 578.9 121.7 578.4 123.0 578.0" fill="none" stroke="#7b5fb0" stroke-width="0.8"/>
<path d="M108.0 595.5C107.2 594.2 106.9 590.2 107.5 587.5C108.1 584.8 109.4 581.7 111.5 579.5C113.6 577.3 117.8 575.2 120.0 574.5C122.2 573.8 125.4 574.2 125.0 575.0C124.6 575.8 119.6 577.5 117.5 579.5C115.4 581.5 113.4 584.3 112.5 587.0C111.6 589.7 112.8 594.1 112.0 595.5C111.2 596.9 108.8 596.8 108.0 595.5Z" fill="#fff" fill-opacity="0.8"/>
<path d="M135.5 561.2C137.2 561.2 142.0 560.7 145.5 561.0C149.0 561.3 152.5 561.4 156.2 563.0C160.0 564.6 164.7 566.8 168.0 570.5C171.3 574.2 174.8 580.5 176.2 585.0C177.8 589.5 177.6 593.3 177.0 597.5C176.4 601.7 174.5 606.7 172.5 610.0C170.5 613.3 167.7 616.0 165.0 617.5C162.3 619.0 158.5 619.4 156.2 619.0C154.0 618.6 153.0 616.2 151.2 615.0C149.5 613.8 148.1 612.2 145.5 612.0C142.9 611.8 137.2 613.5 135.5 613.8" fill="#f81450"/>
Z<path d="M135.5 579.5C137.1 579.4 141.8 578.5 145.0 579.0C148.2 579.5 152.1 580.5 154.5 582.5C156.9 584.5 158.8 587.9 159.5 591.0C160.2 594.1 160.1 598.3 159.0 601.0C157.9 603.7 155.2 605.2 153.0 607.0C150.8 608.8 148.4 610.5 145.5 611.5C142.6 612.5 137.2 613.0 135.5 613.2" fill="#22e022"/>
Z<path d="M136.0 571.5C137.6 571.2 142.2 569.4 145.5 569.5C148.8 569.6 152.3 570.2 155.5 572.0C158.7 573.8 162.4 577.2 164.5 580.5C166.6 583.8 167.8 588.0 168.0 591.5C168.2 595.0 166.3 599.8 166.0 601.5" fill="none" stroke="#3a32ee" stroke-width="1.6"/>
<path d="M140.0 597.5C141.2 597.2 145.2 597.0 147.5 596.0C149.8 595.0 152.8 592.8 154.0 591.5C155.2 590.2 154.8 588.6 155.0 588.0" fill="none" stroke="#3a32ee" stroke-width="1.4"/>
<path d="M145.5 609.0C146.7 608.3 150.5 606.7 152.5 605.0C154.5 603.3 156.7 600.0 157.5 599.0" fill="none" stroke="#3a32ee" stroke-width="2.6" stroke-linecap="round"/>
<path d="M135.5 569.0C136.5 568.8 139.8 567.9 141.5 567.5C143.2 567.1 145.5 565.8 146.0 566.5C146.5 567.2 145.5 570.2 144.5 571.5C143.5 572.8 141.5 573.7 140.0 574.5C138.5 575.3 136.2 576.2 135.5 576.5Z" fill="#3a32ee"/>
<path d="M167.5 592.0C167.9 592.0 168.9 595.5 168.5 597.5C168.1 599.5 166.0 603.1 165.0 604.0C164.0 604.9 162.3 604.1 162.5 603.0C162.7 601.9 165.2 599.3 166.0 597.5C166.8 595.7 167.1 592.0 167.5 592.0Z" fill="#fff"/>
<path d="M135.5 614.2L135.5 580.0L136.5 580.0L136.5 614.2Z" fill="#22e022" stroke="#f81450" stroke-width="0"/>
<path d="M140.0 621.5C140.2 620.6 141.6 618.3 142.5 617.5C143.4 616.7 144.5 616.2 145.5 616.5C146.5 616.8 148.1 618.1 148.5 619.0C148.9 619.9 148.7 621.8 148.0 622.0C147.3 622.2 145.6 620.3 144.5 620.5C143.4 620.7 142.2 622.8 141.5 623.0C140.8 623.2 139.8 622.4 140.0 621.5Z" fill="#7b5fb0"/>
</g>
</g>
<g id="panel-b">
<rect x="0" y="634" width="398" height="414" fill="#000"/>
<defs>
<clipPath id="brainclip"><path d="M48.8 18.0L105.0 18.8L117.5 25.0L150.0 45.0L176.0 67.5L186.0 92.5L186.0 107.5L172.5 140.0L176.0 160.0L175.0 180.0L166.0 192.5L115.0 196.0L52.5 184.0L25.0 177.5L22.5 155.0L27.5 117.5L35.0 77.5L41.0 67.5L36.0 37.5L38.8 32.5Z"/></clipPath>
<filter id="bl1" x="-20%" y="-20%" width="140%" height="140%"><feGaussianBlur stdDeviation="1.2"/></filter>
<filter id="bl3" x="-20%" y="-20%" width="140%" height="140%"><feGaussianBlur stdDeviation="3"/></filter>
<filter id="grD" x="0" y="0" width="100%" height="100%"><feTurbulence type="fractalNoise" baseFrequency="0.32" numOctaves="2" seed="5"/><feColorMatrix type="matrix" values="0 0 0 0 0  0 0 0 0 0  0 0 0 0 0  0.9 0 0 0 -0.36"/></filter>
<filter id="grL" x="0" y="0" width="100%" height="100%"><feTurbulence type="fractalNoise" baseFrequency="0.35" numOctaves="2" seed="11"/><feColorMatrix type="matrix" values="0 0 0 0 1  0 0 0 0 1  0 0 0 0 1  0 0.7 0 0 -0.3"/></filter>
</defs>
<g transform="translate(10 634)">
<clipPath id="bc1"><path d="M48.8 18.0L105.0 18.8L116.0 25.0L150.0 45.0L176.0 67.5L185.0 82.5L181.0 107.5L170.0 141.0L176.0 160.0L176.0 175.0L170.0 195.0L115.0 199.0L52.5 186.0L31.0 175.0L22.5 155.0L27.5 117.5L36.0 75.0L40.0 67.5L44.0 62.5L37.5 37.5L40.0 27.5Z"/></clipPath>
<g clip-path="url(#bc1)">
<path d="M48.8 18.0L105.0 18.8L116.0 25.0L150.0 45.0L176.0 67.5L185.0 82.5L181.0 107.5L170.0 141.0L176.0 160.0L176.0 175.0L170.0 195.0L115.0 199.0L52.5 186.0L31.0 175.0L22.5 155.0L27.5 117.5L36.0 75.0L40.0 67.5L44.0 62.5L37.5 37.5L40.0 27.5Z" fill="#0a00b4"/>
<path d="M48.8 18.0L105.0 18.8L116.0 25.0L150.0 45.0L176.0 67.5L185.0 82.5L181.0 107.5L170.0 141.0L176.0 160.0L176.0 175.0L170.0 195.0L115.0 199.0L52.5 186.0L31.0 175.0L22.5 155.0L27.5 117.5L36.0 75.0L40.0 67.5L44.0 62.5L37.5 37.5L40.0 27.5Z" fill="#0e00c8" stroke="#0a00b4" stroke-width="7" stroke-linejoin="round" filter="url(#bl1)"/>
<path d="M38.0 50.0C43.3 47.7 57.7 37.3 70.0 36.0C82.3 34.7 98.7 36.0 112.0 42.0C125.3 48.0 140.7 60.3 150.0 72.0C159.3 83.7 165.7 99.0 168.0 112.0C170.3 125.0 166.0 137.0 164.0 150.0C162.0 163.0 157.3 183.3 156.0 190.0" fill="none" stroke="#2a1cff" stroke-width="3" filter="url(#bl1)" opacity="0.45"/>
<path d="M40.0 72.0C44.2 69.1 49.2 63.2 55.0 60.0C60.8 56.8 66.3 53.0 75.0 53.0C83.7 53.0 97.0 54.7 107.0 60.0C117.0 65.3 128.2 75.3 135.0 85.0C141.8 94.7 146.2 106.8 148.0 118.0C149.8 129.2 148.8 140.8 146.0 152.0C143.2 163.2 135.3 177.2 131.0 185.0C126.7 192.8 133.1 196.5 120.0 199.0C106.9 201.5 70.0 201.5 52.5 200.0C35.0 198.5 21.2 198.3 15.0 190.0C8.8 181.7 14.2 163.3 15.0 150.0C15.8 136.7 17.5 122.1 20.0 110.0C22.5 97.9 26.7 83.8 30.0 77.5C33.3 71.2 35.8 74.9 40.0 72.0Z" fill="#0a00a0" filter="url(#bl1)"/>
<path d="M46.0 74.0C50.8 71.5 65.3 60.3 75.0 59.0C84.7 57.7 95.2 61.0 104.0 66.0C112.8 71.0 122.3 80.0 128.0 89.0C133.7 98.0 136.8 109.5 138.0 120.0C139.2 130.5 138.0 141.7 135.0 152.0C132.0 162.3 124.2 174.7 120.0 182.0C115.8 189.3 111.7 193.7 110.0 196.0" fill="none" stroke="#1000c0" stroke-width="5" filter="url(#bl1)"/>
<path d="M52.0 76.0C55.8 74.3 67.0 66.3 75.0 66.0C83.0 65.7 92.5 69.2 100.0 74.0C107.5 78.8 115.3 87.0 120.0 95.0C124.7 103.0 127.3 112.8 128.0 122.0C128.7 131.2 127.3 140.7 124.0 150.0C120.7 159.3 112.3 171.0 108.0 178.0C103.7 185.0 99.7 189.7 98.0 192.0" fill="none" stroke="#0c00b0" stroke-width="5" filter="url(#bl1)"/>
<path d="M40.0 72.0C42.5 70.0 49.2 63.2 55.0 60.0C60.8 56.8 66.3 53.0 75.0 53.0C83.7 53.0 97.0 54.7 107.0 60.0C117.0 65.3 128.2 75.3 135.0 85.0C141.8 94.7 146.2 106.8 148.0 118.0C149.8 129.2 148.8 140.8 146.0 152.0C143.2 163.2 135.3 177.2 131.0 185.0C126.7 192.8 121.8 196.7 120.0 199.0" fill="none" stroke="#2c20ff" stroke-width="3" filter="url(#bl1)"/>
<path d="M33.0 77.5C39.2 71.2 54.2 77.5 62.5 80.0C70.8 82.5 76.2 87.9 82.5 92.5C88.8 97.1 95.8 102.1 100.0 107.5C104.2 112.9 107.0 118.3 107.5 125.0C108.0 131.7 106.2 140.0 103.0 147.5C99.8 155.0 92.2 163.9 88.0 170.0C83.8 176.1 83.4 181.3 77.5 184.0C71.6 186.7 61.8 186.8 52.5 186.0C43.2 185.2 27.4 184.2 22.0 179.0C16.6 173.8 19.5 165.2 20.0 155.0C20.5 144.8 22.8 130.4 25.0 117.5C27.2 104.6 26.8 83.8 33.0 77.5Z" fill="#1608e0" stroke="#2a20ff" stroke-width="2" filter="url(#bl1)"/>
<path d="M40.0 67.5C42.1 67.2 48.3 66.1 52.5 65.5C56.7 64.9 61.6 64.9 65.0 63.8C68.4 62.6 71.7 59.4 73.0 58.5" fill="none" stroke="#020040" stroke-width="4.5" stroke-linecap="round" opacity="0.9" filter="url(#bl1)"/>
<path d="M50.0 176.0C52.5 176.8 59.2 179.8 65.0 181.0C70.8 182.2 81.7 182.7 85.0 183.0" fill="none" stroke="#040060" stroke-width="1.5" stroke-linecap="round" opacity="0.8"/>
<ellipse cx="60" cy="150" rx="28" ry="22" fill="#2a22ff" opacity="0.7" filter="url(#bl3)"/>
<ellipse cx="48" cy="100" rx="14" ry="14" fill="#1c10f0" opacity="0.6" filter="url(#bl3)"/>
<ellipse cx="70" cy="40" rx="30" ry="8" fill="#1a10f0" opacity="0.6" filter="url(#bl3)"/>
<rect x="0" y="0" width="200" height="210" filter="url(#grD)" opacity="0.5"/>
<rect x="0" y="0" width="200" height="210" filter="url(#grL)" opacity="0.25"/>
</g></g>
<g transform="translate(200 634)">
<clipPath id="bc2"><path d="M48.8 18.0L105.0 18.8L117.5 25.0L150.0 45.0L176.0 67.5L186.0 92.5L186.0 107.5L172.5 140.0L176.0 160.0L175.0 180.0L166.0 192.5L115.0 196.0L52.5 184.0L25.0 177.5L22.5 155.0L27.5 117.5L35.0 77.5L41.0 67.5L36.0 37.5L38.8 32.5Z"/></clipPath>
<g clip-path="url(#bc2)">
<path d="M48.8 18.0L105.0 18.8L117.5 25.0L150.0 45.0L176.0 67.5L186.0 92.5L186.0 107.5L172.5 140.0L176.0 160.0L175.0 180.0L166.0 192.5L115.0 196.0L52.5 184.0L25.0 177.5L22.5 155.0L27.5 117.5L35.0 77.5L41.0 67.5L36.0 37.5L38.8 32.5Z" fill="#1fa01f"/>
<path d="M48.8 18.0L105.0 18.8L117.5 25.0L150.0 45.0L176.0 67.5L186.0 92.5L186.0 107.5L172.5 140.0L176.0 160.0L175.0 180.0L166.0 192.5L115.0 196.0L52.5 184.0L25.0 177.5L22.5 155.0L27.5 117.5L35.0 77.5L41.0 67.5L36.0 37.5L38.8 32.5Z" fill="#148c14" stroke="#1fa01f" stroke-width="24" stroke-linejoin="round" filter="url(#bl1)"/>
<path d="M38.0 50.0C43.3 47.7 57.7 37.3 70.0 36.0C82.3 34.7 98.7 36.0 112.0 42.0C125.3 48.0 140.7 60.3 150.0 72.0C159.3 83.7 165.7 99.0 168.0 112.0C170.3 125.0 166.0 137.0 164.0 150.0C162.0 163.0 157.3 183.3 156.0 190.0" fill="none" stroke="#0f7a0f" stroke-width="10" filter="url(#bl1)" opacity="1"/>
<path d="M40.0 72.0C44.2 69.1 49.2 63.2 55.0 60.0C60.8 56.8 66.3 53.0 75.0 53.0C83.7 53.0 97.0 54.7 107.0 60.0C117.0 65.3 128.2 75.3 135.0 85.0C141.8 94.7 146.2 106.8 148.0 118.0C149.8 129.2 148.8 140.8 146.0 152.0C143.2 163.2 135.3 177.2 131.0 185.0C126.7 192.8 133.1 196.5 120.0 199.0C106.9 201.5 70.0 201.5 52.5 200.0C35.0 198.5 21.2 198.3 15.0 190.0C8.8 181.7 14.2 163.3 15.0 150.0C15.8 136.7 17.5 122.1 20.0 110.0C22.5 97.9 26.7 83.8 30.0 77.5C33.3 71.2 35.8 74.9 40.0 72.0Z" fill="#0a620a" filter="url(#bl1)"/>
<path d="M46.0 74.0C50.8 71.5 65.3 60.3 75.0 59.0C84.7 57.7 95.2 61.0 104.0 66.0C112.8 71.0 122.3 80.0 128.0 89.0C133.7 98.0 136.8 109.5 138.0 120.0C139.2 130.5 138.0 141.7 135.0 152.0C132.0 162.3 124.2 174.7 120.0 182.0C115.8 189.3 111.7 193.7 110.0 196.0" fill="none" stroke="#084e08" stroke-width="5" filter="url(#bl1)"/>
<path d="M52.0 76.0C55.8 74.3 67.0 66.3 75.0 66.0C83.0 65.7 92.5 69.2 100.0 74.0C107.5 78.8 115.3 87.0 120.0 95.0C124.7 103.0 127.3 112.8 128.0 122.0C128.7 131.2 127.3 140.7 124.0 150.0C120.7 159.3 112.3 171.0 108.0 178.0C103.7 185.0 99.7 189.7 98.0 192.0" fill="none" stroke="#0c700c" stroke-width="5" filter="url(#bl1)"/>
<path d="M40.0 72.0C42.5 70.0 49.2 63.2 55.0 60.0C60.8 56.8 66.3 53.0 75.0 53.0C83.7 53.0 97.0 54.7 107.0 60.0C117.0 65.3 128.2 75.3 135.0 85.0C141.8 94.7 146.2 106.8 148.0 118.0C149.8 129.2 148.8 140.8 146.0 152.0C143.2 163.2 135.3 177.2 131.0 185.0C126.7 192.8 121.8 196.7 120.0 199.0" fill="none" stroke="#0a5a0a" stroke-width="5" filter="url(#bl1)"/>
<path d="M33.0 77.5C39.2 71.2 54.2 77.5 62.5 80.0C70.8 82.5 76.2 87.9 82.5 92.5C88.8 97.1 95.8 102.1 100.0 107.5C104.2 112.9 107.0 118.3 107.5 125.0C108.0 131.7 106.2 140.0 103.0 147.5C99.8 155.0 92.2 163.9 88.0 170.0C83.8 176.1 83.4 181.3 77.5 184.0C71.6 186.7 61.8 186.8 52.5 186.0C43.2 185.2 27.4 184.2 22.0 179.0C16.6 173.8 19.5 165.2 20.0 155.0C20.5 144.8 22.8 130.4 25.0 117.5C27.2 104.6 26.8 83.8 33.0 77.5Z" fill="#22b422" stroke="#2cc42c" stroke-width="2" filter="url(#bl1)"/>
<path d="M65.0 77.5C67.9 75.8 75.8 68.3 82.5 67.5C89.2 66.7 97.9 68.3 105.0 72.5C112.1 76.7 120.4 85.0 125.0 92.5C129.6 100.0 132.1 107.9 132.5 117.5C132.9 127.1 131.2 140.4 127.5 150.0C123.8 159.6 112.9 170.8 110.0 175.0" fill="none" stroke="#168c16" stroke-width="2" stroke-linecap="round" opacity="0.9" filter="url(#bl1)"/>
<ellipse cx="50" cy="120" rx="22" ry="30" fill="#34cc34" opacity="0.6" filter="url(#bl3)"/>
<ellipse cx="75" cy="165" rx="14" ry="10" fill="#107010" opacity="0.6" filter="url(#bl3)"/>
<rect x="0" y="0" width="200" height="210" filter="url(#grD)" opacity="0.5"/>
<rect x="0" y="0" width="200" height="210" filter="url(#grL)" opacity="0.25"/>
</g></g>
<g transform="translate(1 829.5)">
<clipPath id="bc3"><path d="M49.0 18.0L104.0 18.5L116.5 26.0L149.0 46.0L175.0 68.5L186.5 93.5L185.0 108.5L173.0 141.0L175.0 161.0L174.0 181.0L165.0 193.5L114.0 197.2L51.5 184.5L24.0 178.5L21.5 156.0L26.5 118.5L34.0 78.5L40.0 68.5L35.0 38.5L37.8 33.5Z"/></clipPath>
<g clip-path="url(#bc3)">
<path d="M49.0 18.0L104.0 18.5L116.5 26.0L149.0 46.0L175.0 68.5L186.5 93.5L185.0 108.5L173.0 141.0L175.0 161.0L174.0 181.0L165.0 193.5L114.0 197.2L51.5 184.5L24.0 178.5L21.5 156.0L26.5 118.5L34.0 78.5L40.0 68.5L35.0 38.5L37.8 33.5Z" fill="#e00000"/>
<path d="M49.0 18.0L104.0 18.5L116.5 26.0L149.0 46.0L175.0 68.5L186.5 93.5L185.0 108.5L173.0 141.0L175.0 161.0L174.0 181.0L165.0 193.5L114.0 197.2L51.5 184.5L24.0 178.5L21.5 156.0L26.5 118.5L34.0 78.5L40.0 68.5L35.0 38.5L37.8 33.5Z" fill="#f40808" stroke="#e00000" stroke-width="7" stroke-linejoin="round" filter="url(#bl1)"/>
<path d="M38.0 50.0C43.3 47.7 57.7 37.3 70.0 36.0C82.3 34.7 98.7 36.0 112.0 42.0C125.3 48.0 140.7 60.3 150.0 72.0C159.3 83.7 165.7 99.0 168.0 112.0C170.3 125.0 166.0 137.0 164.0 150.0C162.0 163.0 157.3 183.3 156.0 190.0" fill="none" stroke="#ff1a1a" stroke-width="8" filter="url(#bl1)" opacity="1"/>
<path d="M40.0 72.0C44.2 69.1 49.2 63.2 55.0 60.0C60.8 56.8 66.3 53.0 75.0 53.0C83.7 53.0 97.0 54.7 107.0 60.0C117.0 65.3 128.2 75.3 135.0 85.0C141.8 94.7 146.2 106.8 148.0 118.0C149.8 129.2 148.8 140.8 146.0 152.0C143.2 163.2 135.3 177.2 131.0 185.0C126.7 192.8 133.1 196.5 120.0 199.0C106.9 201.5 70.0 201.5 52.5 200.0C35.0 198.5 21.2 198.3 15.0 190.0C8.8 181.7 14.2 163.3 15.0 150.0C15.8 136.7 17.5 122.1 20.0 110.0C22.5 97.9 26.7 83.8 30.0 77.5C33.3 71.2 35.8 74.9 40.0 72.0Z" fill="#f80a0a" filter="url(#bl1)"/>
<path d="M46.0 74.0C50.8 71.5 65.3 60.3 75.0 59.0C84.7 57.7 95.2 61.0 104.0 66.0C112.8 71.0 122.3 80.0 128.0 89.0C133.7 98.0 136.8 109.5 138.0 120.0C139.2 130.5 138.0 141.7 135.0 152.0C132.0 162.3 124.2 174.7 120.0 182.0C115.8 189.3 111.7 193.7 110.0 196.0" fill="none" stroke="#e80404" stroke-width="5" filter="url(#bl1)"/>
<path d="M52.0 76.0C55.8 74.3 67.0 66.3 75.0 66.0C83.0 65.7 92.5 69.2 100.0 74.0C107.5 78.8 115.3 87.0 120.0 95.0C124.7 103.0 127.3 112.8 128.0 122.0C128.7 131.2 127.3 140.7 124.0 150.0C120.7 159.3 112.3 171.0 108.0 178.0C103.7 185.0 99.7 189.7 98.0 192.0" fill="none" stroke="#ff1818" stroke-width="5" filter="url(#bl1)"/>
<path d="M40.0 72.0C42.5 70.0 49.2 63.2 55.0 60.0C60.8 56.8 66.3 53.0 75.0 53.0C83.7 53.0 97.0 54.7 107.0 60.0C117.0 65.3 128.2 75.3 135.0 85.0C141.8 94.7 146.2 106.8 148.0 118.0C149.8 129.2 148.8 140.8 146.0 152.0C143.2 163.2 135.3 177.2 131.0 185.0C126.7 192.8 121.8 196.7 120.0 199.0" fill="none" stroke="#7a0000" stroke-width="3.2" filter="url(#bl1)"/>
<path d="M33.0 81.5C39.2 75.7 54.2 80.5 62.5 82.5C70.8 84.5 76.4 89.2 82.5 93.5C88.6 97.8 95.2 103.2 99.0 108.5C102.8 113.8 105.1 118.5 105.5 125.0C105.9 131.5 104.4 140.0 101.5 147.5C98.6 155.0 92.0 163.9 88.0 170.0C84.0 176.1 83.4 181.3 77.5 184.0C71.6 186.7 61.8 186.8 52.5 186.0C43.2 185.2 27.4 184.2 22.0 179.0C16.6 173.8 19.5 165.2 20.0 155.0C20.5 144.8 22.8 129.8 25.0 117.5C27.2 105.2 26.8 87.3 33.0 81.5Z" fill="#8a0000" stroke="#600000" stroke-width="2" filter="url(#bl1)"/>
<path d="M42.8 62.2C44.0 61.2 47.1 58.1 50.2 56.0C53.4 53.9 57.5 51.0 61.5 49.8C65.5 48.5 71.9 48.7 74.0 48.5" fill="none" stroke="#380000" stroke-width="5" stroke-linecap="round" opacity="0.9" filter="url(#bl1)"/>
<path d="M27.5 121.0C27.1 127.2 24.2 148.9 25.0 158.5C25.8 168.1 30.8 175.2 32.0 178.5" fill="none" stroke="#c80000" stroke-width="7" stroke-linecap="round" opacity="0.7" filter="url(#bl3)"/>
<ellipse cx="60" cy="140" rx="26" ry="26" fill="#5a0000" opacity="0.7" filter="url(#bl3)"/>
<ellipse cx="45" cy="95" rx="12" ry="12" fill="#a00000" opacity="0.6" filter="url(#bl3)"/>
<ellipse cx="52" cy="55" rx="14" ry="6" fill="#700000" opacity="0.8" filter="url(#bl3)"/>
<rect x="0" y="0" width="200" height="210" filter="url(#grD)" opacity="0.35"/>
<rect x="0" y="0" width="200" height="210" filter="url(#grL)" opacity="0.1"/>
</g></g>
<g transform="translate(193.5 829.5)">
<clipPath id="bc4"><path d="M49.0 18.0L105.2 19.0L119.0 26.0L150.2 46.0L176.5 68.5L186.5 93.5L185.2 108.5L172.5 141.0L176.5 161.0L174.0 181.0L166.5 193.5L114.0 196.5L51.5 183.5L24.0 178.5L22.0 156.0L27.5 118.5L35.2 78.5L41.5 68.5L36.0 38.5L39.0 33.5Z"/></clipPath>
<g clip-path="url(#bc4)">
<path d="M49.0 18.0L105.2 19.0L119.0 26.0L150.2 46.0L176.5 68.5L186.5 93.5L185.2 108.5L172.5 141.0L176.5 161.0L174.0 181.0L166.5 193.5L114.0 196.5L51.5 183.5L24.0 178.5L22.0 156.0L27.5 118.5L35.2 78.5L41.5 68.5L36.0 38.5L39.0 33.5Z" fill="#c8a860"/>
<path d="M49.0 18.0L105.2 19.0L119.0 26.0L150.2 46.0L176.5 68.5L186.5 93.5L185.2 108.5L172.5 141.0L176.5 161.0L174.0 181.0L166.5 193.5L114.0 196.5L51.5 183.5L24.0 178.5L22.0 156.0L27.5 118.5L35.2 78.5L41.5 68.5L36.0 38.5L39.0 33.5Z" fill="#f08a58" stroke="#c8a860" stroke-width="18" stroke-linejoin="round" filter="url(#bl1)"/>
<path d="M38.0 50.0C43.3 47.7 57.7 37.3 70.0 36.0C82.3 34.7 98.7 36.0 112.0 42.0C125.3 48.0 140.7 60.3 150.0 72.0C159.3 83.7 165.7 99.0 168.0 112.0C170.3 125.0 166.0 137.0 164.0 150.0C162.0 163.0 157.3 183.3 156.0 190.0" fill="none" stroke="#e8a070" stroke-width="8" filter="url(#bl1)" opacity="1"/>
<path d="M40.0 72.0C44.2 69.1 49.2 63.2 55.0 60.0C60.8 56.8 66.3 53.0 75.0 53.0C83.7 53.0 97.0 54.7 107.0 60.0C117.0 65.3 128.2 75.3 135.0 85.0C141.8 94.7 146.2 106.8 148.0 118.0C149.8 129.2 148.8 140.8 146.0 152.0C143.2 163.2 135.3 177.2 131.0 185.0C126.7 192.8 133.1 196.5 120.0 199.0C106.9 201.5 70.0 201.5 52.5 200.0C35.0 198.5 21.2 198.3 15.0 190.0C8.8 181.7 14.2 163.3 15.0 150.0C15.8 136.7 17.5 122.1 20.0 110.0C22.5 97.9 26.7 83.8 30.0 77.5C33.3 71.2 35.8 74.9 40.0 72.0Z" fill="#f47050" filter="url(#bl1)"/>
<path d="M46.0 74.0C50.8 71.5 65.3 60.3 75.0 59.0C84.7 57.7 95.2 61.0 104.0 66.0C112.8 71.0 122.3 80.0 128.0 89.0C133.7 98.0 136.8 109.5 138.0 120.0C139.2 130.5 138.0 141.7 135.0 152.0C132.0 162.3 124.2 174.7 120.0 182.0C115.8 189.3 111.7 193.7 110.0 196.0" fill="none" stroke="#f06048" stroke-width="5" filter="url(#bl1)"/>
<path d="M52.0 76.0C55.8 74.3 67.0 66.3 75.0 66.0C83.0 65.7 92.5 69.2 100.0 74.0C107.5 78.8 115.3 87.0 120.0 95.0C124.7 103.0 127.3 112.8 128.0 122.0C128.7 131.2 127.3 140.7 124.0 150.0C120.7 159.3 112.3 171.0 108.0 178.0C103.7 185.0 99.7 189.7 98.0 192.0" fill="none" stroke="#f88060" stroke-width="5" filter="url(#bl1)"/>
<path d="M40.0 72.0C42.5 70.0 49.2 63.2 55.0 60.0C60.8 56.8 66.3 53.0 75.0 53.0C83.7 53.0 97.0 54.7 107.0 60.0C117.0 65.3 128.2 75.3 135.0 85.0C141.8 94.7 146.2 106.8 148.0 118.0C149.8 129.2 148.8 140.8 146.0 152.0C143.2 163.2 135.3 177.2 131.0 185.0C126.7 192.8 121.8 196.7 120.0 199.0" fill="none" stroke="#80bce0" stroke-width="3.6" filter="url(#bl1)"/>
<path d="M33.0 79.8C40.3 73.9 59.7 80.0 69.0 82.2C78.3 84.5 83.5 88.3 89.0 93.5C94.5 98.7 99.6 107.7 102.0 113.5C104.4 119.3 104.4 122.7 103.5 128.5C102.6 134.3 99.3 141.8 96.5 148.5C93.7 155.2 89.8 162.9 86.5 168.5C83.2 174.1 82.3 179.2 76.5 182.0C70.7 184.8 60.6 185.3 51.5 185.0C42.4 184.7 27.2 185.0 22.0 180.0C16.8 175.0 19.5 165.4 20.0 155.0C20.5 144.6 22.8 130.0 25.0 117.5C27.2 105.0 25.7 85.6 33.0 79.8Z" fill="#8cdcd4" stroke="#60d0a0" stroke-width="2" filter="url(#bl1)"/>
<path d="M40.0 72.0C42.5 70.0 49.2 63.2 55.0 60.0C60.8 56.8 66.3 53.0 75.0 53.0C83.7 53.0 97.0 54.7 107.0 60.0C117.0 65.3 128.2 75.3 135.0 85.0C141.8 94.7 146.2 106.8 148.0 118.0C149.8 129.2 148.8 140.8 146.0 152.0C143.2 163.2 135.3 177.2 131.0 185.0C126.7 192.8 121.8 196.7 120.0 199.0" fill="none" stroke="#48d030" stroke-width="1.5" stroke-linecap="round" opacity="0.9"/>
<path d="M46.5 183.0C49.5 182.8 59.1 182.7 64.5 181.5C69.9 180.3 75.1 178.5 79.0 176.0C82.9 173.5 86.5 168.1 88.0 166.5" fill="none" stroke="#40e020" stroke-width="3" stroke-linecap="round" opacity="0.95"/>
<path d="M102.5 116.0C102.8 118.3 104.6 125.1 104.0 130.0C103.4 134.9 99.8 142.9 99.0 145.5" fill="none" stroke="#50d830" stroke-width="2" stroke-linecap="round" opacity="0.9"/>
<path d="M23.0 118.0C22.5 124.2 20.0 145.0 20.0 155.0C20.0 165.0 22.5 174.2 23.0 178.0" fill="none" stroke="#a8fa70" stroke-width="7" stroke-linecap="round" opacity="0.8" filter="url(#bl1)"/>
<ellipse cx="40" cy="140" rx="12" ry="40" fill="#a8f070" opacity="0.8" filter="url(#bl3)"/>
<ellipse cx="62" cy="140" rx="22" ry="26" fill="#90d4e0" opacity="0.7" filter="url(#bl3)"/>
<ellipse cx="62" cy="164" rx="10" ry="8" fill="#dca860" opacity="0.85" filter="url(#bl3)"/>
<ellipse cx="50" cy="56" rx="14" ry="5" fill="#50c050" opacity="0.9" filter="url(#bl3)"/>
<rect x="0" y="0" width="200" height="210" filter="url(#grD)" opacity="0.3"/>
<rect x="0" y="0" width="200" height="210" filter="url(#grL)" opacity="0.2"/>
</g></g>
<text x="8.5" y="683" font-size="53" fill="#fff">b</text>
<text x="55" y="697.75" font-size="19.4" fill="#fff" textLength="34.4" lengthAdjust="spacingAndGlyphs">WM</text>
<text x="65" y="752.75" font-size="19.4" fill="#fff" textLength="34.4" lengthAdjust="spacingAndGlyphs">WM</text>
<text x="247.9" y="767.5" font-size="18.8" fill="#fff" textLength="29.6" lengthAdjust="spacingAndGlyphs">BST</text>
<text x="101.9" y="879.4" font-size="18.8" fill="#fff" textLength="30.9" lengthAdjust="spacingAndGlyphs">CTX</text>
<text x="106.9" y="941" font-size="18.8" fill="#fff" textLength="31.2" lengthAdjust="spacingAndGlyphs">HPF</text>
<text x="242.25" y="892.7" font-size="18.4" fill="#111" textLength="34.5" lengthAdjust="spacingAndGlyphs">WM</text>
<text x="296.7" y="885.5" font-size="18.4" fill="#111" textLength="31" lengthAdjust="spacingAndGlyphs">CTX</text>
<text x="251.7" y="944" font-size="18.4" fill="#111" textLength="34.5" lengthAdjust="spacingAndGlyphs">WM</text>
<text x="300.75" y="944" font-size="18.4" fill="#111" textLength="31.5" lengthAdjust="spacingAndGlyphs">HPF</text>
<text x="234.3" y="965.75" font-size="18.4" fill="#111" textLength="30" lengthAdjust="spacingAndGlyphs">BST</text>
</g>
<g id="panel-c">
<text x="416" y="683" font-size="54" fill="#000">c</text>
<ellipse cx="0" cy="0" rx="120" ry="74.5" transform="translate(558 812.25) rotate(40.6)" fill="#00b050" fill-opacity="0.2" stroke="none"/>
<ellipse cx="0" cy="0" rx="120" ry="74.5" transform="translate(593 782.25) rotate(40.6)" fill="#ff00ff" fill-opacity="0.2" stroke="none"/>
<ellipse cx="0" cy="0" rx="118.6" ry="73.2" transform="translate(626.1 781.9) rotate(-40.6)" fill="#ff0000" fill-opacity="0.2" stroke="none"/>
<ellipse cx="0" cy="0" rx="120" ry="74.5" transform="translate(661.25 811.75) rotate(-40.6)" fill="#0000ff" fill-opacity="0.2" stroke="none"/>
<ellipse cx="0" cy="0" rx="120" ry="74.5" transform="translate(558 812.25) rotate(40.6)" fill="none" stroke="#00a651" stroke-width="1.8"/>
<ellipse cx="0" cy="0" rx="120" ry="74.5" transform="translate(593 782.25) rotate(40.6)" fill="none" stroke="#d400d4" stroke-width="1.8"/>
<ellipse cx="0" cy="0" rx="118.6" ry="73.2" transform="translate(626.1 781.9) rotate(-40.6)" fill="none" stroke="#e20010" stroke-width="1.8"/>
<ellipse cx="0" cy="0" rx="120" ry="74.5" transform="translate(661.25 811.75) rotate(-40.6)" fill="none" stroke="#0000f0" stroke-width="1.8"/>
<text x="539.5" y="714" font-size="19.2" text-anchor="middle" fill="#111">19</text>
<text x="669.5" y="713" font-size="19.2" text-anchor="middle" fill="#111">58</text>
<text x="609.5" y="737" font-size="19.2" text-anchor="middle" fill="#111">44</text>
<text x="522.5" y="758" font-size="19.2" text-anchor="middle" fill="#111">3</text>
<text x="696.5" y="760" font-size="19.2" text-anchor="middle" fill="#111">16</text>
<text x="560.5" y="789" font-size="19.2" text-anchor="middle" fill="#111">59</text>
<text x="657.5" y="791" font-size="19.2" text-anchor="middle" fill="#111">10</text>
<text x="487.5" y="812" font-size="19.2" text-anchor="middle" fill="#111">7</text>
<text x="729.5" y="810" font-size="19.2" text-anchor="middle" fill="#111">39</text>
<text x="612.5" y="830" font-size="19.2" text-anchor="middle" fill="#111">91</text>
<text x="542.5" y="859" font-size="19.2" text-anchor="middle" fill="#111">25</text>
<text x="672.5" y="861" font-size="19.2" text-anchor="middle" fill="#111">7</text>
<text x="570.5" y="875" font-size="19.2" text-anchor="middle" fill="#111">40</text>
<text x="643.5" y="877" font-size="19.2" text-anchor="middle" fill="#111">19</text>
<text x="611.5" y="898" font-size="19.2" text-anchor="middle" fill="#111">5</text>
<circle cx="468.5" cy="942.5" r="11" fill="#ff1464"/>
<text x="482.5" y="951.5" font-size="26.5" fill="#111" textLength="43.5" lengthAdjust="spacingAndGlyphs">CTX</text>
<circle cx="545" cy="942.5" r="11" fill="#9600d2"/>
<text x="559" y="951.5" font-size="26.5" fill="#111" textLength="48" lengthAdjust="spacingAndGlyphs">CNU</text>
<circle cx="627.5" cy="942.5" r="11" fill="#00b050"/>
<text x="641" y="951.5" font-size="26.5" fill="#111" textLength="38" lengthAdjust="spacingAndGlyphs">BST</text>
<circle cx="697.5" cy="942.5" r="11" fill="#0000ff"/>
<text x="710" y="951.5" font-size="26.5" fill="#111" textLength="47" lengthAdjust="spacingAndGlyphs">WM</text>
<text x="431" y="1007.5" font-size="22" fill="#111" textLength="344" lengthAdjust="spacingAndGlyphs">m/z values identified by the model</text>
</g>
</svg>
</body></html>
